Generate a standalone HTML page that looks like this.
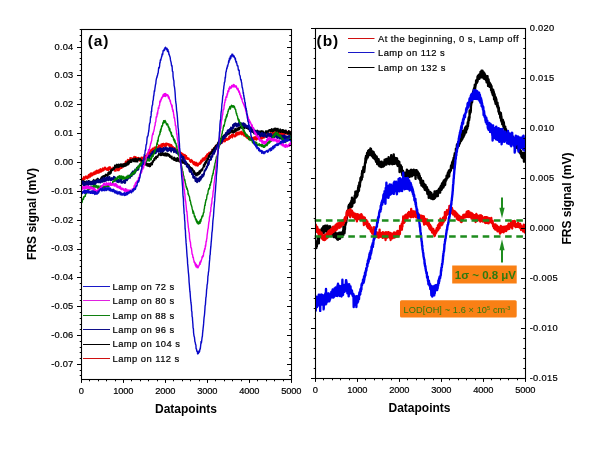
<!DOCTYPE html><html><head><meta charset="utf-8"><style>html,body{margin:0;padding:0;background:#fff;}svg{display:block;}</style></head><body><svg width="606" height="455" viewBox="0 0 606 455" font-family="'Liberation Sans', Arial, sans-serif">
<rect width="606" height="455" fill="#fff"/>
<defs><clipPath id="ca"><rect x="81.5" y="29.5" width="210.0" height="350.0"/></clipPath><clipPath id="cb"><rect x="315.5" y="28.5" width="210.0" height="350.0"/></clipPath></defs>
<g clip-path="url(#ca)">
<path d="M81.5 180.0l0.3 1.6 0.2 -3.2 0.3 2.9 0.2 -2.6 0.3 0.3 0.2 1.4 0.3 -1.7 0.2 0.4 0.3 -2.2 0.2 2.7 0.3 -1.0 0.2 -0.9 0.3 1.6 0.2 -2.0 0.3 0.4 0.2 -1.3 0.3 0.9 0.2 -0.9 0.3 0.1 0.2 1.7 0.3 -1.9 0.2 0.6 0.3 1.8 0.2 -0.2 0.3 -1.1 0.2 -0.8 0.3 -1.1 0.2 -0.6 0.3 2.9 0.2 -1.8 0.3 -1.7 0.2 1.8 0.3 0.5 0.2 -0.8 0.3 1.1 0.2 -3.5 0.3 1.7 0.2 -0.4 0.3 -1.6 0.2 2.1 0.3 0.7 0.2 -1.2 0.3 -1.4 0.2 2.1 0.3 -1.4 0.2 -0.1 0.3 0.8 0.2 -2.4 0.3 2.4 0.2 -0.6 0.3 0.2 0.2 -2.3 0.3 2.2 0.2 -2.5 0.3 -0.5 0.2 2.8 0.3 -0.1 0.2 0.0 0.3 -1.7 0.2 -0.9 0.3 -1.1 0.2 2.3 0.3 0.2 0.2 0.4 0.3 -2.3 0.2 -0.3 0.3 1.5 0.2 0.5 0.3 0.5 0.2 -3.2 0.3 1.2 0.2 1.4 0.3 -1.9 0.2 0.6 0.3 -2.3 0.2 2.4 0.3 0.8 0.2 -0.4 0.3 0.1 0.2 -1.0 0.3 -1.6 0.2 1.9 0.3 -2.2 0.2 2.2 0.3 -2.9 0.2 2.8 0.3 -2.6 0.2 0.7 0.3 -0.2 0.2 1.3 0.3 -2.0 0.2 0.8 0.3 -1.5 0.2 0.9 0.3 0.5 0.2 -1.2 0.3 1.9 0.2 -1.0 0.3 1.3 0.2 -0.3 0.3 -0.9 0.2 1.6 0.3 -1.0 0.2 0.7 0.3 -1.8 0.2 0.7 0.3 -1.3 0.2 3.0 0.3 -2.9 0.2 0.0 0.3 -0.7 0.2 0.7 0.3 1.9 0.2 -0.2 0.3 -2.2 0.2 0.9 0.3 0.2 0.2 1.0 0.3 -0.8 0.2 0.5 0.3 1.0 0.2 -0.3 0.3 -1.4 0.2 0.4 0.3 -0.3 0.2 -0.9 0.3 0.4 0.2 0.4 0.3 0.1 0.2 0.1 0.3 1.0 0.2 1.6 0.3 -0.7 0.2 0.1 0.3 -0.1 0.2 -0.6 0.3 1.3 0.2 -0.8 0.3 -0.7 0.2 -1.6 0.3 1.5 0.2 -1.0 0.3 -0.3 0.2 1.4 0.3 1.0 0.2 -2.0 0.3 1.7 0.2 -1.1 0.3 -1.6 0.2 2.9 0.3 -2.3 0.2 -0.6 0.3 1.8 0.2 -2.9 0.3 2.1 0.2 -2.3 0.3 0.5 0.2 -0.8 0.3 2.2 0.2 -1.9 0.3 2.0 0.2 -1.6 0.3 0.1 0.2 -0.9 0.3 -1.0 0.2 0.1 0.3 1.8 0.3 -3.0 0.2 2.8 0.3 -1.1 0.2 -1.7 0.3 0.8 0.2 -1.2 0.3 -0.2 0.2 0.3 0.3 -2.1 0.2 1.6 0.3 1.6 0.2 -2.9 0.3 1.6 0.2 -1.4 0.3 -1.1 0.2 2.4 0.3 -3.6 0.2 0.9 0.3 2.5 0.2 -3.0 0.3 2.0 0.2 -1.1 0.3 0.6 0.2 -0.8 0.3 -1.1 0.2 1.3 0.3 -2.9 0.2 1.5 0.3 -0.5 0.2 0.3 0.3 -1.4 0.2 0.2 0.3 1.1 0.2 -0.7 0.3 1.4 0.2 -0.8 0.3 0.8 0.2 -0.5 0.3 -0.6 0.2 -1.2 0.3 1.8 0.2 -2.0 0.3 -0.7 0.2 3.4 0.3 -1.6 0.2 0.9 0.3 -0.8 0.2 0.4 0.3 -2.2 0.2 0.7 0.3 1.9 0.2 -0.3 0.3 -1.4 0.2 3.1 0.3 -3.0 0.2 1.5 0.3 -1.4 0.2 2.3 0.3 -1.7 0.2 -0.5 0.3 -0.3 0.2 0.5 0.3 0.0 0.2 1.3 0.3 -0.3 0.2 1.9 0.3 0.0 0.2 -0.7 0.3 -0.5 0.2 0.7 0.3 0.3 0.2 -3.5 0.3 0.3 0.2 0.9 0.3 -1.1 0.2 1.9 0.3 -1.3 0.2 -0.1 0.3 0.1 0.2 -0.8 0.3 2.3 0.2 -0.4 0.3 -0.3 0.2 -2.4 0.3 1.4 0.2 0.8 0.3 -2.2 0.2 0.7 0.3 -1.6 0.2 0.0 0.3 0.4 0.2 0.5 0.3 -0.1 0.2 1.3 0.3 -2.5 0.2 -1.5 0.3 2.7 0.2 -3.2 0.3 -0.3 0.2 3.0 0.3 -1.1 0.2 -1.9 0.3 -1.1 0.2 0.7 0.3 -0.4 0.2 1.8 0.3 -1.9 0.2 -1.5 0.3 3.0 0.2 -1.4 0.3 -2.1 0.2 -0.2 0.3 1.1 0.2 -1.6 0.3 1.9 0.2 -0.3 0.3 -2.4 0.2 2.8 0.3 -0.2 0.2 0.3 0.3 -1.1 0.2 -0.1 0.3 -2.1 0.2 -0.7 0.3 0.0 0.2 3.3 0.3 -1.4 0.2 1.0 0.3 -2.4 0.2 1.4 0.3 -2.7 0.2 0.2 0.3 0.3 0.2 1.0 0.3 -0.1 0.2 -0.4 0.3 -0.4 0.2 0.5 0.3 1.3 0.2 -2.0 0.3 1.3 0.2 -3.1 0.3 1.2 0.2 0.5 0.3 0.2 0.2 -1.5 0.3 0.4 0.2 2.0 0.3 -1.2 0.2 -0.3 0.3 -2.1 0.2 -0.1 0.3 0.5 0.2 -0.4 0.3 3.2 0.2 -3.8 0.3 1.3 0.2 -1.2 0.3 2.1 0.2 -2.3 0.3 0.0 0.2 0.0 0.3 0.7 0.2 1.1 0.3 0.8 0.2 -2.1 0.3 0.0 0.2 2.0 0.3 -0.3 0.3 -2.4 0.2 2.5 0.3 0.1 0.2 -2.6 0.3 1.7 0.2 -1.6 0.3 0.1 0.2 1.0 0.3 0.1 0.2 -0.1 0.3 0.2 0.2 -1.1 0.3 2.2 0.2 -1.8 0.3 2.6 0.2 -1.4 0.3 -0.7 0.2 -0.3 0.3 1.4 0.2 -0.2 0.3 1.1 0.2 -0.3 0.3 -1.5 0.2 3.2 0.3 -2.7 0.2 3.1 0.3 0.2 0.2 0.6 0.3 -0.8 0.2 -1.7 0.3 1.3 0.2 0.1 0.3 0.9 0.2 -0.7 0.3 1.2 0.2 -1.6 0.3 0.7 0.2 0.9 0.3 -0.2 0.2 -1.0 0.3 3.3 0.2 -0.8 0.3 0.7 0.2 -1.7 0.3 2.4 0.2 -0.3 0.3 0.8 0.2 -2.8 0.3 1.3 0.2 -0.2 0.3 1.0 0.2 -1.2 0.3 -0.4 0.2 1.6 0.3 0.8 0.2 -0.8 0.3 2.5 0.2 -2.0 0.3 -0.3 0.2 2.2 0.3 -1.2 0.2 -0.5 0.3 0.2 0.2 2.7 0.3 0.2 0.2 -1.0 0.3 -1.2 0.2 1.8 0.3 -1.7 0.2 0.6 0.3 1.1 0.2 -0.4 0.3 0.0 0.2 2.6 0.3 -2.9 0.2 1.9 0.3 -2.0 0.2 0.4 0.3 0.7 0.2 3.2 0.3 -0.9 0.2 0.8 0.3 -2.9 0.2 2.6 0.3 -0.8 0.2 0.2 0.3 1.3 0.2 -1.4 0.3 1.0 0.2 -0.8 0.3 0.7 0.2 0.7 0.3 -1.2 0.2 0.6 0.3 0.7 0.2 0.4 0.3 1.4 0.2 -0.4 0.3 -0.1 0.2 1.3 0.3 -2.4 0.2 -0.2 0.3 1.3 0.2 -0.8 0.3 1.7 0.2 0.3 0.3 -1.5 0.2 2.4 0.3 -0.4 0.2 -0.3 0.3 2.0 0.2 0.0 0.3 -2.3 0.2 0.0 0.3 3.0 0.2 -2.8 0.3 2.5 0.2 -1.6 0.3 0.3 0.2 0.8 0.3 1.5 0.2 -3.4 0.3 0.7 0.2 2.1 0.3 -1.2 0.2 -0.4 0.3 2.5 0.2 -2.7 0.3 1.7 0.2 0.8 0.3 -0.9 0.2 -0.3 0.3 -0.1 0.2 0.1 0.3 -2.2 0.2 1.2 0.3 0.5 0.2 0.1 0.3 -0.2 0.2 -0.2 0.3 -3.3 0.2 0.8 0.3 0.1 0.2 1.4 0.3 -2.0 0.2 -0.8 0.3 -1.2 0.2 0.8 0.3 1.7 0.2 -3.1 0.3 0.3 0.2 0.3 0.3 0.6 0.2 -0.8 0.3 1.7 0.2 -2.8 0.3 1.1 0.2 0.6 0.3 0.3 0.2 -0.5 0.3 -3.0 0.2 2.2 0.3 -0.7 0.2 -1.2 0.3 -1.8 0.2 0.3 0.3 1.9 0.3 -2.8 0.2 0.7 0.3 -0.5 0.2 1.6 0.3 -1.8 0.2 -1.3 0.3 0.9 0.2 -0.5 0.3 1.3 0.2 -1.8 0.3 1.2 0.2 -0.9 0.3 1.1 0.2 -0.8 0.3 -1.5 0.2 0.0 0.3 -0.3 0.2 1.3 0.3 -3.1 0.2 0.9 0.3 0.1 0.2 -0.6 0.3 0.4 0.2 -0.7 0.3 -0.6 0.2 0.8 0.3 -1.6 0.2 0.8 0.3 0.2 0.2 -2.5 0.3 0.5 0.2 2.1 0.3 -0.2 0.2 -0.1 0.3 -3.9 0.2 2.7 0.3 0.2 0.2 -0.3 0.3 -1.0 0.2 -0.4 0.3 0.0 0.2 -0.8 0.3 0.6 0.2 -1.3 0.3 -1.3 0.2 -0.7 0.3 2.9 0.2 -0.8 0.3 -2.4 0.2 2.3 0.3 -2.2 0.2 1.1 0.3 -1.3 0.2 -0.7 0.3 -0.3 0.2 -0.6 0.3 -0.2 0.2 -0.2 0.3 -0.1 0.2 2.7 0.3 -1.4 0.2 -1.7 0.3 1.4 0.2 -0.1 0.3 -0.4 0.2 -1.3 0.3 0.7 0.2 1.5 0.3 -2.0 0.2 0.3 0.3 1.5 0.2 -2.8 0.3 1.7 0.2 -1.1 0.3 1.0 0.2 -1.8 0.3 0.6 0.2 -0.8 0.3 1.7 0.2 0.0 0.3 -1.2 0.2 1.2 0.3 -1.1 0.2 0.3 0.3 0.1 0.2 -2.5 0.3 2.6 0.2 -2.4 0.3 0.2 0.2 -1.3 0.3 2.3 0.2 -1.9 0.3 1.2 0.2 -1.9 0.3 0.4 0.2 0.0 0.3 -0.7 0.2 -0.8 0.3 2.7 0.2 0.6 0.3 -2.9 0.2 -0.3 0.3 0.6 0.2 -1.1 0.3 2.0 0.2 -1.1 0.3 0.6 0.2 1.2 0.3 -0.2 0.2 0.1 0.3 0.0 0.2 -1.4 0.3 -0.5 0.2 -1.8 0.3 0.1 0.2 1.5 0.3 1.2 0.2 -1.8 0.3 -1.7 0.2 0.7 0.3 1.9 0.2 -2.4 0.3 0.1 0.2 0.2 0.3 1.1 0.2 0.8 0.3 -2.5 0.2 1.4 0.3 -0.4 0.2 -0.4 0.3 0.5 0.2 0.8 0.3 -2.3 0.2 1.1 0.3 -1.5 0.2 1.6 0.3 1.1 0.2 0.8 0.3 -1.9 0.2 -0.6 0.3 1.2 0.2 -0.6 0.3 -0.9 0.2 1.7 0.3 1.3 0.2 0.5 0.3 0.5 0.2 -2.1 0.3 -0.3 0.2 -0.3 0.3 1.4 0.2 1.6 0.3 -1.9 0.2 2.5 0.3 -0.3 0.2 -1.7 0.3 1.8 0.2 0.9 0.3 0.7 0.2 -2.8 0.3 2.7 0.2 0.0 0.3 -1.8 0.2 0.3 0.3 2.7 0.2 -2.1 0.3 -0.2 0.2 1.8 0.3 -2.2 0.3 1.4 0.2 -0.4 0.3 0.7 0.2 0.3 0.3 0.1 0.2 -0.8 0.3 1.8 0.2 -0.2 0.3 0.3 0.2 -1.8 0.3 1.1 0.2 -1.2 0.3 -0.6 0.2 1.4 0.3 1.1 0.2 -0.5 0.3 -2.0 0.2 -0.2 0.3 2.0 0.2 -0.2 0.3 0.6 0.2 -2.8 0.3 2.7 0.2 -1.6 0.3 -0.6 0.2 0.2 0.3 2.5 0.2 -0.2 0.3 -3.3 0.2 0.8 0.3 1.5 0.2 -2.6 0.3 0.0 0.2 0.0 0.3 3.1 0.2 -2.0 0.3 -0.1 0.2 1.8 0.3 -1.9 0.2 1.6 0.3 -1.4 0.2 -0.3 0.3 0.3 0.2 -0.9 0.3 -0.4 0.2 3.0 0.3 0.0 0.2 -1.7 0.3 0.8 0.2 0.6 0.3 -1.8 0.2 1.1 0.3 0.1 0.2 -2.7 0.3 0.1 0.2 2.2 0.3 -0.2 0.2 -2.1 0.3 2.3 0.2 -0.2 0.3 -1.9 0.2 -0.1 0.3 -1.0 0.2 1.1 0.3 -1.4 0.2 1.5 0.3 0.2 0.2 -0.2 0.3 -2.1 0.2 2.0 0.3 0.3 0.2 -2.4 0.3 1.6 0.2 0.8 0.3 -2.5 0.2 2.6 0.3 0.2 0.2 -1.1 0.3 0.5 0.2 -2.3 0.3 1.4 0.2 1.0 0.3 -3.4 0.2 2.9 0.3 -2.3 0.2 2.1 0.3 -0.6 0.2 0.6 0.3 -1.6 0.2 0.1 0.3 1.8 0.2 -3.3 0.3 0.3 0.2 3.1 0.3 -0.3 0.2 -2.9 0.3 3.1 0.2 -2.7 0.3 2.3 0.2 0.0 0.3 -3.4 0.2 0.0 0.3 1.1 0.2 2.3 0.3 -0.6 0.2 -1.5 0.3 1.7 0.2 -2.1 0.3 0.1 0.2 -0.6 0.3 2.9 0.2 -0.6 0.3 -1.3 0.2 -0.8 0.3 2.7 0.2 -2.2 0.3 -0.8 0.2 0.8 0.3 1.1 0.2 0.2 0.3 -2.5 0.2 3.2 0.3 -1.1 0.2 -2.3 0.3 2.9 0.2 0.5 0.3 -0.5 0.2 -3.2 0.3 1.8 0.2 0.4 0.3 1.2 0.2 -1.5 0.3 -1.6 0.2 3.2 0.3 0.1 0.2 -1.7 0.3 -1.7 0.2 3.0 0.3 -0.4 0.2 0.9 0.3 -3.6 0.2 1.6 0.3 -0.6 0.2 -0.6 0.3 2.4 0.2 -1.5 0.3 -1.1 0.2 0.3 0.3 2.6 0.2 -0.7 0.3 -1.5 0.2 1.8 0.3 -2.1 0.2 2.1 0.3 -0.1 0.2 -2.4 0.3 1.9 0.2 0.9 0.3 0.1 0.2 -0.1 0.3 0.7 0.2 -0.5 0.3 0.7 0.2 -1.9 0.3 -1.4 0.2 0.6 0.3 0.4" fill="none" stroke="#f00000" stroke-width="1.6" stroke-linejoin="round"/>
<path d="M81.5 181.6l0.3 0.2 0.2 1.8 0.3 -2.6 0.2 1.9 0.3 0.4 0.2 -1.9 0.3 -0.5 0.2 0.8 0.3 1.3 0.2 -0.3 0.3 -1.5 0.2 1.0 0.3 0.8 0.2 -0.9 0.3 0.8 0.2 1.1 0.3 -1.0 0.2 -1.1 0.3 -0.7 0.2 0.5 0.3 0.6 0.2 1.4 0.3 -0.5 0.2 -1.6 0.3 2.1 0.2 -1.6 0.3 0.8 0.2 -2.2 0.3 0.0 0.2 0.3 0.3 2.5 0.2 -0.8 0.3 0.6 0.2 -0.8 0.3 -0.9 0.2 0.4 0.3 0.3 0.2 0.9 0.3 -1.6 0.2 1.6 0.3 -1.0 0.2 0.7 0.3 -1.2 0.2 0.6 0.3 -1.3 0.2 0.6 0.3 -1.2 0.2 -0.4 0.3 -0.3 0.2 2.3 0.3 -0.9 0.2 1.5 0.3 -0.3 0.2 -1.7 0.3 2.0 0.2 -1.4 0.3 0.5 0.2 -1.3 0.3 -0.9 0.2 -0.1 0.3 -0.1 0.2 1.5 0.3 -1.9 0.2 -0.4 0.3 2.8 0.2 -2.7 0.3 1.2 0.2 0.0 0.3 0.4 0.2 -0.5 0.3 1.5 0.2 -0.8 0.3 -0.7 0.2 0.1 0.3 -0.5 0.2 1.5 0.3 -2.8 0.2 1.6 0.3 -0.6 0.2 -2.0 0.3 0.8 0.2 2.2 0.3 -0.7 0.2 -2.9 0.3 0.9 0.2 -1.2 0.3 2.8 0.2 -2.7 0.3 -0.3 0.2 3.1 0.3 -2.1 0.2 -0.6 0.3 -1.1 0.2 1.1 0.3 -0.3 0.2 0.4 0.3 -2.1 0.2 0.4 0.3 0.0 0.2 0.6 0.3 -0.7 0.2 1.0 0.3 -1.4 0.2 2.0 0.3 0.0 0.2 -3.5 0.3 0.3 0.2 1.1 0.3 0.5 0.2 -2.8 0.3 0.2 0.2 0.8 0.3 0.5 0.2 0.6 0.3 -0.4 0.2 -0.5 0.3 -2.9 0.2 3.0 0.3 -1.6 0.2 -2.3 0.3 0.3 0.2 1.0 0.3 -1.2 0.2 -0.1 0.3 1.0 0.2 -0.3 0.3 -1.3 0.2 0.6 0.3 -1.7 0.2 1.8 0.3 -1.6 0.2 1.1 0.3 -3.5 0.2 2.9 0.3 -1.3 0.2 0.4 0.3 -1.9 0.2 1.1 0.3 -1.0 0.2 -0.7 0.3 -0.4 0.2 3.2 0.3 -0.9 0.2 -1.8 0.3 0.2 0.2 0.7 0.3 1.2 0.2 -2.6 0.3 3.0 0.2 -0.1 0.3 -2.6 0.2 1.4 0.3 -1.1 0.2 1.2 0.3 -2.2 0.2 1.3 0.3 0.4 0.2 0.1 0.3 0.2 0.2 0.6 0.3 -2.3 0.2 -0.4 0.3 0.8 0.2 0.6 0.3 1.4 0.2 -0.9 0.3 0.0 0.3 0.8 0.2 -2.6 0.3 -0.1 0.2 0.6 0.3 -0.5 0.2 1.2 0.3 1.0 0.2 -2.9 0.3 1.2 0.2 0.5 0.3 -0.8 0.2 1.4 0.3 -0.8 0.2 0.4 0.3 -2.9 0.2 0.1 0.3 -0.6 0.2 2.6 0.3 0.3 0.2 -3.6 0.3 2.6 0.2 -0.4 0.3 0.5 0.2 -2.5 0.3 1.4 0.2 -1.8 0.3 -0.8 0.2 2.2 0.3 -2.7 0.2 2.3 0.3 -1.7 0.2 0.6 0.3 1.3 0.2 -2.4 0.3 0.7 0.2 -0.6 0.3 -0.6 0.2 0.9 0.3 -1.1 0.2 2.1 0.3 -0.7 0.2 -1.2 0.3 2.5 0.2 -2.3 0.3 1.2 0.2 0.2 0.3 -1.6 0.2 -1.0 0.3 3.2 0.2 0.2 0.3 -2.8 0.2 0.0 0.3 1.0 0.2 0.6 0.3 1.4 0.2 -0.1 0.3 0.1 0.2 -2.7 0.3 1.3 0.2 -0.6 0.3 -0.8 0.2 -0.6 0.3 0.4 0.2 0.7 0.3 -1.0 0.2 0.2 0.3 -0.3 0.2 2.1 0.3 -0.4 0.2 -0.8 0.3 1.2 0.2 -0.2 0.3 1.1 0.2 1.2 0.3 -1.9 0.2 1.3 0.3 -1.2 0.2 2.8 0.3 -0.9 0.2 -1.4 0.3 0.5 0.2 -0.1 0.3 0.2 0.2 0.6 0.3 2.0 0.2 -1.1 0.3 -0.5 0.2 0.6 0.3 -0.3 0.2 1.8 0.3 -2.3 0.2 1.0 0.3 0.3 0.2 -0.4 0.3 2.2 0.2 -1.9 0.3 0.5 0.2 -0.8 0.3 2.6 0.2 -1.3 0.3 1.1 0.2 -1.5 0.3 -0.7 0.2 1.1 0.3 1.6 0.2 0.1 0.3 -1.9 0.2 1.6 0.3 -3.1 0.2 1.5 0.3 -1.2 0.2 0.4 0.3 -1.1 0.2 2.1 0.3 -2.5 0.2 2.0 0.3 -3.4 0.2 0.8 0.3 -0.3 0.2 0.5 0.3 -1.6 0.2 0.1 0.3 -1.9 0.2 0.5 0.3 1.2 0.2 -2.6 0.3 1.0 0.2 -1.1 0.3 -0.5 0.2 -0.5 0.3 2.2 0.2 -0.8 0.3 -1.4 0.2 -0.3 0.3 0.9 0.2 -0.8 0.3 0.8 0.2 -0.3 0.3 -1.9 0.2 0.4 0.3 -0.7 0.2 -1.1 0.3 0.4 0.2 0.8 0.3 -0.7 0.2 0.2 0.3 -0.5 0.2 1.6 0.3 -0.6 0.2 -2.3 0.3 2.5 0.2 0.4 0.3 -0.4 0.2 -1.7 0.3 0.1 0.2 -0.4 0.3 -0.6 0.2 1.5 0.3 1.4 0.2 -0.3 0.3 -0.3 0.2 0.7 0.3 -0.6 0.2 -1.6 0.3 2.2 0.2 -1.5 0.3 1.9 0.2 -2.0 0.3 -0.8 0.3 2.4 0.2 -2.2 0.3 2.8 0.2 -1.6 0.3 1.4 0.2 -2.6 0.3 1.9 0.2 0.6 0.3 -1.9 0.2 1.9 0.3 -1.6 0.2 0.7 0.3 0.4 0.2 1.1 0.3 -1.7 0.2 0.4 0.3 2.3 0.2 -0.1 0.3 -0.8 0.2 -0.4 0.3 1.6 0.2 -0.7 0.3 -0.4 0.2 2.2 0.3 -2.3 0.2 2.4 0.3 -0.6 0.2 0.3 0.3 0.2 0.2 0.4 0.3 0.6 0.2 0.2 0.3 -2.3 0.2 -0.2 0.3 2.7 0.2 -2.4 0.3 0.2 0.2 2.2 0.3 0.6 0.2 -0.3 0.3 -1.1 0.2 -0.5 0.3 2.3 0.2 -0.8 0.3 -0.3 0.2 -2.2 0.3 0.7 0.2 -0.6 0.3 3.3 0.2 -2.3 0.3 -0.2 0.2 1.6 0.3 -1.3 0.2 1.3 0.3 1.5 0.2 -0.2 0.3 -2.2 0.2 2.5 0.3 -1.8 0.2 0.5 0.3 -0.6 0.2 2.5 0.3 -2.4 0.2 1.7 0.3 -0.4 0.2 0.4 0.3 -2.0 0.2 1.7 0.3 1.7 0.2 -1.4 0.3 -1.2 0.2 -0.4 0.3 1.2 0.2 1.6 0.3 -2.4 0.2 0.3 0.3 2.4 0.2 1.0 0.3 -1.4 0.2 0.9 0.3 -1.1 0.2 0.3 0.3 1.0 0.2 -0.7 0.3 1.1 0.2 -0.9 0.3 3.1 0.2 -0.8 0.3 -1.7 0.2 0.6 0.3 2.6 0.2 -1.4 0.3 -0.2 0.2 -0.6 0.3 2.6 0.2 -0.1 0.3 1.2 0.2 -2.1 0.3 2.3 0.2 0.5 0.3 0.2 0.2 0.0 0.3 -0.8 0.2 -1.2 0.3 2.5 0.2 -1.9 0.3 0.5 0.2 1.5 0.3 -0.7 0.2 1.5 0.3 1.7 0.2 -2.1 0.3 2.6 0.2 1.0 0.3 -3.2 0.2 1.7 0.3 1.3 0.2 0.3 0.3 -1.4 0.2 2.1 0.3 -1.4 0.2 -0.5 0.3 1.3 0.2 0.4 0.3 0.8 0.2 -0.6 0.3 -2.2 0.2 1.7 0.3 -0.9 0.2 1.1 0.3 -2.6 0.2 2.0 0.3 0.2 0.2 -3.0 0.3 -0.4 0.2 2.8 0.3 -0.3 0.2 -3.0 0.3 2.3 0.2 -2.2 0.3 0.1 0.2 -0.6 0.3 -0.8 0.2 1.6 0.3 -1.4 0.2 0.9 0.3 -1.5 0.2 0.7 0.3 -1.8 0.2 -0.6 0.3 0.0 0.2 -2.5 0.3 2.3 0.2 -2.6 0.3 2.4 0.2 -3.7 0.3 2.0 0.2 -0.3 0.3 -1.3 0.2 -2.1 0.3 2.1 0.2 -2.2 0.3 -0.6 0.2 1.0 0.3 0.5 0.2 -3.6 0.3 0.7 0.3 0.4 0.2 -1.9 0.3 1.9 0.2 -1.6 0.3 -2.4 0.2 -0.1 0.3 -0.5 0.2 0.7 0.3 1.2 0.2 -3.2 0.3 -0.3 0.2 -0.2 0.3 0.9 0.2 -0.9 0.3 -0.4 0.2 -1.4 0.3 2.1 0.2 -1.6 0.3 1.0 0.2 -3.4 0.3 1.1 0.2 -0.7 0.3 1.4 0.2 -1.0 0.3 -0.9 0.2 -1.7 0.3 1.5 0.2 0.4 0.3 -0.8 0.2 0.3 0.3 -1.7 0.2 -1.3 0.3 -0.7 0.2 1.7 0.3 -0.3 0.2 -1.0 0.3 0.2 0.2 -1.4 0.3 1.0 0.2 -0.9 0.3 -1.9 0.2 0.9 0.3 -0.1 0.2 -1.9 0.3 2.3 0.2 -0.8 0.3 -2.6 0.2 -0.1 0.3 -1.0 0.2 3.1 0.3 -3.1 0.2 2.1 0.3 -1.4 0.2 -1.9 0.3 0.3 0.2 -0.1 0.3 1.5 0.2 -1.7 0.3 -1.1 0.2 2.6 0.3 -1.8 0.2 -1.9 0.3 3.0 0.2 -1.3 0.3 -1.2 0.2 -1.3 0.3 1.7 0.2 -2.4 0.3 2.8 0.2 -0.9 0.3 -0.4 0.2 -0.1 0.3 0.1 0.2 -1.6 0.3 1.0 0.2 -2.7 0.3 1.9 0.2 0.0 0.3 -2.2 0.2 -0.5 0.3 2.7 0.2 -0.3 0.3 -3.0 0.2 1.6 0.3 -1.6 0.2 -0.1 0.3 2.5 0.2 -1.1 0.3 0.3 0.2 -1.9 0.3 1.7 0.2 -0.4 0.3 -1.3 0.2 0.5 0.3 -0.9 0.2 1.2 0.3 -1.6 0.2 0.9 0.3 1.4 0.2 -0.7 0.3 -0.3 0.2 -1.8 0.3 2.5 0.2 -0.8 0.3 1.1 0.2 -0.1 0.3 -0.1 0.2 -1.6 0.3 0.8 0.2 -2.6 0.3 -0.4 0.2 2.5 0.3 -0.5 0.2 0.8 0.3 -2.5 0.2 0.5 0.3 0.9 0.2 -0.9 0.3 0.7 0.2 -1.8 0.3 1.5 0.2 -0.1 0.3 0.1 0.2 -2.0 0.3 1.7 0.2 -2.3 0.3 0.9 0.2 1.3 0.3 -1.4 0.2 -0.3 0.3 -1.0 0.2 0.5 0.3 -0.2 0.2 0.5 0.3 -0.6 0.2 -0.9 0.3 -0.5 0.2 2.8 0.3 -1.4 0.2 -1.6 0.3 0.5 0.2 1.1 0.3 -1.4 0.2 2.4 0.3 -1.3 0.2 0.6 0.3 0.0 0.2 -1.7 0.3 2.8 0.2 -0.2 0.3 -2.4 0.2 1.6 0.3 0.0 0.2 -0.6 0.3 0.3 0.2 -0.3 0.3 1.5 0.2 -0.6 0.3 -1.0 0.2 0.6 0.3 -0.2 0.2 1.8 0.3 -0.1 0.2 -0.5 0.3 0.7 0.2 0.4 0.3 -1.3 0.2 -0.4 0.3 3.4 0.3 -2.7 0.2 0.4 0.3 1.8 0.2 1.2 0.3 -2.9 0.2 1.1 0.3 1.8 0.2 -2.6 0.3 0.7 0.2 1.5 0.3 0.9 0.2 -2.5 0.3 1.3 0.2 0.7 0.3 0.0 0.2 0.0 0.3 1.8 0.2 0.0 0.3 -2.7 0.2 0.2 0.3 0.5 0.2 -1.0 0.3 0.2 0.2 1.5 0.3 1.5 0.2 -2.4 0.3 -0.4 0.2 1.6 0.3 -1.2 0.2 -1.0 0.3 0.3 0.2 2.9 0.3 -2.8 0.2 2.0 0.3 -0.8 0.2 1.3 0.3 -1.0 0.2 -0.9 0.3 -0.1 0.2 0.1 0.3 0.0 0.2 0.1 0.3 0.2 0.2 1.1 0.3 -0.3 0.2 -1.6 0.3 1.2 0.2 1.9 0.3 0.0 0.2 -2.2 0.3 -0.6 0.2 0.5 0.3 -0.5 0.2 0.4 0.3 2.4 0.2 -0.2 0.3 -1.5 0.2 0.4 0.3 0.5 0.2 0.0 0.3 0.0 0.2 0.1 0.3 -0.5 0.2 -1.7 0.3 2.0 0.2 -0.1 0.3 -1.9 0.2 0.0 0.3 1.6 0.2 -1.0 0.3 1.4 0.2 -2.0 0.3 1.3 0.2 -0.3 0.3 -1.9 0.2 0.5 0.3 0.2 0.2 -0.3 0.3 -0.9 0.2 0.4 0.3 1.0 0.2 -1.3 0.3 1.4 0.2 -0.9 0.3 0.0 0.2 -1.0 0.3 2.0 0.2 -2.6 0.3 3.0 0.2 -1.3 0.3 1.2 0.2 -1.5 0.3 -0.8 0.2 0.0 0.3 2.0 0.2 -1.5 0.3 -0.5 0.2 -0.8 0.3 -0.1 0.2 1.0 0.3 0.1 0.2 1.3 0.3 -2.4 0.2 1.2 0.3 -1.1 0.2 0.5 0.3 0.8 0.2 1.5 0.3 -2.7 0.2 0.2 0.3 2.0 0.2 -0.6 0.3 -1.6 0.2 2.2 0.3 1.1 0.2 -0.8 0.3 1.0 0.2 -0.8 0.3 -1.5 0.2 1.8 0.3 -0.8 0.2 -1.7 0.3 1.1 0.2 2.1 0.3 -1.0 0.2 -0.9 0.3 1.2 0.2 0.0 0.3 -1.8 0.2 1.1 0.3 1.3 0.2 -2.4 0.3 1.6 0.2 -1.5 0.3 0.6 0.2 1.8 0.3 -1.4 0.2 1.7 0.3 -0.2 0.2 -0.3 0.3 -1.7 0.2 1.2 0.3 1.6 0.2 -0.9 0.3 -1.9 0.2 1.6 0.3 -0.1 0.2 0.2 0.3 -0.2 0.2 1.5 0.3 -1.0 0.2 1.3 0.3 0.4 0.2 -0.2 0.3 -0.3 0.2 -2.7 0.3 0.0 0.2 0.7 0.3 1.3 0.2 -0.7 0.3 -0.5 0.2 2.9 0.3 -1.7 0.2 -0.7 0.3 1.2 0.2 1.7 0.3 -0.8" fill="none" stroke="#000000" stroke-width="1.6" stroke-linejoin="round"/>
<path d="M81.5 184.9l0.3 0.0 0.2 -1.2 0.3 -1.0 0.2 -1.0 0.3 1.4 0.2 0.1 0.3 -1.5 0.2 0.0 0.3 4.0 0.2 -1.5 0.3 -1.7 0.2 0.8 0.3 2.3 0.2 -0.4 0.3 -0.2 0.2 -1.9 0.3 0.4 0.2 0.8 0.3 -2.6 0.2 2.1 0.3 -1.2 0.2 2.5 0.3 -3.4 0.2 2.5 0.3 0.8 0.2 -2.7 0.3 2.8 0.2 -0.1 0.3 -3.6 0.2 2.9 0.3 -3.0 0.2 2.1 0.3 -0.3 0.2 -0.9 0.3 0.5 0.2 2.0 0.3 -2.1 0.2 -0.8 0.3 2.3 0.2 -1.1 0.3 1.5 0.2 -2.5 0.3 0.3 0.2 2.0 0.3 -1.3 0.2 0.0 0.3 -1.2 0.2 -1.0 0.3 3.8 0.2 -3.7 0.3 3.1 0.2 -2.0 0.3 2.3 0.2 -2.4 0.3 2.2 0.2 -1.7 0.3 -1.4 0.2 2.1 0.3 -0.4 0.2 -0.1 0.3 -1.0 0.2 -1.1 0.3 1.7 0.2 -2.3 0.3 2.4 0.2 -0.3 0.3 -1.2 0.2 1.7 0.3 -2.6 0.2 0.7 0.3 1.7 0.2 -1.9 0.3 1.4 0.2 -0.5 0.3 1.3 0.2 0.1 0.3 -1.2 0.2 0.3 0.3 -2.8 0.2 2.3 0.3 0.5 0.2 -2.0 0.3 0.6 0.2 -0.4 0.3 1.9 0.2 -2.8 0.3 0.3 0.2 -1.7 0.3 1.7 0.2 0.8 0.3 1.2 0.2 -0.1 0.3 -2.6 0.2 2.7 0.3 -3.4 0.2 2.6 0.3 -2.8 0.2 1.0 0.3 -1.4 0.2 3.2 0.3 -0.1 0.2 -3.0 0.3 1.6 0.2 -1.1 0.3 0.9 0.2 0.3 0.3 -1.9 0.2 3.1 0.3 -2.5 0.2 0.7 0.3 -1.7 0.2 -0.2 0.3 0.8 0.2 0.6 0.3 2.4 0.2 -0.2 0.3 -1.7 0.2 -0.1 0.3 0.9 0.2 0.7 0.3 -2.2 0.2 2.0 0.3 -1.7 0.2 0.8 0.3 0.6 0.2 -1.0 0.3 0.8 0.2 0.0 0.3 -2.8 0.2 0.2 0.3 0.5 0.2 0.3 0.3 0.1 0.2 -0.5 0.3 0.8 0.2 1.7 0.3 1.3 0.2 -2.1 0.3 0.2 0.2 0.4 0.3 1.2 0.2 0.6 0.3 0.8 0.2 -2.3 0.3 1.5 0.2 -1.4 0.3 2.1 0.2 -2.4 0.3 2.8 0.2 -1.5 0.3 1.0 0.2 -0.7 0.3 -0.8 0.2 0.8 0.3 -1.8 0.2 0.1 0.3 2.1 0.2 -0.1 0.3 1.5 0.2 -3.3 0.3 2.3 0.2 -0.2 0.3 0.5 0.2 0.5 0.3 -0.8 0.2 0.2 0.3 -0.4 0.3 0.5 0.2 -1.6 0.3 1.1 0.2 0.4 0.3 -2.2 0.2 3.2 0.3 -1.3 0.2 0.7 0.3 -3.0 0.2 0.4 0.3 -1.0 0.2 -1.2 0.3 -0.4 0.2 0.8 0.3 2.3 0.2 -3.1 0.3 2.0 0.2 -2.1 0.3 -1.0 0.2 0.3 0.3 1.8 0.2 -1.0 0.3 0.0 0.2 -0.7 0.3 -1.0 0.2 0.7 0.3 1.5 0.2 -3.3 0.3 2.0 0.2 -2.3 0.3 -0.5 0.2 0.3 0.3 -1.2 0.2 3.3 0.3 -2.7 0.2 -1.1 0.3 -1.0 0.2 0.0 0.3 0.4 0.2 0.6 0.3 0.6 0.2 1.3 0.3 -0.6 0.2 -3.0 0.3 1.3 0.2 1.1 0.3 -3.7 0.2 2.9 0.3 -2.2 0.2 1.4 0.3 -2.2 0.2 1.0 0.3 -0.7 0.2 -2.0 0.3 2.5 0.2 0.0 0.3 -1.6 0.2 -0.7 0.3 2.1 0.2 -2.6 0.3 1.8 0.2 -2.2 0.3 -0.4 0.2 -0.3 0.3 -1.5 0.2 0.6 0.3 -0.4 0.2 -1.0 0.3 1.8 0.2 -0.7 0.3 -2.0 0.2 0.3 0.3 3.0 0.2 -3.6 0.3 0.8 0.2 2.2 0.3 -3.8 0.2 1.0 0.3 1.4 0.2 -3.5 0.3 -0.1 0.2 3.4 0.3 -1.3 0.2 -2.0 0.3 0.6 0.2 -1.2 0.3 2.5 0.2 0.0 0.3 -3.9 0.2 1.6 0.3 -1.7 0.2 0.7 0.3 1.2 0.2 -0.4 0.3 -2.4 0.2 0.3 0.3 0.2 0.2 -0.5 0.3 1.0 0.2 0.2 0.3 -2.2 0.2 0.2 0.3 -1.9 0.2 0.9 0.3 2.1 0.2 -2.1 0.3 -0.1 0.2 -0.2 0.3 -0.4 0.2 0.7 0.3 -2.6 0.2 -0.1 0.3 2.2 0.2 -1.9 0.3 1.8 0.2 -3.7 0.3 2.5 0.2 -1.4 0.3 -0.2 0.2 1.5 0.3 -3.3 0.2 1.5 0.3 -1.3 0.2 0.3 0.3 1.9 0.2 -1.9 0.3 1.5 0.2 -3.3 0.3 4.0 0.2 -0.2 0.3 -1.3 0.2 -2.1 0.3 1.9 0.2 -2.1 0.3 0.7 0.2 -1.5 0.3 0.1 0.2 0.3 0.3 0.0 0.2 2.7 0.3 -2.6 0.2 2.4 0.3 -3.5 0.2 0.1 0.3 0.0 0.2 3.5 0.3 -0.5 0.2 -3.4 0.3 3.8 0.2 -3.1 0.3 0.1 0.2 1.3 0.3 -1.6 0.2 3.2 0.3 -2.6 0.2 0.8 0.3 -0.1 0.2 -1.2 0.3 1.8 0.2 1.1 0.3 -1.7 0.2 -2.2 0.3 3.0 0.2 -0.6 0.3 -0.8 0.2 0.7 0.3 -1.7 0.2 0.2 0.3 0.9 0.3 -1.9 0.2 2.2 0.3 -1.7 0.2 0.3 0.3 2.7 0.2 -1.3 0.3 -1.4 0.2 1.9 0.3 1.2 0.2 -0.3 0.3 -0.4 0.2 -2.0 0.3 1.1 0.2 0.0 0.3 -2.0 0.2 2.6 0.3 -0.7 0.2 0.0 0.3 1.0 0.2 -2.8 0.3 0.7 0.2 3.3 0.3 -2.9 0.2 -0.1 0.3 -0.7 0.2 1.0 0.3 1.1 0.2 -2.1 0.3 1.1 0.2 -0.1 0.3 -0.3 0.2 2.7 0.3 0.8 0.2 -0.1 0.3 -2.0 0.2 -1.5 0.3 1.3 0.2 0.8 0.3 -0.5 0.2 1.5 0.3 0.2 0.2 0.8 0.3 -1.7 0.2 -0.8 0.3 3.0 0.2 0.0 0.3 -2.9 0.2 0.5 0.3 2.1 0.2 0.9 0.3 0.9 0.2 -3.7 0.3 1.0 0.2 1.2 0.3 0.8 0.2 1.3 0.3 -0.6 0.2 0.1 0.3 -0.9 0.2 2.1 0.3 0.0 0.2 1.9 0.3 -2.9 0.2 0.1 0.3 1.2 0.2 0.2 0.3 0.9 0.2 -0.9 0.3 2.6 0.2 0.8 0.3 -3.1 0.2 4.2 0.3 -3.1 0.2 1.2 0.3 1.2 0.2 0.1 0.3 -0.5 0.2 2.6 0.3 0.9 0.2 -2.1 0.3 0.1 0.2 2.0 0.3 -1.1 0.2 3.7 0.3 0.1 0.2 0.4 0.3 -1.3 0.2 2.0 0.3 -1.2 0.2 0.7 0.3 -1.0 0.2 0.2 0.3 3.1 0.2 -1.6 0.3 3.6 0.2 -1.2 0.3 0.5 0.2 1.7 0.3 -2.1 0.2 -0.8 0.3 1.2 0.2 1.4 0.3 -0.9 0.2 1.0 0.3 2.4 0.2 -1.1 0.3 0.3 0.2 0.0 0.3 1.7 0.2 2.4 0.3 -3.1 0.2 3.3 0.3 0.2 0.2 -0.4 0.3 0.2 0.2 0.3 0.3 -1.4 0.2 2.3 0.3 2.1 0.2 -0.8 0.3 -0.8 0.2 0.1 0.3 2.0 0.2 -3.4 0.3 0.9 0.2 3.3 0.3 -1.3 0.2 0.8 0.3 -1.3 0.2 -2.1 0.3 1.9 0.2 0.3 0.3 -2.5 0.2 1.5 0.3 1.7 0.2 -3.9 0.3 -0.3 0.2 -0.1 0.3 2.2 0.2 0.6 0.3 -3.5 0.2 2.6 0.3 -3.0 0.2 1.0 0.3 0.6 0.2 -3.0 0.3 1.1 0.2 1.3 0.3 -2.5 0.2 1.5 0.3 -1.8 0.2 1.7 0.3 -2.7 0.2 1.3 0.3 -3.6 0.2 0.6 0.3 -1.3 0.2 0.5 0.3 -0.5 0.2 -1.3 0.3 0.2 0.2 0.5 0.3 -1.0 0.2 -2.0 0.3 1.3 0.2 -0.6 0.3 -1.8 0.3 -0.5 0.2 -1.8 0.3 2.2 0.2 -2.6 0.3 -0.8 0.2 2.1 0.3 -3.2 0.2 -1.0 0.3 0.3 0.2 0.1 0.3 -0.1 0.2 -1.4 0.3 0.7 0.2 -3.2 0.3 3.3 0.2 -2.4 0.3 -0.5 0.2 -0.5 0.3 -1.2 0.2 1.8 0.3 -1.9 0.2 -2.0 0.3 0.6 0.2 0.2 0.3 -1.0 0.2 -1.5 0.3 2.8 0.2 -3.5 0.3 2.0 0.2 -1.7 0.3 -0.1 0.2 0.3 0.3 -3.2 0.2 1.6 0.3 -0.6 0.2 -0.5 0.3 -2.2 0.2 -0.4 0.3 1.6 0.2 -0.5 0.3 -0.9 0.2 -1.3 0.3 0.6 0.2 0.9 0.3 0.3 0.2 -0.7 0.3 -3.5 0.2 1.0 0.3 0.3 0.2 0.9 0.3 -1.4 0.2 0.7 0.3 -0.9 0.2 -2.9 0.3 3.4 0.2 -2.1 0.3 -0.2 0.2 -1.8 0.3 2.3 0.2 0.1 0.3 -3.1 0.2 0.2 0.3 -2.1 0.2 2.6 0.3 -0.9 0.2 -2.0 0.3 2.1 0.2 -1.5 0.3 1.3 0.2 -0.8 0.3 -3.4 0.2 0.3 0.3 2.2 0.2 -3.7 0.3 0.1 0.2 3.0 0.3 -0.8 0.2 -2.7 0.3 0.1 0.2 -1.6 0.3 0.1 0.2 -0.8 0.3 2.2 0.2 -0.2 0.3 -2.3 0.2 2.6 0.3 -1.7 0.2 0.2 0.3 0.0 0.2 -2.2 0.3 2.3 0.2 -1.9 0.3 0.1 0.2 -1.9 0.3 0.3 0.2 0.6 0.3 0.8 0.2 -1.4 0.3 0.2 0.2 0.6 0.3 -1.8 0.2 -1.9 0.3 2.1 0.2 1.3 0.3 -4.0 0.2 1.6 0.3 0.6 0.2 -0.9 0.3 -1.8 0.2 1.6 0.3 -2.0 0.2 -0.1 0.3 1.0 0.2 -0.7 0.3 1.3 0.2 1.8 0.3 -3.1 0.2 3.2 0.3 -2.8 0.2 2.0 0.3 -1.3 0.2 1.0 0.3 0.3 0.2 -0.1 0.3 -2.9 0.2 3.1 0.3 -3.3 0.2 2.6 0.3 -3.0 0.2 1.1 0.3 -0.7 0.2 2.0 0.3 -1.3 0.2 1.1 0.3 -1.5 0.2 0.8 0.3 2.1 0.2 -1.2 0.3 -0.4 0.2 1.0 0.3 1.2 0.2 -2.7 0.3 -0.8 0.2 0.6 0.3 -0.2 0.2 1.1 0.3 1.5 0.2 0.2 0.3 -2.6 0.2 0.4 0.3 0.9 0.2 2.2 0.3 -1.4 0.2 0.4 0.3 -0.9 0.2 1.2 0.3 0.4 0.2 -1.0 0.3 1.2 0.2 0.8 0.3 -1.5 0.2 0.5 0.3 -1.2 0.2 0.7 0.3 -0.8 0.2 0.2 0.3 0.3 0.2 3.6 0.3 -0.6 0.3 -0.4 0.2 1.1 0.3 -2.5 0.2 0.9 0.3 1.2 0.2 1.3 0.3 -1.1 0.2 -1.5 0.3 -0.2 0.2 0.2 0.3 3.2 0.2 0.7 0.3 -2.9 0.2 3.0 0.3 -3.1 0.2 3.5 0.3 -0.4 0.2 -0.8 0.3 0.2 0.2 -1.0 0.3 3.2 0.2 -2.6 0.3 0.1 0.2 2.3 0.3 -0.7 0.2 -0.1 0.3 0.4 0.2 -1.8 0.3 0.2 0.2 3.8 0.3 -1.0 0.2 -0.3 0.3 -0.1 0.2 -1.2 0.3 -0.2 0.2 1.9 0.3 -2.3 0.2 0.2 0.3 1.4 0.2 1.1 0.3 1.6 0.2 -2.0 0.3 -0.5 0.2 2.7 0.3 -2.7 0.2 0.8 0.3 0.0 0.2 -1.7 0.3 0.3 0.2 -0.4 0.3 3.3 0.2 -1.7 0.3 1.3 0.2 -0.9 0.3 0.2 0.2 1.6 0.3 -2.0 0.2 -1.2 0.3 2.4 0.2 -2.6 0.3 2.0 0.2 -0.6 0.3 0.3 0.2 1.3 0.3 0.5 0.2 0.5 0.3 -0.7 0.2 0.1 0.3 0.6 0.2 -2.3 0.3 -0.2 0.2 -1.3 0.3 1.8 0.2 -1.7 0.3 0.7 0.2 0.9 0.3 0.0 0.2 1.5 0.3 -1.3 0.2 1.1 0.3 -2.9 0.2 3.0 0.3 0.2 0.2 -3.2 0.3 1.5 0.2 1.2 0.3 -2.1 0.2 2.9 0.3 0.7 0.2 -0.8 0.3 -0.6 0.2 0.7 0.3 0.7 0.2 0.0 0.3 -2.5 0.2 1.3 0.3 -2.3 0.2 3.5 0.3 -3.6 0.2 1.0 0.3 1.3 0.2 -1.5 0.3 0.9 0.2 -0.3 0.3 1.4 0.2 -0.6 0.3 1.3 0.2 -0.8 0.3 0.4 0.2 -2.9 0.3 2.8 0.2 1.0 0.3 -3.2 0.2 2.8 0.3 0.0 0.2 -2.9 0.3 2.3 0.2 -1.3 0.3 0.3 0.2 2.7 0.3 -1.8 0.2 -0.3 0.3 1.4 0.2 -1.7 0.3 -1.1 0.2 3.6 0.3 -3.4 0.2 3.2 0.3 0.3 0.2 -2.1 0.3 -1.4 0.2 1.5 0.3 0.3 0.2 1.1 0.3 0.9 0.2 -3.1 0.3 -0.9 0.2 4.0 0.3 -4.0 0.2 4.0 0.3 -0.2 0.2 0.0 0.3 -2.0 0.2 -0.9 0.3 1.7 0.2 -0.6 0.3 1.2 0.2 -2.2 0.3 1.2 0.2 1.9 0.3 -1.3 0.2 1.4 0.3 -0.7 0.2 -2.6 0.3 2.2 0.2 -1.9 0.3 -0.5 0.2 2.3 0.3 -2.5 0.2 0.2 0.3 1.4 0.2 -0.8 0.3 2.0 0.2 -1.6 0.3 -0.1 0.2 1.3 0.3 -0.1" fill="none" stroke="#000080" stroke-width="1.7" stroke-linejoin="round"/>
<path d="M81.5 201.2l0.3 0.0 0.2 1.3 0.3 -1.2 0.2 -2.1 0.3 0.6 0.2 -0.4 0.3 -1.5 0.2 1.3 0.3 -2.4 0.2 0.3 0.3 -0.1 0.2 -0.7 0.3 0.0 0.2 0.0 0.3 0.1 0.2 -2.7 0.3 0.6 0.2 -0.4 0.3 -1.9 0.2 -1.5 0.3 2.6 0.2 -2.7 0.3 -0.4 0.2 1.4 0.3 -1.4 0.2 -0.6 0.3 0.7 0.2 -2.6 0.3 2.0 0.2 -1.3 0.3 -1.1 0.2 1.6 0.3 0.7 0.2 -2.5 0.3 1.2 0.2 -1.2 0.3 1.3 0.2 -0.2 0.3 -1.7 0.2 1.9 0.3 -0.6 0.2 0.0 0.3 0.4 0.2 -1.3 0.3 1.0 0.2 0.3 0.3 -2.5 0.2 2.3 0.3 -1.5 0.2 0.3 0.3 -1.1 0.2 1.7 0.3 -1.3 0.2 1.8 0.3 -1.9 0.2 0.9 0.3 -0.5 0.2 0.7 0.3 -1.4 0.2 0.0 0.3 1.9 0.2 0.1 0.3 -0.6 0.2 1.2 0.3 -2.2 0.2 2.2 0.3 -2.1 0.2 2.6 0.3 -1.0 0.2 0.0 0.3 1.2 0.2 -0.5 0.3 0.0 0.2 -2.3 0.3 1.0 0.2 -0.9 0.3 0.3 0.2 0.0 0.3 2.1 0.2 -2.4 0.3 0.5 0.2 0.6 0.3 1.2 0.2 0.3 0.3 -0.9 0.2 -1.6 0.3 1.0 0.2 0.5 0.3 -2.2 0.2 2.0 0.3 -1.0 0.2 0.6 0.3 0.2 0.2 -0.1 0.3 -0.5 0.2 0.1 0.3 -1.3 0.2 0.9 0.3 -1.2 0.2 1.1 0.3 0.1 0.2 0.6 0.3 -1.3 0.2 -1.3 0.3 1.5 0.2 -1.1 0.3 1.5 0.2 -1.2 0.3 -0.2 0.2 1.5 0.3 -1.8 0.2 -0.3 0.3 -0.2 0.2 0.2 0.3 -1.4 0.2 1.2 0.3 1.0 0.2 -1.3 0.3 0.4 0.2 0.4 0.3 -0.5 0.2 -0.5 0.3 0.0 0.2 -0.2 0.3 -2.0 0.2 0.6 0.3 -0.7 0.2 -0.4 0.3 0.8 0.2 -1.1 0.3 0.8 0.2 -0.4 0.3 -1.7 0.2 0.8 0.3 -0.4 0.2 0.7 0.3 -2.2 0.2 0.0 0.3 0.9 0.2 -0.6 0.3 0.6 0.2 -1.3 0.3 -0.7 0.2 2.2 0.3 -2.4 0.2 -0.5 0.3 0.3 0.2 0.0 0.3 -0.5 0.2 0.9 0.3 1.3 0.2 -2.7 0.3 0.9 0.2 0.8 0.3 0.8 0.2 0.4 0.3 -2.7 0.2 1.3 0.3 1.2 0.2 -2.5 0.3 1.8 0.2 -1.3 0.3 2.0 0.2 0.7 0.3 -1.2 0.2 -1.7 0.3 0.3 0.3 1.2 0.2 1.4 0.3 -1.9 0.2 1.3 0.3 -0.8 0.2 -0.5 0.3 1.4 0.2 -1.4 0.3 0.2 0.2 1.1 0.3 -0.9 0.2 0.8 0.3 -1.0 0.2 -1.2 0.3 0.8 0.2 1.2 0.3 -1.1 0.2 1.2 0.3 -3.2 0.2 0.9 0.3 1.3 0.2 -0.4 0.3 -0.5 0.2 0.2 0.3 0.5 0.2 -0.8 0.3 -0.6 0.2 -0.1 0.3 0.2 0.2 -1.3 0.3 1.0 0.2 -0.4 0.3 0.4 0.2 -1.2 0.3 -1.6 0.2 1.4 0.3 0.8 0.2 -0.9 0.3 -0.2 0.2 -1.0 0.3 -0.4 0.2 1.0 0.3 -2.3 0.2 2.3 0.3 -0.3 0.2 0.0 0.3 -2.9 0.2 -0.4 0.3 2.2 0.2 -1.9 0.3 -0.8 0.2 0.0 0.3 0.6 0.2 -1.9 0.3 0.7 0.2 0.2 0.3 -0.2 0.2 -2.5 0.3 2.2 0.2 -1.5 0.3 -0.3 0.2 0.1 0.3 -1.2 0.2 1.6 0.3 -2.5 0.2 0.7 0.3 -1.5 0.2 1.2 0.3 0.6 0.2 -0.4 0.3 -2.6 0.2 1.3 0.3 0.6 0.2 -2.5 0.3 0.5 0.2 0.7 0.3 -0.1 0.2 -1.2 0.3 0.4 0.2 -0.1 0.3 -1.3 0.2 0.8 0.3 -0.4 0.2 0.2 0.3 -0.8 0.2 -0.7 0.3 0.1 0.2 1.5 0.3 -2.5 0.2 -0.2 0.3 -0.5 0.2 2.7 0.3 0.4 0.2 -2.5 0.3 0.1 0.2 -0.2 0.3 1.2 0.2 -0.4 0.3 1.1 0.2 -2.0 0.3 2.1 0.2 -1.3 0.3 1.1 0.2 -0.1 0.3 0.3 0.2 -1.4 0.3 0.3 0.2 -0.3 0.3 -1.4 0.2 0.8 0.3 1.0 0.2 -0.4 0.3 -3.3 0.2 1.7 0.3 -1.6 0.2 -1.0 0.3 -0.4 0.2 1.6 0.3 0.1 0.2 -1.9 0.3 -1.0 0.2 -0.1 0.3 0.4 0.2 -0.8 0.3 -2.9 0.2 -0.1 0.3 1.4 0.2 -1.9 0.3 -0.2 0.2 -0.3 0.3 -1.3 0.2 -0.6 0.3 -1.5 0.2 -1.9 0.3 -1.1 0.2 1.6 0.3 -4.2 0.2 1.3 0.3 -0.4 0.2 -3.0 0.3 -1.5 0.2 0.1 0.3 -1.2 0.2 -0.5 0.3 -1.1 0.2 0.7 0.3 -3.5 0.2 1.7 0.3 -3.6 0.2 2.1 0.3 -2.7 0.2 0.5 0.3 -3.1 0.2 0.6 0.3 0.0 0.2 -1.0 0.3 -0.1 0.2 -2.8 0.3 0.2 0.2 0.2 0.3 -2.3 0.2 2.2 0.3 -1.6 0.2 -0.6 0.3 -0.1 0.2 1.5 0.3 -1.8 0.2 0.8 0.3 0.5 0.3 0.1 0.2 1.9 0.3 -0.1 0.2 1.3 0.3 -0.2 0.2 -1.0 0.3 0.5 0.2 -0.2 0.3 0.8 0.2 1.6 0.3 0.9 0.2 -0.8 0.3 0.7 0.2 2.1 0.3 1.1 0.2 -2.2 0.3 0.6 0.2 2.8 0.3 -0.2 0.2 0.4 0.3 1.3 0.2 1.0 0.3 -1.7 0.2 3.4 0.3 0.5 0.2 -1.2 0.3 0.7 0.2 -0.1 0.3 1.6 0.2 -0.7 0.3 1.6 0.2 1.7 0.3 -0.7 0.2 1.6 0.3 -1.5 0.2 2.8 0.3 -1.8 0.2 1.0 0.3 2.3 0.2 -0.6 0.3 0.1 0.2 0.7 0.3 3.1 0.2 -1.6 0.3 1.0 0.2 3.7 0.3 0.4 0.2 -0.3 0.3 0.4 0.2 3.1 0.3 0.7 0.2 0.7 0.3 0.5 0.2 1.0 0.3 2.5 0.2 -0.5 0.3 -0.4 0.2 1.0 0.3 2.7 0.2 1.5 0.3 0.7 0.2 1.5 0.3 -0.3 0.2 1.3 0.3 0.8 0.2 1.5 0.3 0.8 0.2 2.9 0.3 -1.1 0.2 1.4 0.3 2.7 0.2 0.1 0.3 0.9 0.2 3.1 0.3 0.7 0.2 -1.1 0.3 0.8 0.2 2.0 0.3 1.3 0.2 0.2 0.3 1.8 0.2 1.2 0.3 1.4 0.2 -0.9 0.3 2.2 0.2 -1.0 0.3 0.9 0.2 0.9 0.3 1.1 0.2 3.1 0.3 -0.5 0.2 1.3 0.3 0.8 0.2 0.1 0.3 0.4 0.2 1.3 0.3 3.1 0.2 -0.7 0.3 1.2 0.2 0.4 0.3 2.5 0.2 0.8 0.3 0.0 0.2 1.4 0.3 0.6 0.2 1.5 0.3 1.1 0.2 0.9 0.3 1.9 0.2 1.0 0.3 -2.0 0.2 1.9 0.3 -0.3 0.2 1.7 0.3 2.1 0.2 0.2 0.3 0.3 0.2 -0.9 0.3 2.9 0.2 0.1 0.3 -0.4 0.2 2.1 0.3 -1.8 0.2 1.1 0.3 2.4 0.2 -1.9 0.3 0.7 0.2 1.5 0.3 0.9 0.2 -0.2 0.3 -1.7 0.2 0.8 0.3 1.2 0.2 -1.3 0.3 -0.7 0.2 -1.0 0.3 0.5 0.2 1.7 0.3 -3.4 0.2 1.1 0.3 0.6 0.2 -1.3 0.3 -2.0 0.2 0.5 0.3 -2.3 0.2 0.5 0.3 -1.4 0.2 1.3 0.3 -0.8 0.2 -1.2 0.3 -2.2 0.2 0.3 0.3 -0.5 0.2 -3.1 0.3 -0.7 0.2 -2.4 0.3 -1.4 0.2 0.6 0.3 -3.3 0.2 0.4 0.3 -2.8 0.2 0.6 0.3 -0.9 0.2 -0.5 0.3 -2.8 0.2 -1.0 0.3 -1.0 0.3 0.1 0.2 -0.7 0.3 -3.0 0.2 -0.2 0.3 -1.7 0.2 -0.3 0.3 0.8 0.2 -0.2 0.3 -0.7 0.2 -3.8 0.3 0.2 0.2 0.7 0.3 -2.1 0.2 -1.4 0.3 0.4 0.2 -0.7 0.3 -3.3 0.2 0.2 0.3 -2.2 0.2 -1.0 0.3 0.1 0.2 -2.0 0.3 0.6 0.2 -2.5 0.3 -1.7 0.2 0.3 0.3 -2.4 0.2 -1.7 0.3 1.8 0.2 -3.8 0.3 -1.3 0.2 0.0 0.3 -2.7 0.2 1.4 0.3 -3.4 0.2 -1.2 0.3 1.9 0.2 -2.6 0.3 0.2 0.2 -1.2 0.3 -1.7 0.2 -3.3 0.3 0.8 0.2 -2.9 0.3 -1.3 0.2 1.5 0.3 -2.8 0.2 0.3 0.3 -1.8 0.2 -0.3 0.3 -1.5 0.2 0.0 0.3 -2.7 0.2 0.2 0.3 -1.2 0.2 -1.8 0.3 -1.3 0.2 -1.3 0.3 -0.4 0.2 -2.6 0.3 -0.3 0.2 -0.4 0.3 -2.1 0.2 -1.4 0.3 -1.4 0.2 1.2 0.3 -0.8 0.2 -1.1 0.3 -1.4 0.2 -1.2 0.3 -2.7 0.2 1.8 0.3 -2.1 0.2 -0.2 0.3 -2.5 0.2 1.2 0.3 -2.7 0.2 1.8 0.3 -1.5 0.2 -1.3 0.3 -0.3 0.2 -2.1 0.3 0.2 0.2 -2.0 0.3 0.1 0.2 -0.6 0.3 -0.9 0.2 0.4 0.3 -1.6 0.2 -0.4 0.3 0.7 0.2 1.8 0.3 -1.2 0.2 -1.2 0.3 -1.0 0.2 -0.5 0.3 0.8 0.2 0.5 0.3 0.5 0.2 -1.3 0.3 1.2 0.2 0.0 0.3 0.2 0.2 -1.3 0.3 0.7 0.2 -0.6 0.3 1.8 0.2 -1.3 0.3 1.8 0.2 -0.4 0.3 1.7 0.2 -0.2 0.3 0.2 0.2 2.2 0.3 0.9 0.2 1.3 0.3 -0.5 0.2 2.1 0.3 0.2 0.2 0.1 0.3 1.8 0.2 1.5 0.3 -0.5 0.2 1.9 0.3 0.8 0.2 -1.9 0.3 1.2 0.2 0.8 0.3 1.5 0.2 0.1 0.3 0.8 0.2 -1.1 0.3 1.2 0.2 0.1 0.3 2.4 0.2 0.3 0.3 -0.7 0.2 2.3 0.3 -1.9 0.2 0.2 0.3 1.6 0.2 1.5 0.3 1.4 0.2 -0.8 0.3 -0.7 0.2 2.0 0.3 -1.4 0.2 3.1 0.3 -1.2 0.2 -0.2 0.3 0.6 0.2 2.5 0.3 0.7 0.2 -2.0 0.3 2.9 0.2 -0.1 0.3 -1.4 0.2 -0.6 0.3 0.6 0.2 1.2 0.3 -0.4 0.2 0.2 0.3 0.5 0.2 2.2 0.3 -2.4 0.2 3.1 0.3 -1.3 0.2 1.1 0.3 -0.5 0.3 1.7 0.2 -2.3 0.3 0.5 0.2 1.0 0.3 0.2 0.2 -0.3 0.3 0.1 0.2 -0.5 0.3 1.5 0.2 1.3 0.3 0.3 0.2 -1.3 0.3 2.0 0.2 0.2 0.3 -1.9 0.2 -0.4 0.3 2.5 0.2 0.5 0.3 -0.8 0.2 1.2 0.3 -1.4 0.2 0.4 0.3 -1.3 0.2 1.1 0.3 1.9 0.2 -2.5 0.3 0.3 0.2 -0.2 0.3 1.6 0.2 0.4 0.3 -0.1 0.2 1.2 0.3 -0.5 0.2 -0.1 0.3 0.0 0.2 -0.2 0.3 -1.3 0.2 0.2 0.3 1.8 0.2 -1.3 0.3 0.7 0.2 0.8 0.3 0.0 0.2 -1.1 0.3 0.2 0.2 -0.4 0.3 1.7 0.2 0.3 0.3 -1.9 0.2 0.5 0.3 -0.3 0.2 1.5 0.3 -1.0 0.2 1.9 0.3 -2.0 0.2 1.3 0.3 -0.1 0.2 1.0 0.3 -0.8 0.2 0.6 0.3 -1.2 0.2 -2.0 0.3 0.9 0.2 1.2 0.3 -1.5 0.2 0.8 0.3 -1.9 0.2 1.5 0.3 -1.1 0.2 1.6 0.3 -3.0 0.2 0.7 0.3 1.0 0.2 -1.4 0.3 -0.1 0.2 -0.6 0.3 -1.1 0.2 0.5 0.3 1.5 0.2 -0.6 0.3 -1.7 0.2 0.9 0.3 0.2 0.2 -0.3 0.3 -2.6 0.2 0.0 0.3 2.2 0.2 -2.5 0.3 1.2 0.2 -0.9 0.3 0.4 0.2 -2.9 0.3 2.3 0.2 -0.6 0.3 -2.4 0.2 1.1 0.3 -2.7 0.2 2.4 0.3 -1.8 0.2 0.8 0.3 -0.2 0.2 -2.7 0.3 2.5 0.2 -2.7 0.3 0.1 0.2 0.8 0.3 -0.7 0.2 1.3 0.3 -1.4 0.2 1.4 0.3 0.6 0.2 0.8 0.3 -1.6 0.2 -0.1 0.3 1.1 0.2 0.5 0.3 1.1 0.2 -0.8 0.3 -0.2 0.2 -0.2 0.3 1.6 0.2 0.0 0.3 -1.5 0.2 1.0 0.3 0.0 0.2 1.4 0.3 0.1 0.2 -0.3 0.3 1.5 0.2 0.8 0.3 -0.6 0.2 1.9 0.3 -2.1 0.2 0.1 0.3 2.3 0.2 -0.3 0.3 0.6 0.2 0.6 0.3 -1.4 0.2 1.0 0.3 -0.5 0.2 -0.5 0.3 0.0 0.2 1.5 0.3 -2.1 0.2 0.3 0.3 0.1 0.2 0.5 0.3 -1.9 0.2 1.8 0.3 -2.1 0.2 1.0 0.3 0.1 0.2 0.3 0.3 -0.1 0.2 0.0 0.3 -2.0 0.2 0.7 0.3 1.2 0.2 -1.3 0.3 1.1 0.2 -1.2 0.3 -0.2 0.2 0.1 0.3 0.7 0.2 -3.5 0.3 0.0" fill="none" stroke="#008000" stroke-width="1.4" stroke-linejoin="round"/>
<path d="M81.5 189.9l0.3 -1.5 0.2 1.4 0.3 -3.0 0.2 1.5 0.3 -0.8 0.2 1.3 0.3 -2.1 0.2 2.1 0.3 -1.1 0.2 1.1 0.3 -1.5 0.2 -0.2 0.3 1.1 0.2 0.6 0.3 -2.0 0.2 1.9 0.3 -0.2 0.2 -2.4 0.3 1.3 0.2 0.3 0.3 0.8 0.2 -0.9 0.3 -1.8 0.2 1.2 0.3 0.0 0.2 0.0 0.3 1.5 0.2 -1.9 0.3 -0.4 0.2 1.0 0.3 0.4 0.2 1.1 0.3 -1.1 0.2 -0.9 0.3 2.2 0.2 -1.3 0.3 0.7 0.2 -0.5 0.3 -0.7 0.2 1.6 0.3 0.4 0.2 -1.8 0.3 1.0 0.2 -0.2 0.3 -0.4 0.2 0.2 0.3 2.5 0.2 -0.1 0.3 -1.5 0.2 1.3 0.3 -2.1 0.2 3.0 0.3 -1.0 0.2 1.0 0.3 -1.5 0.2 0.5 0.3 0.0 0.2 2.2 0.3 -1.7 0.2 0.4 0.3 1.5 0.2 -0.1 0.3 -1.6 0.2 -0.4 0.3 1.5 0.2 -2.3 0.3 0.7 0.2 1.4 0.3 -0.1 0.2 -2.4 0.3 -0.8 0.2 2.1 0.3 -0.8 0.2 -1.5 0.3 0.7 0.2 -1.7 0.3 1.7 0.2 -0.9 0.3 0.2 0.2 -2.4 0.3 1.4 0.2 -1.2 0.3 0.1 0.2 -0.8 0.3 0.7 0.2 -0.5 0.3 0.0 0.2 -1.8 0.3 0.4 0.2 -0.6 0.3 0.9 0.2 0.2 0.3 -1.2 0.2 1.7 0.3 -0.7 0.2 0.0 0.3 0.3 0.2 1.0 0.3 -1.2 0.2 -1.6 0.3 0.2 0.2 1.7 0.3 -1.2 0.2 1.3 0.3 -0.8 0.2 -0.4 0.3 1.2 0.2 -1.8 0.3 0.3 0.2 0.1 0.3 0.4 0.2 1.5 0.3 -0.2 0.2 0.0 0.3 -0.6 0.2 -2.0 0.3 0.9 0.2 0.8 0.3 1.2 0.2 -1.6 0.3 0.6 0.2 1.0 0.3 -1.6 0.2 1.3 0.3 -0.5 0.2 -0.2 0.3 0.4 0.2 -0.4 0.3 -1.2 0.2 2.6 0.3 0.3 0.2 -0.4 0.3 -1.5 0.2 1.0 0.3 0.5 0.2 -2.2 0.3 2.5 0.2 -2.2 0.3 2.9 0.2 -2.1 0.3 2.4 0.2 -2.2 0.3 1.1 0.2 1.1 0.3 0.6 0.2 -0.8 0.3 0.6 0.2 -1.3 0.3 1.3 0.2 -1.1 0.3 1.9 0.2 -0.4 0.3 -1.1 0.2 1.5 0.3 -2.1 0.2 2.9 0.3 -0.6 0.2 -1.0 0.3 1.2 0.2 0.6 0.3 -0.4 0.2 1.0 0.3 -1.4 0.2 -0.2 0.3 0.3 0.2 -0.1 0.3 0.7 0.3 1.0 0.2 0.5 0.3 -0.6 0.2 0.6 0.3 0.7 0.2 -0.9 0.3 -1.7 0.2 1.8 0.3 -1.8 0.2 2.2 0.3 1.2 0.2 -1.5 0.3 1.5 0.2 -2.8 0.3 3.2 0.2 -2.5 0.3 2.3 0.2 -1.7 0.3 0.4 0.2 -0.8 0.3 -0.2 0.2 2.3 0.3 0.0 0.2 -2.0 0.3 1.5 0.2 -1.2 0.3 1.9 0.2 -2.5 0.3 1.3 0.2 0.8 0.3 -1.3 0.2 0.3 0.3 0.2 0.2 -0.5 0.3 0.2 0.2 -2.2 0.3 1.9 0.2 -1.6 0.3 0.9 0.2 -1.1 0.3 -0.3 0.2 0.2 0.3 -3.2 0.2 1.9 0.3 -2.3 0.2 1.2 0.3 -2.4 0.2 0.2 0.3 -1.5 0.2 1.7 0.3 -2.1 0.2 0.1 0.3 0.5 0.2 -1.8 0.3 1.2 0.2 -1.7 0.3 0.9 0.2 -1.1 0.3 0.2 0.2 -1.4 0.3 -1.8 0.2 0.2 0.3 0.7 0.2 -0.5 0.3 -2.8 0.2 -0.5 0.3 -0.6 0.2 0.6 0.3 -2.0 0.2 1.0 0.3 -1.8 0.2 1.0 0.3 -2.5 0.2 1.6 0.3 -2.5 0.2 -1.5 0.3 -0.2 0.2 1.5 0.3 -2.6 0.2 -0.4 0.3 1.8 0.2 -2.4 0.3 0.1 0.2 -1.0 0.3 -0.9 0.2 0.6 0.3 -3.5 0.2 0.4 0.3 -0.6 0.2 -0.1 0.3 -0.7 0.2 -3.2 0.3 -0.5 0.2 -0.4 0.3 -0.5 0.2 0.6 0.3 -0.9 0.2 -0.2 0.3 -2.5 0.2 -0.7 0.3 -1.7 0.2 1.6 0.3 -0.8 0.2 -0.7 0.3 -1.6 0.2 -0.4 0.3 -1.9 0.2 0.0 0.3 -2.6 0.2 0.4 0.3 -1.0 0.2 -1.5 0.3 -0.4 0.2 -1.6 0.3 -2.4 0.2 -1.8 0.3 -0.2 0.2 -1.5 0.3 1.1 0.2 -2.3 0.3 -0.5 0.2 -0.5 0.3 -1.6 0.2 -0.9 0.3 -2.2 0.2 -0.5 0.3 -0.6 0.2 -2.9 0.3 -0.3 0.2 -0.4 0.3 -3.5 0.2 -1.7 0.3 0.2 0.2 0.1 0.3 -2.2 0.2 -2.1 0.3 1.3 0.2 -2.7 0.3 -1.3 0.2 -2.2 0.3 0.0 0.2 0.7 0.3 -2.8 0.2 0.1 0.3 -0.4 0.2 -3.9 0.3 1.4 0.2 -2.5 0.3 0.5 0.2 0.4 0.3 -2.2 0.2 0.6 0.3 -2.0 0.2 0.5 0.3 -0.1 0.2 -1.0 0.3 -1.1 0.2 1.0 0.3 -2.1 0.2 0.3 0.3 1.3 0.2 -1.1 0.3 -1.5 0.2 1.8 0.3 0.6 0.2 -2.4 0.3 2.5 0.2 -2.9 0.3 3.1 0.3 -1.1 0.2 -1.0 0.3 -0.2 0.2 0.9 0.3 0.1 0.2 0.4 0.3 0.2 0.2 -1.2 0.3 0.8 0.2 0.0 0.3 2.6 0.2 -1.7 0.3 2.1 0.2 -1.4 0.3 2.4 0.2 -0.1 0.3 0.8 0.2 1.4 0.3 -0.8 0.2 1.9 0.3 1.3 0.2 0.2 0.3 0.3 0.2 1.1 0.3 1.6 0.2 -1.8 0.3 4.2 0.2 -0.6 0.3 2.6 0.2 -1.5 0.3 2.0 0.2 2.2 0.3 1.3 0.2 2.5 0.3 -0.6 0.2 1.2 0.3 2.9 0.2 0.1 0.3 4.0 0.2 -0.5 0.3 1.0 0.2 3.7 0.3 0.4 0.2 4.0 0.3 -0.8 0.2 3.1 0.3 2.1 0.2 1.5 0.3 0.5 0.2 3.4 0.3 0.6 0.2 1.6 0.3 4.7 0.2 -0.2 0.3 1.3 0.2 1.6 0.3 4.6 0.2 1.8 0.3 1.4 0.2 1.9 0.3 0.1 0.2 2.7 0.3 2.2 0.2 0.2 0.3 3.2 0.2 2.0 0.3 0.9 0.2 2.2 0.3 -0.1 0.2 3.1 0.3 1.8 0.2 2.2 0.3 3.9 0.2 2.2 0.3 -0.6 0.2 3.9 0.3 1.0 0.2 3.7 0.3 3.2 0.2 -0.5 0.3 3.0 0.2 1.9 0.3 3.4 0.2 2.5 0.3 -0.2 0.2 2.8 0.3 2.8 0.2 4.2 0.3 1.6 0.2 1.9 0.3 3.4 0.2 0.4 0.3 3.5 0.2 0.4 0.3 2.2 0.2 4.2 0.3 1.6 0.2 1.3 0.3 0.4 0.2 2.3 0.3 3.6 0.2 0.0 0.3 0.1 0.2 1.9 0.3 2.4 0.2 2.1 0.3 -0.1 0.2 0.5 0.3 2.8 0.2 -0.5 0.3 0.8 0.2 1.9 0.3 0.6 0.2 1.9 0.3 -0.6 0.2 1.2 0.3 0.0 0.2 1.3 0.3 1.3 0.2 -2.1 0.3 3.1 0.2 0.5 0.3 -1.3 0.2 -0.8 0.3 1.8 0.2 0.9 0.3 -1.5 0.2 0.0 0.3 0.4 0.2 1.5 0.3 -1.3 0.2 0.0 0.3 -0.8 0.2 -0.2 0.3 -1.3 0.2 -0.4 0.3 -1.8 0.2 2.3 0.3 -3.2 0.2 1.5 0.3 -1.1 0.2 -0.2 0.3 -1.3 0.2 -0.5 0.3 -1.4 0.2 -1.5 0.3 1.1 0.2 -0.7 0.3 -1.7 0.2 1.1 0.3 -0.8 0.2 -2.6 0.3 -0.6 0.2 -1.7 0.3 0.7 0.2 -2.7 0.3 -0.6 0.2 0.9 0.3 -3.9 0.2 1.1 0.3 -2.5 0.2 -2.6 0.3 0.4 0.2 -2.4 0.3 -1.0 0.2 -3.0 0.3 -1.9 0.3 -2.5 0.2 -1.7 0.3 -0.6 0.2 -2.2 0.3 -2.9 0.2 -1.5 0.3 -0.8 0.2 -3.3 0.3 -1.9 0.2 0.3 0.3 -3.6 0.2 -0.7 0.3 -0.2 0.2 -4.5 0.3 -0.8 0.2 -2.5 0.3 0.1 0.2 -2.8 0.3 -3.3 0.2 0.3 0.3 -1.4 0.2 -2.4 0.3 -3.7 0.2 0.5 0.3 -3.0 0.2 -3.0 0.3 -2.9 0.2 -0.6 0.3 -3.5 0.2 -2.0 0.3 -0.4 0.2 -1.9 0.3 -2.7 0.2 -2.7 0.3 -1.1 0.2 -2.2 0.3 -4.9 0.2 0.0 0.3 -2.0 0.2 -2.9 0.3 -2.7 0.2 -1.1 0.3 -4.5 0.2 0.7 0.3 -3.3 0.2 -2.1 0.3 -1.9 0.2 -2.7 0.3 -2.7 0.2 -2.3 0.3 -2.4 0.2 -2.5 0.3 0.7 0.2 -1.6 0.3 -2.7 0.2 -3.1 0.3 -1.4 0.2 -0.3 0.3 -2.6 0.2 -1.8 0.3 -0.2 0.2 -3.1 0.3 -2.0 0.2 -0.5 0.3 0.2 0.2 -0.9 0.3 -3.8 0.2 0.6 0.3 -3.3 0.2 0.6 0.3 -2.8 0.2 -0.7 0.3 0.9 0.2 -3.1 0.3 0.5 0.2 -1.4 0.3 1.2 0.2 -1.5 0.3 -2.3 0.2 1.5 0.3 -1.9 0.2 -2.2 0.3 -0.3 0.2 1.1 0.3 -0.1 0.2 -3.5 0.3 1.2 0.2 -1.6 0.3 1.3 0.2 -2.5 0.3 2.1 0.2 -0.8 0.3 0.1 0.2 -0.7 0.3 0.4 0.2 0.4 0.3 -2.6 0.2 0.7 0.3 -0.6 0.2 0.7 0.3 0.4 0.2 -0.8 0.3 1.2 0.2 -2.5 0.3 0.4 0.2 -0.1 0.3 -0.1 0.2 1.7 0.3 0.4 0.2 -0.9 0.3 1.2 0.2 -0.9 0.3 0.9 0.2 -1.5 0.3 1.1 0.2 -0.6 0.3 2.4 0.2 0.0 0.3 0.8 0.2 0.4 0.3 -0.6 0.2 -0.9 0.3 1.0 0.2 1.6 0.3 0.8 0.2 0.6 0.3 -1.3 0.2 0.8 0.3 2.6 0.2 -1.4 0.3 2.0 0.2 0.5 0.3 1.8 0.2 -1.7 0.3 2.7 0.2 -0.6 0.3 1.7 0.2 -1.0 0.3 2.1 0.2 1.1 0.3 0.5 0.2 0.9 0.3 0.2 0.2 0.4 0.3 1.2 0.2 -1.0 0.3 2.4 0.2 -0.9 0.3 1.8 0.2 0.7 0.3 -0.3 0.2 1.1 0.3 2.5 0.2 0.6 0.3 0.4 0.2 1.6 0.3 -0.1 0.2 1.2 0.3 0.7 0.2 1.8 0.3 -1.4 0.2 3.1 0.3 -2.0 0.2 1.6 0.3 2.7 0.2 -1.9 0.3 1.0 0.2 -0.2 0.3 2.7 0.3 -1.7 0.2 1.2 0.3 0.3 0.2 0.0 0.3 1.6 0.2 -0.2 0.3 2.4 0.2 -1.1 0.3 1.3 0.2 -1.7 0.3 3.1 0.2 -0.2 0.3 -0.4 0.2 1.3 0.3 -1.1 0.2 1.0 0.3 2.3 0.2 -0.2 0.3 1.9 0.2 0.0 0.3 1.2 0.2 0.3 0.3 -1.9 0.2 2.8 0.3 0.0 0.2 -1.2 0.3 0.2 0.2 0.9 0.3 2.0 0.2 -1.1 0.3 0.9 0.2 0.2 0.3 0.7 0.2 -0.3 0.3 -0.8 0.2 3.1 0.3 -0.9 0.2 -1.4 0.3 0.8 0.2 2.7 0.3 0.4 0.2 -1.2 0.3 -0.2 0.2 0.5 0.3 -0.1 0.2 0.8 0.3 0.6 0.2 -1.3 0.3 2.9 0.2 -2.3 0.3 -0.2 0.2 1.8 0.3 -0.7 0.2 1.4 0.3 -1.7 0.2 1.2 0.3 -1.3 0.2 2.3 0.3 -1.9 0.2 2.2 0.3 -2.5 0.2 1.0 0.3 -0.6 0.2 1.4 0.3 -2.1 0.2 0.4 0.3 0.7 0.2 -2.8 0.3 1.0 0.2 0.9 0.3 -2.2 0.2 -0.7 0.3 1.3 0.2 0.5 0.3 0.1 0.2 -1.4 0.3 -1.0 0.2 -0.7 0.3 1.3 0.2 -0.8 0.3 1.4 0.2 0.4 0.3 0.0 0.2 -1.5 0.3 2.5 0.2 -0.6 0.3 -0.4 0.2 0.5 0.3 0.5 0.2 -1.8 0.3 1.4 0.2 -1.1 0.3 0.0 0.2 1.9 0.3 -2.6 0.2 1.2 0.3 1.0 0.2 -0.4 0.3 -0.7 0.2 1.3 0.3 -1.7 0.2 1.0 0.3 0.0 0.2 -1.0 0.3 0.1 0.2 2.3 0.3 -2.3 0.2 2.8 0.3 -2.0 0.2 2.1 0.3 -0.7 0.2 -0.6 0.3 1.3 0.2 -2.3 0.3 1.5 0.2 0.7 0.3 0.2 0.2 -1.2 0.3 -0.6 0.2 3.1 0.3 0.1 0.2 -1.7 0.3 1.9 0.2 -2.0 0.3 0.6 0.2 2.5 0.3 -2.6 0.2 1.8 0.3 0.7 0.2 0.5 0.3 0.5 0.2 -2.5 0.3 2.3 0.2 -0.1 0.3 -0.3 0.2 -0.6 0.3 2.0 0.2 -1.5 0.3 1.1 0.2 -1.0 0.3 0.4 0.2 1.7 0.3 -2.5 0.2 2.0 0.3 -2.5 0.2 2.8 0.3 -1.0 0.2 -1.0 0.3 1.4 0.2 -0.2 0.3 0.6 0.2 -0.9 0.3 0.2 0.2 -1.3 0.3 1.3 0.2 -0.3 0.3 -1.0 0.2 -0.9 0.3 2.2 0.2 -1.8 0.3 1.0 0.2 -2.6 0.3 0.6 0.2 -0.5 0.3 1.5 0.2 -1.3 0.3 1.1" fill="none" stroke="#f000f0" stroke-width="1.4" stroke-linejoin="round"/>
<path d="M81.5 192.3l0.3 -0.6 0.2 0.0 0.3 0.0 0.2 1.9 0.3 -1.1 0.2 0.1 0.3 -1.1 0.2 1.1 0.3 -1.8 0.2 -0.3 0.3 2.5 0.2 -2.7 0.3 3.1 0.2 -0.5 0.3 -0.1 0.2 -2.4 0.3 0.5 0.2 2.1 0.3 -1.4 0.2 0.6 0.3 -1.6 0.2 0.2 0.3 1.0 0.2 0.8 0.3 -0.7 0.2 -1.4 0.3 2.5 0.2 -2.4 0.3 1.0 0.2 0.5 0.3 -0.9 0.2 0.3 0.3 1.5 0.2 -1.3 0.3 0.2 0.2 1.4 0.3 -2.2 0.2 2.0 0.3 -1.6 0.2 -0.1 0.3 1.8 0.2 -2.5 0.3 2.6 0.2 0.0 0.3 0.2 0.2 -2.6 0.3 0.7 0.2 1.8 0.3 -1.0 0.2 -1.3 0.3 2.2 0.2 0.5 0.3 0.6 0.2 -2.6 0.3 0.4 0.2 1.9 0.3 -2.3 0.2 0.6 0.3 0.6 0.2 -0.1 0.3 0.4 0.2 1.1 0.3 -0.9 0.2 -0.1 0.3 -0.5 0.2 -1.6 0.3 0.4 0.2 1.3 0.3 -0.7 0.2 -0.9 0.3 -1.1 0.2 0.8 0.3 -1.0 0.2 -0.8 0.3 0.3 0.2 -1.0 0.3 1.1 0.2 -0.8 0.3 1.4 0.2 0.1 0.3 0.5 0.2 -0.5 0.3 -2.5 0.2 2.1 0.3 0.2 0.2 0.2 0.3 -1.2 0.2 -0.1 0.3 0.2 0.2 -1.2 0.3 2.5 0.2 0.1 0.3 -2.3 0.2 2.2 0.3 -2.5 0.2 -0.4 0.3 2.1 0.2 0.3 0.3 -2.0 0.2 2.4 0.3 -1.8 0.2 -0.7 0.3 0.4 0.2 -0.6 0.3 2.1 0.2 -1.6 0.3 1.3 0.2 -0.7 0.3 -1.1 0.2 1.5 0.3 1.2 0.2 -2.4 0.3 2.5 0.2 -2.6 0.3 1.5 0.2 -1.2 0.3 2.8 0.2 -1.4 0.3 1.2 0.2 -0.4 0.3 -0.7 0.2 -0.5 0.3 2.1 0.2 0.2 0.3 -0.2 0.2 0.2 0.3 -2.3 0.2 0.7 0.3 1.2 0.2 -1.5 0.3 1.8 0.2 1.2 0.3 -1.8 0.2 1.2 0.3 -1.4 0.2 2.0 0.3 0.4 0.2 -0.1 0.3 -1.1 0.2 -0.2 0.3 -0.7 0.2 2.6 0.3 0.3 0.2 -1.0 0.3 0.7 0.2 -1.6 0.3 1.8 0.2 -1.5 0.3 1.6 0.2 -2.2 0.3 1.2 0.2 -0.4 0.3 -0.6 0.2 0.8 0.3 2.1 0.2 -1.9 0.3 -0.6 0.2 1.8 0.3 0.4 0.2 -1.3 0.3 1.9 0.2 -0.7 0.3 -0.5 0.2 1.2 0.3 -0.3 0.2 -0.6 0.3 -1.1 0.3 0.9 0.2 0.3 0.3 0.9 0.2 0.2 0.3 -2.8 0.2 1.5 0.3 1.3 0.2 -1.6 0.3 1.0 0.2 -1.7 0.3 2.0 0.2 -2.3 0.3 0.3 0.2 -0.2 0.3 -0.4 0.2 1.6 0.3 0.5 0.2 -2.3 0.3 0.0 0.2 0.5 0.3 -0.4 0.2 1.0 0.3 -1.8 0.2 1.3 0.3 -0.3 0.2 -1.4 0.3 1.0 0.2 -0.4 0.3 -1.1 0.2 0.7 0.3 0.9 0.2 0.5 0.3 0.1 0.2 -0.8 0.3 -1.2 0.2 -1.1 0.3 1.6 0.2 -0.6 0.3 0.7 0.2 -2.1 0.3 1.0 0.2 -2.0 0.3 0.4 0.2 0.1 0.3 0.9 0.2 -1.7 0.3 0.5 0.2 0.8 0.3 -0.6 0.2 -1.9 0.3 -1.3 0.2 0.9 0.3 0.0 0.2 -1.1 0.3 0.0 0.2 -2.3 0.3 -0.3 0.2 -1.0 0.3 -0.9 0.2 0.7 0.3 0.3 0.2 -2.0 0.3 1.1 0.2 -2.8 0.3 -0.8 0.2 0.6 0.3 -1.6 0.2 -1.4 0.3 -1.9 0.2 -1.5 0.3 -0.8 0.2 -1.2 0.3 -0.4 0.2 -1.5 0.3 -0.7 0.2 -2.2 0.3 0.0 0.2 -0.4 0.3 -1.8 0.2 -2.0 0.3 -2.2 0.2 0.5 0.3 -0.9 0.2 -3.5 0.3 1.2 0.2 -0.9 0.3 -3.5 0.2 -1.4 0.3 0.3 0.2 -2.4 0.3 -3.0 0.2 0.0 0.3 -1.0 0.2 -2.0 0.3 -3.7 0.2 -1.5 0.3 0.2 0.2 -0.9 0.3 -0.5 0.2 -2.0 0.3 -1.5 0.2 -0.9 0.3 -3.0 0.2 -2.4 0.3 -1.9 0.2 -0.9 0.3 -0.1 0.2 -2.8 0.3 -3.4 0.2 1.0 0.3 -2.1 0.2 -4.2 0.3 0.6 0.2 -3.7 0.3 -2.1 0.2 -0.6 0.3 -0.7 0.2 -3.2 0.3 -1.2 0.2 -0.4 0.3 -4.0 0.2 0.0 0.3 -2.8 0.2 -2.4 0.3 0.6 0.2 -1.8 0.3 -2.2 0.2 -1.5 0.3 -1.6 0.2 -0.5 0.3 -3.4 0.2 -1.0 0.3 -1.3 0.2 -1.1 0.3 0.2 0.2 -1.6 0.3 -0.4 0.2 -1.6 0.3 -0.3 0.2 -1.4 0.3 -3.3 0.2 -1.0 0.3 0.7 0.2 -0.7 0.3 -1.3 0.2 -3.6 0.3 0.4 0.2 -2.7 0.3 -0.7 0.2 0.7 0.3 -1.8 0.2 -0.3 0.3 -1.7 0.2 0.2 0.3 -2.7 0.2 0.0 0.3 0.8 0.2 -1.2 0.3 -2.9 0.2 -0.1 0.3 -0.1 0.2 0.3 0.3 -1.6 0.2 1.3 0.3 -0.5 0.2 -1.6 0.3 -0.8 0.2 -0.3 0.3 -0.1 0.3 0.8 0.2 0.2 0.3 1.3 0.2 -1.0 0.3 0.5 0.2 -0.7 0.3 2.9 0.2 -1.2 0.3 -0.5 0.2 1.0 0.3 1.9 0.2 -0.9 0.3 2.9 0.2 -0.6 0.3 1.6 0.2 0.2 0.3 1.3 0.2 0.1 0.3 2.4 0.2 1.1 0.3 1.1 0.2 0.8 0.3 1.9 0.2 1.5 0.3 -0.3 0.2 1.1 0.3 4.5 0.2 0.0 0.3 0.9 0.2 4.6 0.3 2.0 0.2 1.4 0.3 0.7 0.2 4.8 0.3 1.1 0.2 1.2 0.3 2.7 0.2 2.4 0.3 4.9 0.2 2.6 0.3 2.7 0.2 0.8 0.3 3.5 0.2 3.0 0.3 2.0 0.2 1.8 0.3 3.1 0.2 3.1 0.3 4.2 0.2 2.9 0.3 1.8 0.2 3.2 0.3 4.1 0.2 4.0 0.3 2.7 0.2 4.1 0.3 2.6 0.2 1.8 0.3 3.4 0.2 4.1 0.3 4.2 0.2 4.3 0.3 3.6 0.2 3.8 0.3 3.3 0.2 2.2 0.3 4.3 0.2 2.3 0.3 6.6 0.2 2.8 0.3 2.2 0.2 6.5 0.3 3.3 0.2 4.7 0.3 1.1 0.2 4.9 0.3 2.9 0.2 6.6 0.3 1.4 0.2 5.6 0.3 3.6 0.2 3.4 0.3 3.1 0.2 3.2 0.3 4.6 0.2 2.7 0.3 2.4 0.2 4.5 0.3 3.0 0.2 2.4 0.3 3.9 0.2 1.4 0.3 3.8 0.2 4.2 0.3 3.0 0.2 2.8 0.3 3.6 0.2 1.0 0.3 4.5 0.2 2.3 0.3 2.9 0.2 1.5 0.3 2.2 0.2 5.1 0.3 0.7 0.2 4.8 0.3 0.8 0.2 3.4 0.3 3.5 0.2 3.8 0.3 0.7 0.2 4.3 0.3 2.1 0.2 1.3 0.3 0.4 0.2 1.8 0.3 3.1 0.2 0.2 0.3 1.5 0.2 1.3 0.3 0.1 0.2 3.9 0.3 -0.1 0.2 1.4 0.3 1.4 0.2 -0.2 0.3 -0.1 0.2 2.8 0.3 -2.1 0.2 0.8 0.3 1.0 0.2 -1.1 0.3 0.1 0.2 -1.8 0.3 1.3 0.2 -0.8 0.3 -2.4 0.2 0.4 0.3 -1.3 0.2 -2.0 0.3 -2.6 0.2 -2.0 0.3 1.4 0.2 -1.4 0.3 -2.4 0.2 -1.7 0.3 -1.1 0.2 -3.1 0.3 -2.4 0.2 -2.2 0.3 -2.6 0.2 -2.0 0.3 -4.4 0.2 -2.2 0.3 -1.8 0.2 -2.0 0.3 -4.1 0.2 -3.7 0.3 -0.7 0.2 -3.1 0.3 -4.6 0.2 -0.3 0.3 -3.5 0.2 -3.9 0.3 -1.5 0.2 -3.4 0.3 -0.7 0.3 -3.5 0.2 -4.3 0.3 -1.1 0.2 -2.5 0.3 -1.7 0.2 -2.2 0.3 -3.5 0.2 -3.0 0.3 -2.8 0.2 -3.8 0.3 -1.0 0.2 -3.5 0.3 -3.2 0.2 -1.7 0.3 -4.1 0.2 -1.8 0.3 -4.1 0.2 -3.3 0.3 -1.8 0.2 -1.8 0.3 -5.3 0.2 -3.1 0.3 -2.5 0.2 -1.4 0.3 -4.3 0.2 -3.4 0.3 -3.1 0.2 -3.3 0.3 -2.5 0.2 -3.7 0.3 -4.0 0.2 -1.4 0.3 -5.2 0.2 -2.1 0.3 -3.5 0.2 -5.0 0.3 -2.8 0.2 -2.0 0.3 -3.7 0.2 -3.8 0.3 -6.2 0.2 -2.0 0.3 -5.2 0.2 -4.2 0.3 -3.9 0.2 -1.4 0.3 -3.2 0.2 -4.6 0.3 -1.9 0.2 -5.5 0.3 -3.4 0.2 -1.4 0.3 -1.4 0.2 -4.0 0.3 -3.4 0.2 -0.5 0.3 -3.4 0.2 -3.4 0.3 -1.6 0.2 -2.1 0.3 -4.1 0.2 -0.6 0.3 -1.8 0.2 -3.7 0.3 -1.7 0.2 -2.5 0.3 -1.3 0.2 -2.6 0.3 0.0 0.2 -1.1 0.3 -4.0 0.2 0.8 0.3 -3.7 0.2 -2.3 0.3 -0.1 0.2 -1.7 0.3 -1.1 0.2 -1.3 0.3 0.5 0.2 -2.4 0.3 0.6 0.2 -1.5 0.3 -0.9 0.2 -0.6 0.3 -2.7 0.2 1.7 0.3 -1.8 0.2 -2.4 0.3 0.0 0.2 1.7 0.3 -1.3 0.2 -2.5 0.3 -0.1 0.2 2.3 0.3 -2.8 0.2 0.4 0.3 0.1 0.2 -1.9 0.3 1.2 0.2 0.5 0.3 -1.7 0.2 1.6 0.3 1.1 0.2 -0.1 0.3 -1.1 0.2 1.1 0.3 -0.5 0.2 1.1 0.3 0.2 0.2 0.7 0.3 1.3 0.2 -1.2 0.3 2.9 0.2 0.1 0.3 1.3 0.2 -1.2 0.3 1.6 0.2 0.9 0.3 1.8 0.2 0.0 0.3 0.4 0.2 -0.3 0.3 3.0 0.2 1.4 0.3 0.1 0.2 0.6 0.3 -0.7 0.2 4.1 0.3 0.7 0.2 0.4 0.3 0.8 0.2 1.9 0.3 1.7 0.2 -0.4 0.3 0.7 0.2 2.0 0.3 0.6 0.2 2.4 0.3 2.3 0.2 0.2 0.3 1.6 0.2 0.5 0.3 3.8 0.2 -1.1 0.3 3.7 0.2 -0.6 0.3 3.4 0.2 -0.9 0.3 3.0 0.2 1.3 0.3 0.1 0.2 2.9 0.3 1.3 0.2 2.6 0.3 -1.1 0.2 2.7 0.3 0.0 0.2 4.1 0.3 -0.9 0.2 4.1 0.3 1.1 0.2 2.2 0.3 0.3 0.2 0.0 0.3 3.5 0.2 -0.8 0.3 1.5 0.2 1.9 0.3 1.9 0.3 -0.3 0.2 2.4 0.3 0.0 0.2 1.2 0.3 3.0 0.2 -0.3 0.3 2.3 0.2 -0.1 0.3 -0.2 0.2 2.1 0.3 0.1 0.2 -0.7 0.3 0.7 0.2 0.7 0.3 0.7 0.2 2.2 0.3 0.4 0.2 -2.2 0.3 1.6 0.2 -0.4 0.3 2.5 0.2 -0.6 0.3 0.1 0.2 1.4 0.3 0.7 0.2 -2.3 0.3 0.8 0.2 0.1 0.3 3.1 0.2 -1.6 0.3 0.3 0.2 0.2 0.3 -0.1 0.2 0.3 0.3 0.9 0.2 1.9 0.3 -1.3 0.2 -0.8 0.3 1.1 0.2 0.4 0.3 1.5 0.2 -0.1 0.3 -0.3 0.2 -0.5 0.3 -0.4 0.2 0.5 0.3 0.7 0.2 1.8 0.3 -2.6 0.2 1.4 0.3 0.9 0.2 -1.7 0.3 1.3 0.2 0.9 0.3 -0.7 0.2 -0.7 0.3 1.7 0.2 -1.3 0.3 0.1 0.2 -0.8 0.3 1.3 0.2 -1.4 0.3 0.6 0.2 -0.5 0.3 -0.2 0.2 -0.7 0.3 0.1 0.2 0.6 0.3 0.0 0.2 -1.2 0.3 1.3 0.2 0.6 0.3 -1.0 0.2 -0.2 0.3 0.6 0.2 -0.9 0.3 -1.3 0.2 -0.5 0.3 0.4 0.2 0.4 0.3 -0.6 0.2 -0.6 0.3 2.3 0.2 -0.3 0.3 -2.5 0.2 0.9 0.3 1.5 0.2 -0.4 0.3 -2.2 0.2 -0.4 0.3 -0.1 0.2 -0.8 0.3 2.4 0.2 0.0 0.3 -2.9 0.2 2.6 0.3 -2.1 0.2 0.0 0.3 0.9 0.2 -2.2 0.3 2.1 0.2 -2.1 0.3 -0.5 0.2 0.6 0.3 -0.5 0.2 0.3 0.3 -1.2 0.2 1.0 0.3 0.8 0.2 -1.3 0.3 0.1 0.2 -0.5 0.3 -0.6 0.2 2.0 0.3 -1.0 0.2 0.3 0.3 -0.8 0.2 0.1 0.3 -0.8 0.2 0.2 0.3 0.2 0.2 -1.1 0.3 0.0 0.2 -1.1 0.3 2.2 0.2 -2.2 0.3 0.9 0.2 -0.5 0.3 -1.0 0.2 1.0 0.3 0.2 0.2 0.5 0.3 -2.1 0.2 0.8 0.3 1.7 0.2 -1.5 0.3 -0.3 0.2 0.0 0.3 -1.4 0.2 2.7 0.3 -2.5 0.2 1.5 0.3 -1.7 0.2 1.2 0.3 -1.6 0.2 0.1 0.3 1.7 0.2 -1.9 0.3 1.2 0.2 0.2 0.3 0.3 0.2 0.2 0.3 -0.3 0.2 -0.4 0.3 -0.8 0.2 0.9 0.3 -1.6 0.2 0.2 0.3 -0.1 0.2 0.0 0.3 0.1 0.2 1.1 0.3 0.9 0.2 -1.3 0.3 1.1 0.2 -1.3 0.3 0.1" fill="none" stroke="#0808c8" stroke-width="1.4" stroke-linejoin="round"/>
</g>
<g clip-path="url(#cb)">
<path d="M315.5 245.4l0.2 2.0 0.1 0.1 0.2 -4.6 0.2 0.3 0.1 4.9 0.2 -6.6 0.2 -0.1 0.1 5.2 0.2 -2.8 0.2 -2.3 0.1 0.5 0.2 0.5 0.2 -3.1 0.1 -1.5 0.2 4.1 0.2 -1.3 0.1 -1.5 0.2 1.6 0.2 -2.3 0.1 4.9 0.2 -8.2 0.2 2.0 0.1 -0.9 0.2 -1.3 0.2 1.2 0.1 -2.8 0.2 3.6 0.2 0.1 0.1 -5.6 0.2 2.1 0.2 -1.6 0.1 -1.7 0.2 5.5 0.2 -3.5 0.1 -2.3 0.2 3.5 0.2 -4.5 0.1 5.6 0.2 -5.0 0.2 -1.5 0.1 0.9 0.2 0.8 0.2 0.7 0.1 2.8 0.2 -1.6 0.2 -2.7 0.1 -2.5 0.2 0.9 0.2 5.7 0.1 -3.9 0.2 1.5 0.2 -4.6 0.1 -0.2 0.2 5.6 0.2 -1.2 0.1 -2.6 0.2 0.0 0.2 -1.6 0.1 0.6 0.2 -1.0 0.2 5.7 0.1 -2.9 0.2 -2.1 0.2 4.3 0.1 -3.8 0.2 -0.9 0.2 3.7 0.1 2.1 0.2 -6.0 0.2 5.4 0.1 -4.3 0.2 -0.6 0.2 -0.5 0.1 1.9 0.2 3.1 0.2 -1.6 0.1 3.8 0.2 -5.7 0.2 0.7 0.1 -0.4 0.2 5.1 0.2 -0.3 0.1 -4.1 0.2 0.7 0.2 -0.9 0.1 3.1 0.2 -4.9 0.2 0.2 0.1 2.5 0.2 -1.0 0.2 4.3 0.1 -0.5 0.2 -1.2 0.2 1.0 0.1 0.5 0.2 0.8 0.2 1.3 0.1 -5.2 0.2 3.6 0.2 -3.1 0.1 2.3 0.2 2.6 0.2 1.0 0.1 -0.7 0.2 -4.9 0.2 2.4 0.1 -1.2 0.2 6.0 0.2 -5.7 0.1 0.8 0.2 1.0 0.2 -5.1 0.1 9.1 0.2 -1.4 0.2 -3.2 0.1 2.6 0.2 -2.8 0.2 3.9 0.1 -2.5 0.2 -1.2 0.2 0.7 0.1 3.2 0.2 0.7 0.2 -2.1 0.1 3.3 0.2 -2.9 0.2 -1.5 0.2 1.3 0.1 0.6 0.2 3.6 0.2 -5.6 0.1 -0.2 0.2 3.3 0.2 2.8 0.1 -0.5 0.2 -1.5 0.2 -4.4 0.1 5.1 0.2 -0.9 0.2 -3.9 0.1 2.2 0.2 -3.0 0.2 5.2 0.1 -0.6 0.2 0.5 0.2 0.9 0.1 -4.9 0.2 3.6 0.2 -3.9 0.1 -0.8 0.2 1.6 0.2 0.7 0.1 -1.6 0.2 2.1 0.2 -0.2 0.1 -2.7 0.2 2.5 0.2 -2.0 0.1 3.9 0.2 -4.9 0.2 3.3 0.1 -2.9 0.2 0.6 0.2 0.6 0.1 -1.4 0.2 -2.2 0.2 4.7 0.1 -9.0 0.2 3.6 0.2 1.2 0.1 -4.1 0.2 0.4 0.2 6.3 0.1 -0.6 0.2 -3.6 0.2 0.4 0.1 -1.8 0.2 -4.0 0.2 1.5 0.1 -3.0 0.2 2.1 0.2 -3.4 0.1 -2.4 0.2 4.2 0.2 -2.1 0.1 -0.6 0.2 -2.2 0.2 0.7 0.1 -3.3 0.2 -0.1 0.2 -4.4 0.1 2.6 0.2 1.0 0.2 -1.6 0.1 0.0 0.2 -2.8 0.2 2.2 0.1 -5.9 0.2 5.0 0.2 -3.9 0.1 -2.4 0.2 3.4 0.2 -1.5 0.1 -0.4 0.2 2.7 0.2 -5.3 0.1 3.5 0.2 -2.1 0.2 0.6 0.1 -0.4 0.2 -2.8 0.2 2.4 0.1 2.2 0.2 -5.1 0.2 -1.3 0.1 0.1 0.2 2.5 0.2 3.3 0.1 -9.1 0.2 8.7 0.2 -3.5 0.1 -3.1 0.2 1.8 0.2 -1.7 0.1 3.2 0.2 -1.4 0.2 -2.1 0.1 -0.5 0.2 4.1 0.2 -1.0 0.1 -2.6 0.2 -0.5 0.2 2.0 0.1 1.4 0.2 -6.6 0.2 0.3 0.1 1.1 0.2 0.7 0.2 -6.3 0.1 2.4 0.2 0.8 0.2 0.8 0.1 2.0 0.2 -1.3 0.2 -4.4 0.1 -0.4 0.2 2.5 0.2 2.5 0.1 -0.2 0.2 -4.3 0.2 3.1 0.1 -0.2 0.2 -4.1 0.2 1.8 0.1 -3.2 0.2 -2.0 0.2 2.4 0.1 -4.1 0.2 3.4 0.2 1.7 0.1 -1.3 0.2 -4.0 0.2 -3.1 0.1 4.8 0.2 -1.0 0.2 0.0 0.1 -3.3 0.2 -0.1 0.2 -2.8 0.1 -2.0 0.2 0.2 0.2 2.4 0.1 -3.4 0.2 2.0 0.2 -1.8 0.1 -0.9 0.2 3.1 0.2 -6.2 0.1 1.7 0.2 -4.1 0.2 6.2 0.1 -3.6 0.2 -1.7 0.2 -1.7 0.1 2.5 0.2 -2.0 0.2 -2.5 0.1 -1.2 0.2 1.9 0.2 0.6 0.1 -1.1 0.2 3.6 0.2 -2.4 0.1 -0.6 0.2 -1.7 0.2 -3.0 0.1 -0.5 0.2 -1.7 0.2 -0.7 0.1 -3.3 0.2 4.6 0.2 -4.6 0.1 -2.1 0.2 2.4 0.2 1.2 0.1 -2.5 0.2 -1.0 0.2 1.7 0.1 -3.8 0.2 -1.4 0.2 3.7 0.1 -0.7 0.2 2.0 0.2 -3.4 0.1 2.3 0.2 -5.7 0.2 -0.2 0.1 3.8 0.2 -2.9 0.2 -1.3 0.1 0.2 0.2 1.5 0.2 -0.4 0.1 1.4 0.2 2.1 0.2 -3.7 0.1 -1.4 0.2 2.7 0.2 -4.1 0.1 1.8 0.2 0.4 0.2 0.6 0.1 -2.3 0.2 3.6 0.2 0.6 0.1 1.1 0.2 1.6 0.2 -4.0 0.1 2.3 0.2 -1.7 0.2 -1.0 0.1 5.0 0.2 -0.8 0.2 1.7 0.1 -0.6 0.2 1.0 0.2 -5.3 0.1 -0.5 0.2 0.5 0.2 2.9 0.1 2.2 0.2 -1.4 0.2 0.8 0.1 2.0 0.2 -4.5 0.2 4.5 0.1 -4.2 0.2 1.7 0.2 3.5 0.1 0.0 0.2 -1.8 0.2 -0.5 0.1 3.9 0.2 -3.7 0.2 -1.5 0.1 1.7 0.2 -1.3 0.2 5.7 0.1 -4.6 0.2 6.2 0.2 -5.1 0.1 0.9 0.2 2.2 0.2 -1.8 0.1 0.8 0.2 -1.8 0.2 2.2 0.2 -2.3 0.1 1.6 0.2 5.0 0.2 -4.2 0.1 0.1 0.2 3.0 0.2 1.6 0.1 -4.0 0.2 0.1 0.2 3.1 0.1 0.6 0.2 -1.2 0.2 -2.9 0.1 0.0 0.2 4.1 0.2 -0.4 0.1 1.4 0.2 -0.9 0.2 -2.5 0.1 -2.0 0.2 5.2 0.2 -1.4 0.1 -0.9 0.2 0.7 0.2 -2.2 0.1 -0.4 0.2 1.6 0.2 -0.8 0.1 1.5 0.2 1.5 0.2 -0.8 0.1 -3.3 0.2 -0.2 0.2 3.7 0.1 -3.8 0.2 2.7 0.2 -5.1 0.1 2.4 0.2 0.3 0.2 2.0 0.1 0.3 0.2 -5.2 0.2 3.2 0.1 0.5 0.2 -4.0 0.2 4.7 0.1 -2.1 0.2 2.8 0.2 -5.6 0.1 2.3 0.2 -1.5 0.2 2.2 0.1 -0.3 0.2 -0.7 0.2 -1.4 0.1 1.3 0.2 -1.0 0.2 3.6 0.1 -3.0 0.2 0.0 0.2 -3.3 0.1 1.9 0.2 4.9 0.2 -4.5 0.1 3.9 0.2 -1.9 0.2 2.7 0.1 -5.8 0.2 5.5 0.2 -1.2 0.1 -1.4 0.2 1.0 0.2 0.1 0.1 -2.0 0.2 1.3 0.2 -2.8 0.1 -3.7 0.2 6.8 0.2 -1.4 0.1 3.0 0.2 -4.5 0.2 3.9 0.1 1.2 0.2 -0.6 0.2 0.5 0.1 -5.7 0.2 0.1 0.2 0.4 0.1 0.9 0.2 -1.7 0.2 0.3 0.1 -4.0 0.2 9.4 0.2 -4.0 0.1 1.9 0.2 -1.2 0.2 3.3 0.1 -0.9 0.2 -2.9 0.2 1.0 0.1 -3.0 0.2 1.3 0.2 -0.4 0.1 0.7 0.2 0.2 0.2 2.1 0.1 -1.8 0.2 0.0 0.2 3.7 0.1 -5.6 0.2 0.1 0.2 0.6 0.1 5.8 0.2 -1.4 0.2 0.8 0.1 1.9 0.2 -5.0 0.2 5.1 0.1 -4.5 0.2 2.2 0.2 1.3 0.1 1.1 0.2 -3.7 0.2 1.9 0.1 -2.8 0.2 1.9 0.2 8.5 0.1 -3.7 0.2 -2.0 0.2 1.7 0.1 1.2 0.2 -3.7 0.2 5.0 0.1 -3.4 0.2 -1.6 0.2 3.1 0.1 0.8 0.2 1.2 0.2 0.3 0.1 -4.0 0.2 4.7 0.2 2.4 0.1 -1.3 0.2 2.6 0.2 -2.9 0.1 2.5 0.2 -4.3 0.2 5.7 0.1 -2.8 0.2 3.4 0.2 -3.6 0.1 2.4 0.2 1.8 0.2 -0.8 0.1 -0.4 0.2 2.6 0.2 -6.1 0.1 0.1 0.2 3.2 0.2 2.8 0.1 -1.9 0.2 -2.7 0.2 -1.5 0.1 2.4 0.2 0.1 0.2 -0.1 0.1 1.0 0.2 -2.5 0.2 4.1 0.1 -4.2 0.2 -4.0 0.2 4.3 0.1 4.0 0.2 -5.6 0.2 0.7 0.1 4.5 0.2 -4.2 0.2 3.4 0.1 -5.7 0.2 5.8 0.2 -4.7 0.1 -0.5 0.2 3.9 0.2 1.6 0.1 -0.3 0.2 -1.5 0.2 1.0 0.1 0.5 0.2 -3.1 0.2 -2.9 0.1 4.9 0.2 -3.3 0.2 -0.6 0.1 1.3 0.2 -3.3 0.2 -0.1 0.1 1.8 0.2 2.3 0.2 1.0 0.1 1.5 0.2 -1.0 0.2 0.9 0.1 -2.1 0.2 0.6 0.2 -1.0 0.1 -3.5 0.2 -0.2 0.2 4.9 0.1 -3.9 0.2 4.1 0.2 -2.3 0.1 -3.2 0.2 3.9 0.2 -0.8 0.1 -2.6 0.2 1.3 0.2 0.3 0.1 0.3 0.2 2.5 0.2 -3.7 0.1 1.9 0.2 1.1 0.2 5.1 0.1 -8.5 0.2 -0.2 0.2 0.7 0.1 0.2 0.2 -0.3 0.2 -0.6 0.1 1.1 0.2 0.2 0.2 1.9 0.1 1.4 0.2 -2.3 0.2 -0.6 0.1 -0.3 0.2 1.4 0.2 -0.3 0.1 2.5 0.2 3.0 0.2 -0.7 0.1 -3.3 0.2 -0.8 0.2 0.6 0.1 2.9 0.2 -0.1 0.2 2.6 0.1 -3.8 0.2 1.6 0.2 3.3 0.1 -0.4 0.2 0.0 0.2 3.0 0.2 -5.2 0.1 0.9 0.2 3.0 0.2 0.2 0.1 3.2 0.2 0.3 0.2 -2.5 0.1 1.5 0.2 -0.2 0.2 -3.7 0.1 3.5 0.2 -2.8 0.2 1.6 0.1 -1.1 0.2 -0.8 0.2 6.1 0.1 -0.7 0.2 0.5 0.2 -3.0 0.1 1.2 0.2 -1.5 0.2 3.2 0.1 1.9 0.2 -0.1 0.2 1.3 0.1 -4.5 0.2 4.5 0.2 -4.9 0.1 3.1 0.2 -2.8 0.2 3.3 0.1 0.2 0.2 -1.1 0.2 0.2 0.1 2.8 0.2 -1.4 0.2 -0.3 0.1 -1.8 0.2 1.4 0.2 4.2 0.1 1.1 0.2 -3.9 0.2 3.7 0.1 0.3 0.2 -4.3 0.2 0.7 0.1 3.3 0.2 -2.5 0.2 6.7 0.1 -5.7 0.2 2.8 0.2 0.2 0.1 -3.2 0.2 4.8 0.2 -4.6 0.1 -0.2 0.2 -0.1 0.2 3.0 0.1 1.5 0.2 -2.4 0.2 4.2 0.1 -3.9 0.2 4.3 0.2 -5.6 0.1 1.7 0.2 -0.7 0.2 2.1 0.1 -0.6 0.2 0.3 0.2 3.2 0.1 -2.0 0.2 0.2 0.2 -1.6 0.1 2.9 0.2 -2.2 0.2 1.7 0.1 1.1 0.2 -2.2 0.2 -1.3 0.1 -1.3 0.2 4.5 0.2 -1.1 0.1 0.1 0.2 -6.4 0.2 3.7 0.1 3.0 0.2 -4.6 0.2 3.9 0.1 -2.0 0.2 -2.4 0.2 1.0 0.1 -2.2 0.2 4.0 0.2 0.3 0.1 -5.0 0.2 0.9 0.2 4.0 0.1 -4.1 0.2 2.2 0.2 1.7 0.1 -1.8 0.2 -3.2 0.2 5.3 0.1 -1.2 0.2 -1.5 0.2 -1.8 0.1 1.6 0.2 -1.5 0.2 -2.2 0.1 -0.1 0.2 -0.8 0.2 0.7 0.1 0.2 0.2 2.5 0.2 -0.6 0.1 -0.2 0.2 1.4 0.2 -5.4 0.1 1.8 0.2 -2.4 0.2 2.1 0.1 -2.7 0.2 -0.3 0.2 -0.1 0.1 1.7 0.2 2.4 0.2 -5.6 0.1 4.8 0.2 -5.5 0.2 1.7 0.1 1.0 0.2 -3.1 0.2 1.9 0.1 1.8 0.2 0.6 0.2 -5.7 0.1 5.9 0.2 -2.4 0.2 -0.7 0.1 -4.0 0.2 5.5 0.2 -4.5 0.1 1.6 0.2 -0.4 0.2 2.3 0.1 -2.4 0.2 2.4 0.2 -5.6 0.1 2.7 0.2 -0.9 0.2 -0.8 0.1 0.5 0.2 -0.6 0.2 -2.1 0.1 1.8 0.2 -4.2 0.2 2.4 0.1 -0.5 0.2 -2.0 0.2 2.2 0.1 0.3 0.2 -4.1 0.2 0.8 0.1 -2.0 0.2 3.4 0.2 -3.9 0.1 0.6 0.2 1.2 0.2 -0.3 0.1 -3.3 0.2 6.0 0.2 -5.4 0.1 2.2 0.2 -3.1 0.2 2.3 0.1 -2.1 0.2 -0.7 0.2 0.7 0.1 0.3 0.2 -0.3 0.2 0.2 0.1 -3.4 0.2 -1.7 0.2 0.7 0.1 0.0 0.2 1.5 0.2 -2.4 0.1 -0.6 0.2 -2.0 0.2 3.0 0.1 -3.9 0.2 2.3 0.2 0.7 0.1 -1.0 0.2 -3.7 0.2 0.8 0.1 7.3 0.2 -10.2 0.2 3.5 0.1 -2.3 0.2 0.7 0.2 -2.2 0.1 -2.5 0.2 2.4 0.2 -4.5 0.1 5.3 0.2 -1.1 0.2 -3.6 0.1 0.5 0.2 -0.7 0.2 2.5 0.1 -7.2 0.2 1.1 0.2 0.2 0.1 2.0 0.2 -1.0 0.2 -2.7 0.1 -3.5 0.2 3.9 0.2 -2.3 0.1 -2.5 0.2 3.0 0.2 -1.8 0.1 -1.4 0.2 -0.7 0.2 1.3 0.1 -2.4 0.2 0.6 0.2 3.4 0.1 -3.6 0.2 -2.0 0.2 1.5 0.1 2.4 0.2 -0.8 0.2 -1.7 0.1 1.2 0.2 -1.4 0.2 -0.9 0.1 -2.1 0.2 -2.3 0.2 3.7 0.1 -1.0 0.2 2.0 0.2 -4.9 0.1 3.6 0.2 -4.9 0.2 4.7 0.1 0.1 0.2 -7.0 0.2 1.7 0.1 4.4 0.2 -0.5 0.2 -2.4 0.2 -4.0 0.1 -1.1 0.2 1.4 0.2 4.7 0.1 -1.3 0.2 -2.8 0.2 2.0 0.1 0.8 0.2 -4.5 0.2 3.8 0.1 -4.5 0.2 0.2 0.2 -2.3 0.1 0.5 0.2 2.5 0.2 -4.0 0.1 3.3 0.2 -3.0 0.2 5.1 0.1 -6.1 0.2 0.2 0.2 0.0 0.1 1.8 0.2 1.1 0.2 -0.8 0.1 -0.6 0.2 0.3 0.2 -2.7 0.1 -2.0 0.2 -1.7 0.2 4.2 0.1 -3.8 0.2 1.0 0.2 -4.8 0.1 1.3 0.2 -2.6 0.2 1.0 0.1 1.8 0.2 -3.6 0.2 1.5 0.1 -7.4 0.2 3.6 0.2 -0.8 0.1 -0.4 0.2 -3.1 0.2 2.0 0.1 0.1 0.2 -1.8 0.2 -6.8 0.1 1.9 0.2 -2.3 0.2 0.4 0.1 -6.2 0.2 5.1 0.2 -3.2 0.1 2.9 0.2 -7.4 0.2 2.0 0.1 -0.4 0.2 1.6 0.2 -1.4 0.1 -4.8 0.2 0.1 0.2 2.2 0.1 -3.0 0.2 -1.8 0.2 3.9 0.1 -1.3 0.2 -4.1 0.2 0.7 0.1 2.0 0.2 -5.6 0.2 4.2 0.1 -0.7 0.2 -1.7 0.2 -0.8 0.1 -0.5 0.2 -1.5 0.2 -0.2 0.1 -3.1 0.2 2.2 0.2 0.4 0.1 -1.7 0.2 1.0 0.2 -1.9 0.1 2.1 0.2 -1.0 0.2 -4.8 0.1 4.5 0.2 -3.8 0.2 -1.7 0.1 -0.1 0.2 1.1 0.2 1.1 0.1 -1.7 0.2 -1.2 0.2 3.7 0.1 -3.0 0.2 3.2 0.2 -4.7 0.1 2.9 0.2 -2.6 0.2 3.3 0.1 -1.7 0.2 0.1 0.2 -4.3 0.1 4.5 0.2 -3.0 0.2 2.6 0.1 0.6 0.2 -5.1 0.2 -0.8 0.1 5.1 0.2 1.5 0.2 -0.5 0.1 -3.2 0.2 2.8 0.2 -5.6 0.1 0.3 0.2 3.7 0.2 -0.3 0.1 2.2 0.2 -4.0 0.2 1.7 0.1 3.8 0.2 -5.7 0.2 2.0 0.1 1.6 0.2 2.9 0.2 -5.5 0.1 3.7 0.2 -1.7 0.2 0.1 0.1 -0.8 0.2 1.7 0.2 1.0 0.1 -1.0 0.2 1.1 0.2 1.1 0.1 1.8 0.2 -1.8 0.2 -0.9 0.1 4.3 0.2 -5.3 0.2 -0.6 0.1 6.4 0.2 -4.3 0.2 -2.1 0.1 3.5 0.2 0.0 0.2 0.4 0.1 5.8 0.2 -5.7 0.2 -0.8 0.1 0.8 0.2 5.5 0.2 -3.4 0.1 -0.1 0.2 3.2 0.2 1.5 0.1 -2.6 0.2 2.5 0.2 -3.5 0.1 1.0 0.2 2.0 0.2 -2.0 0.1 0.7 0.2 -0.2 0.2 1.0 0.1 4.5 0.2 0.1 0.2 -4.3 0.1 2.1 0.2 3.1 0.2 1.4 0.1 -1.6 0.2 1.6 0.2 -2.9 0.1 4.3 0.2 0.7 0.2 -2.4 0.1 -2.7 0.2 1.1 0.2 4.6 0.1 0.5 0.2 -3.9 0.2 4.1 0.1 3.4 0.2 -5.9 0.2 1.2 0.1 -0.1 0.2 3.1 0.2 0.1 0.1 3.9 0.2 -5.2 0.2 1.4 0.1 5.7 0.2 -6.0 0.2 2.2 0.1 1.4 0.2 -2.2 0.2 2.5 0.1 2.7 0.2 0.5 0.2 0.5 0.1 0.8 0.2 0.2 0.2 -3.5 0.1 4.8 0.2 0.0 0.2 -2.0 0.1 1.9 0.2 -0.8 0.2 4.9 0.1 -3.6 0.2 -0.3 0.2 4.9 0.1 0.3 0.2 1.1 0.2 -0.7 0.1 -1.3 0.2 0.9 0.2 1.1 0.1 0.8 0.2 3.0 0.2 -4.3 0.1 4.1 0.2 -4.7 0.2 1.7 0.1 5.8 0.2 -4.3 0.2 2.3 0.1 3.4 0.2 -1.3 0.2 -0.7 0.1 2.0 0.2 2.5 0.2 0.2 0.1 -4.8 0.2 0.2 0.2 1.5 0.1 -0.5 0.2 4.8 0.2 1.0 0.1 -4.4 0.2 0.0 0.2 2.3 0.1 3.0 0.2 1.1 0.2 -1.7 0.2 1.7 0.1 2.5 0.2 0.2 0.2 -4.8 0.1 4.6 0.2 0.9 0.2 1.4 0.1 -3.0 0.2 -1.3 0.2 2.6 0.1 -0.8 0.2 1.1 0.2 3.2 0.1 -0.7 0.2 0.5 0.2 0.2 0.1 -3.3 0.2 -0.3 0.2 2.6 0.1 3.4 0.2 -1.1 0.2 1.2 0.1 -0.2 0.2 0.6 0.2 1.7 0.1 -1.8 0.2 1.2 0.2 1.0 0.1 0.0 0.2 -0.7 0.2 -5.0 0.1 -0.1 0.2 8.6 0.2 -6.9 0.1 0.7 0.2 -1.1 0.2 3.7 0.1 -4.1 0.2 5.5 0.2 -3.3 0.1 3.2 0.2 1.3 0.2 -1.4 0.1 -1.7 0.2 1.6 0.2 1.7 0.1 -0.9 0.2 -3.0 0.2 -1.6 0.1 6.2 0.2 -1.6 0.2 -3.8 0.1 3.6 0.2 0.4 0.2 -1.9 0.1 4.3 0.2 -4.4 0.2 -0.5 0.1 1.3 0.2 0.4 0.2 4.0 0.1 -1.5 0.2 -3.5 0.2 2.0 0.1 -1.8 0.2 6.1 0.2 -0.4 0.1 -5.2 0.2 3.1 0.2 -1.6 0.1 0.5 0.2 3.5 0.2 1.9 0.1 -4.6 0.2 2.3 0.2 -1.5 0.1 -1.5 0.2 4.1 0.2 -2.8 0.1 4.1 0.2 0.7 0.2 -3.9 0.1 3.5 0.2 -2.4 0.2 4.3 0.1 -3.1 0.2 3.2 0.2 0.1 0.1 -0.2 0.2 -2.2 0.2 4.7 0.1 -3.1 0.2 3.3 0.2 -1.8 0.1 -0.3 0.2 2.6 0.2 -2.9 0.1 3.8 0.2 -2.3 0.2 2.7 0.1 -0.1 0.2 2.0 0.2 -3.6 0.1 -0.2 0.2 4.7 0.2 -3.1 0.1 -0.6 0.2 2.1 0.2 -3.0 0.1 5.1 0.2 -1.4 0.2 -0.6 0.1 -3.1 0.2 4.4 0.2 0.9 0.1 -0.8 0.2 4.3 0.2 -9.0 0.1 4.6 0.2 1.0 0.2 -2.7 0.1 -2.7 0.2 3.6 0.2 -2.4 0.1 -1.4 0.2 6.3" fill="none" stroke="#000000" stroke-width="2.4" stroke-linejoin="round"/>
<path d="M315.5 226.5l0.2 4.4 0.1 -6.2 0.2 0.8 0.2 2.4 0.1 -0.6 0.2 2.9 0.2 -3.2 0.1 4.9 0.2 0.0 0.2 -5.0 0.1 3.5 0.2 -2.5 0.2 1.1 0.1 1.2 0.2 0.4 0.2 0.3 0.1 2.9 0.2 -3.8 0.2 -0.2 0.1 3.0 0.2 1.9 0.2 0.0 0.1 0.0 0.2 -4.7 0.2 5.5 0.1 -1.5 0.2 1.5 0.2 -2.5 0.1 -0.9 0.2 4.5 0.2 -1.4 0.1 1.0 0.2 -3.2 0.2 -0.2 0.1 4.0 0.2 -4.2 0.2 5.8 0.1 -4.7 0.2 3.0 0.2 -0.9 0.1 -0.4 0.2 -0.7 0.2 3.8 0.1 1.0 0.2 -1.0 0.2 -0.4 0.1 1.7 0.2 -2.2 0.2 0.2 0.1 2.1 0.2 -3.7 0.2 -0.4 0.1 4.3 0.2 0.0 0.2 -2.9 0.1 1.9 0.2 -0.4 0.2 1.1 0.1 -5.3 0.2 4.8 0.2 -2.5 0.1 -0.5 0.2 1.3 0.2 -0.6 0.1 -1.2 0.2 -1.0 0.2 3.5 0.1 -0.7 0.2 -4.5 0.2 1.6 0.1 2.0 0.2 0.5 0.2 0.3 0.1 -4.5 0.2 3.7 0.2 -1.3 0.1 -4.0 0.2 0.7 0.2 -0.3 0.1 -0.8 0.2 4.6 0.2 -3.5 0.1 2.1 0.2 -3.8 0.2 4.6 0.1 -1.2 0.2 0.4 0.2 -1.2 0.1 -1.0 0.2 -1.8 0.2 4.4 0.1 -4.9 0.2 2.1 0.2 -2.6 0.1 -0.2 0.2 3.4 0.2 1.0 0.1 -2.7 0.2 1.9 0.2 0.2 0.1 -2.1 0.2 1.3 0.2 -3.0 0.1 -2.0 0.2 1.1 0.2 -1.2 0.1 0.2 0.2 3.9 0.2 0.8 0.1 -5.2 0.2 3.9 0.2 0.2 0.1 -0.8 0.2 -1.2 0.2 -0.2 0.1 1.1 0.2 -2.8 0.2 2.9 0.1 -3.5 0.2 -1.1 0.2 5.3 0.1 -5.2 0.2 0.5 0.2 -1.0 0.1 -0.4 0.2 0.6 0.2 4.6 0.2 -1.5 0.1 -1.9 0.2 -2.5 0.2 4.8 0.1 -2.2 0.2 2.1 0.2 -2.2 0.1 -2.7 0.2 -0.1 0.2 4.1 0.1 -3.5 0.2 -0.5 0.2 1.4 0.1 -1.0 0.2 0.0 0.2 3.0 0.1 -2.1 0.2 3.1 0.2 -5.5 0.1 1.1 0.2 3.5 0.2 -2.8 0.1 2.0 0.2 -2.1 0.2 -0.3 0.1 2.9 0.2 -3.5 0.2 1.6 0.1 -0.3 0.2 -3.2 0.2 0.3 0.1 0.7 0.2 -1.5 0.2 4.0 0.1 -0.7 0.2 -1.5 0.2 0.3 0.1 -2.4 0.2 2.0 0.2 2.5 0.1 -5.1 0.2 3.4 0.2 0.0 0.1 -3.2 0.2 0.0 0.2 -1.1 0.1 1.9 0.2 -1.6 0.2 -1.9 0.1 0.6 0.2 -0.7 0.2 4.0 0.1 -2.6 0.2 -1.2 0.2 -0.3 0.1 0.4 0.2 1.6 0.2 -4.0 0.1 -2.4 0.2 0.3 0.2 -1.5 0.1 0.7 0.2 2.1 0.2 -2.4 0.1 3.1 0.2 0.5 0.2 -5.2 0.1 4.0 0.2 -0.9 0.2 1.9 0.1 -4.9 0.2 4.3 0.2 -3.6 0.1 -0.8 0.2 0.3 0.2 4.0 0.1 -2.8 0.2 -0.3 0.2 2.6 0.1 -0.1 0.2 3.3 0.2 -8.2 0.1 5.9 0.2 -1.7 0.2 1.4 0.1 -0.5 0.2 0.8 0.2 0.1 0.1 -1.3 0.2 -2.9 0.2 3.5 0.1 -3.7 0.2 2.1 0.2 -0.2 0.1 0.2 0.2 3.3 0.2 0.6 0.1 0.2 0.2 -1.5 0.2 1.1 0.1 -3.8 0.2 1.5 0.2 2.8 0.1 -1.8 0.2 0.4 0.2 1.9 0.1 -3.2 0.2 4.0 0.2 -0.6 0.1 -3.8 0.2 2.2 0.2 3.0 0.1 -3.8 0.2 -1.5 0.2 1.0 0.1 2.3 0.2 -2.7 0.2 -0.3 0.1 0.5 0.2 4.1 0.2 2.7 0.1 -6.9 0.2 2.5 0.2 0.7 0.1 -3.6 0.2 4.8 0.2 -0.8 0.1 -0.5 0.2 -1.2 0.2 1.8 0.1 0.2 0.2 -3.3 0.2 -0.3 0.1 4.5 0.2 -3.0 0.2 -0.5 0.1 3.1 0.2 -0.5 0.2 -0.6 0.1 0.3 0.2 0.2 0.2 -0.9 0.1 2.0 0.2 -1.2 0.2 0.3 0.1 0.2 0.2 -4.6 0.2 5.8 0.1 -1.2 0.2 -4.0 0.2 4.0 0.1 0.1 0.2 -1.1 0.2 -1.0 0.1 1.6 0.2 -2.0 0.2 1.6 0.1 1.5 0.2 0.8 0.2 -0.8 0.1 2.2 0.2 0.2 0.2 3.3 0.1 -4.7 0.2 -1.9 0.2 -1.0 0.1 3.4 0.2 -0.2 0.2 -2.8 0.1 1.0 0.2 5.2 0.2 -1.1 0.1 1.2 0.2 -3.3 0.2 0.9 0.1 1.2 0.2 -0.9 0.2 -2.0 0.1 2.9 0.2 1.4 0.2 -1.6 0.1 3.6 0.2 0.3 0.2 -5.2 0.1 2.5 0.2 1.3 0.2 -0.9 0.1 3.6 0.2 -3.8 0.2 3.8 0.1 -4.3 0.2 4.6 0.2 -4.5 0.1 4.7 0.2 0.2 0.2 -1.4 0.1 -1.4 0.2 0.8 0.2 -1.4 0.1 1.1 0.2 1.7 0.2 0.3 0.1 -0.1 0.2 2.7 0.2 -3.7 0.1 3.7 0.2 0.7 0.2 -2.7 0.1 -1.5 0.2 4.8 0.2 -0.3 0.1 -1.2 0.2 2.9 0.2 -3.7 0.1 3.0 0.2 -0.2 0.2 -1.4 0.1 2.5 0.2 -3.8 0.2 1.4 0.1 1.2 0.2 3.0 0.2 -0.2 0.1 -8.4 0.2 6.9 0.2 -2.8 0.1 1.6 0.2 3.6 0.2 -4.0 0.1 -0.9 0.2 5.0 0.2 -4.2 0.1 2.4 0.2 -1.9 0.2 4.2 0.1 -1.0 0.2 0.3 0.2 -4.1 0.1 1.7 0.2 3.0 0.2 -3.3 0.1 -1.1 0.2 4.5 0.2 -3.4 0.1 1.9 0.2 -2.4 0.2 -0.4 0.1 2.3 0.2 0.8 0.2 0.8 0.2 1.0 0.1 -2.5 0.2 2.3 0.2 -4.9 0.1 4.9 0.2 -3.3 0.2 -4.5 0.1 3.7 0.2 -0.4 0.2 2.9 0.1 -2.8 0.2 1.7 0.2 -0.7 0.1 2.8 0.2 -3.1 0.2 -0.3 0.1 0.3 0.2 -0.6 0.2 2.8 0.1 -0.8 0.2 1.1 0.2 -3.5 0.1 4.1 0.2 -1.5 0.2 2.5 0.1 0.1 0.2 -5.8 0.2 3.5 0.1 -2.1 0.2 2.7 0.2 -3.4 0.1 2.6 0.2 1.2 0.2 -1.2 0.1 -1.6 0.2 2.7 0.2 1.1 0.1 -3.9 0.2 -1.0 0.2 1.7 0.1 0.1 0.2 -0.1 0.2 5.7 0.1 -6.6 0.2 -1.1 0.2 -0.3 0.1 2.8 0.2 -1.2 0.2 1.3 0.1 2.5 0.2 -3.5 0.2 -1.1 0.1 4.7 0.2 -4.4 0.2 0.8 0.1 -1.7 0.2 3.6 0.2 -3.8 0.1 4.6 0.2 -1.9 0.2 2.4 0.1 -2.9 0.2 2.7 0.2 -4.3 0.1 1.8 0.2 -0.2 0.2 0.5 0.1 -1.1 0.2 0.4 0.2 4.1 0.1 -5.3 0.2 2.5 0.2 4.6 0.1 -4.8 0.2 -0.1 0.2 0.5 0.1 -2.3 0.2 0.4 0.2 3.0 0.1 -0.6 0.2 -2.2 0.2 1.5 0.1 3.0 0.2 -4.7 0.2 3.6 0.1 0.8 0.2 -2.4 0.2 -2.3 0.1 1.9 0.2 1.8 0.2 -0.7 0.1 1.0 0.2 -2.0 0.2 -3.0 0.1 0.1 0.2 4.5 0.2 -1.6 0.1 2.2 0.2 -0.4 0.2 -1.2 0.1 -0.4 0.2 1.1 0.2 -3.7 0.1 1.1 0.2 1.6 0.2 -0.7 0.1 -2.2 0.2 0.9 0.2 -1.2 0.1 4.1 0.2 -4.0 0.2 2.8 0.1 -3.0 0.2 -1.4 0.2 0.4 0.1 1.8 0.2 2.7 0.2 0.3 0.1 -2.4 0.2 1.8 0.2 -1.5 0.1 1.6 0.2 -4.7 0.2 0.0 0.1 -0.2 0.2 3.1 0.2 0.4 0.1 -1.2 0.2 0.8 0.2 -7.9 0.1 2.5 0.2 -0.4 0.2 0.6 0.1 -0.2 0.2 -0.3 0.2 -2.0 0.1 1.6 0.2 0.3 0.2 0.4 0.1 -4.5 0.2 5.8 0.2 -6.2 0.1 0.6 0.2 2.5 0.2 -5.0 0.1 1.3 0.2 -1.5 0.2 -1.3 0.1 -3.7 0.2 3.6 0.2 1.4 0.1 -3.2 0.2 0.5 0.2 4.1 0.1 -3.1 0.2 -1.6 0.2 3.9 0.1 -1.9 0.2 -2.6 0.2 2.7 0.1 -5.1 0.2 1.4 0.2 3.6 0.1 -2.8 0.2 -2.7 0.2 -0.2 0.1 4.9 0.2 -3.5 0.2 2.9 0.1 -4.0 0.2 1.9 0.2 -2.2 0.1 3.5 0.2 -0.5 0.2 1.0 0.1 -3.0 0.2 1.5 0.2 -4.1 0.1 3.0 0.2 0.7 0.2 -0.1 0.1 -2.9 0.2 -1.6 0.2 3.5 0.1 0.8 0.2 -1.4 0.2 -2.2 0.1 1.3 0.2 -1.1 0.2 3.9 0.1 -1.3 0.2 0.3 0.2 -0.1 0.1 1.6 0.2 -0.2 0.2 -5.7 0.1 -2.6 0.2 8.4 0.2 -3.7 0.1 2.1 0.2 -2.1 0.2 2.5 0.1 -0.3 0.2 -2.8 0.2 2.6 0.1 -4.2 0.2 0.1 0.2 2.8 0.1 2.4 0.2 0.4 0.2 -5.7 0.1 1.7 0.2 -1.2 0.2 4.5 0.1 -2.9 0.2 -0.5 0.2 0.7 0.1 -0.3 0.2 0.9 0.2 -2.7 0.1 0.1 0.2 1.1 0.2 -0.9 0.1 5.2 0.2 -4.8 0.2 4.5 0.1 -3.4 0.2 4.2 0.2 -4.9 0.1 2.7 0.2 0.9 0.2 -3.9 0.1 3.3 0.2 -0.1 0.2 2.0 0.1 -2.5 0.2 0.9 0.2 -2.6 0.1 4.2 0.2 1.8 0.2 -1.0 0.1 0.3 0.2 -0.1 0.2 -3.0 0.1 4.4 0.2 -5.0 0.2 2.5 0.1 2.2 0.2 -0.5 0.2 -2.8 0.1 0.4 0.2 1.6 0.2 -0.9 0.2 -1.4 0.1 0.9 0.2 2.9 0.2 -1.7 0.1 0.4 0.2 -2.3 0.2 -0.5 0.1 5.4 0.2 -0.3 0.2 -2.1 0.1 1.0 0.2 0.2 0.2 -1.3 0.1 -2.0 0.2 -0.4 0.2 4.4 0.1 0.5 0.2 -4.5 0.2 6.4 0.1 -6.5 0.2 8.2 0.2 -5.1 0.1 0.0 0.2 3.1 0.2 -1.4 0.1 -1.2 0.2 2.1 0.2 -2.3 0.1 -0.9 0.2 3.3 0.2 0.2 0.1 -1.0 0.2 -1.9 0.2 4.5 0.1 -0.9 0.2 -3.6 0.2 3.1 0.1 -0.2 0.2 -3.0 0.2 4.0 0.1 -3.3 0.2 3.8 0.2 0.0 0.1 1.7 0.2 -3.3 0.2 2.0 0.1 1.2 0.2 -3.9 0.2 1.2 0.1 2.7 0.2 1.8 0.2 -2.4 0.1 3.4 0.2 0.5 0.2 -3.4 0.1 -0.8 0.2 2.9 0.2 0.2 0.1 1.8 0.2 -4.0 0.2 4.6 0.1 -2.4 0.2 -0.7 0.2 0.4 0.1 -0.3 0.2 0.8 0.2 3.1 0.1 -2.1 0.2 3.5 0.2 -1.1 0.1 -1.3 0.2 0.3 0.2 1.3 0.1 0.4 0.2 -1.6 0.2 -1.5 0.1 3.5 0.2 -1.4 0.2 2.9 0.1 0.7 0.2 -3.2 0.2 0.2 0.1 3.7 0.2 0.7 0.2 -0.4 0.1 -4.9 0.2 4.0 0.2 -2.1 0.1 -0.9 0.2 -1.5 0.2 2.6 0.1 0.3 0.2 -2.4 0.2 1.8 0.1 -0.6 0.2 -3.5 0.2 3.0 0.1 -3.7 0.2 2.0 0.2 -0.2 0.1 1.2 0.2 -0.2 0.2 -1.4 0.1 -3.7 0.2 0.4 0.2 2.7 0.1 1.2 0.2 -5.2 0.2 4.2 0.1 -2.1 0.2 0.8 0.2 -4.2 0.1 2.0 0.2 2.9 0.2 -5.0 0.1 0.1 0.2 0.9 0.2 0.3 0.1 -5.8 0.2 2.9 0.2 2.9 0.1 -3.8 0.2 1.2 0.2 -0.1 0.1 -0.3 0.2 3.8 0.2 -4.5 0.1 2.4 0.2 -3.0 0.2 4.1 0.1 -1.3 0.2 -3.5 0.2 2.0 0.1 -0.4 0.2 -3.5 0.2 4.9 0.1 -3.9 0.2 3.4 0.2 -4.9 0.1 1.7 0.2 -0.6 0.2 1.8 0.1 -2.9 0.2 -1.3 0.2 0.7 0.1 -4.4 0.2 8.2 0.2 -4.3 0.1 3.0 0.2 -2.7 0.2 2.2 0.1 -3.1 0.2 -2.3 0.2 -0.1 0.1 0.6 0.2 -2.2 0.2 3.7 0.1 -4.9 0.2 2.0 0.2 0.0 0.1 2.1 0.2 -3.6 0.2 2.5 0.1 -2.7 0.2 0.8 0.2 2.5 0.1 -3.7 0.2 2.3 0.2 -0.5 0.1 -3.1 0.2 2.1 0.2 -3.4 0.1 -1.6 0.2 7.9 0.2 -5.5 0.1 3.9 0.2 -4.5 0.2 2.0 0.1 -1.7 0.2 3.3 0.2 -0.3 0.1 -2.0 0.2 -0.8 0.2 4.8 0.1 -1.6 0.2 -0.3 0.2 0.8 0.1 -4.1 0.2 0.7 0.2 4.6 0.1 -2.9 0.2 2.5 0.2 1.0 0.1 0.4 0.2 0.4 0.2 -0.5 0.1 -3.4 0.2 3.1 0.2 -0.1 0.1 -1.7 0.2 2.7 0.2 -2.1 0.1 -1.4 0.2 2.8 0.2 -2.5 0.1 5.1 0.2 -4.9 0.2 0.6 0.1 1.6 0.2 -1.3 0.2 2.0 0.1 0.5 0.2 -2.4 0.2 0.6 0.1 2.7 0.2 -1.0 0.2 3.5 0.1 -4.7 0.2 5.5 0.2 -4.7 0.1 -0.3 0.2 3.0 0.2 2.5 0.1 -1.7 0.2 -2.3 0.2 2.5 0.1 -0.3 0.2 -2.6 0.2 3.4 0.1 1.4 0.2 0.0 0.2 -2.6 0.1 -0.1 0.2 0.5 0.2 1.3 0.1 -2.7 0.2 0.5 0.2 -0.1 0.1 3.2 0.2 -0.2 0.2 1.7 0.1 -3.7 0.2 0.1 0.2 4.2 0.1 -4.1 0.2 1.9 0.2 -2.8 0.1 4.5 0.2 -5.1 0.2 4.0 0.1 -3.0 0.2 1.9 0.2 0.1 0.2 -3.1 0.1 0.0 0.2 -1.6 0.2 2.2 0.1 -0.3 0.2 0.8 0.2 -2.8 0.1 0.6 0.2 0.3 0.2 1.7 0.1 -2.3 0.2 2.5 0.2 -1.3 0.1 1.1 0.2 -0.1 0.2 -3.2 0.1 3.1 0.2 -2.5 0.2 2.4 0.1 -1.9 0.2 1.5 0.2 -1.8 0.1 -2.8 0.2 2.2 0.2 -2.6 0.1 5.2 0.2 -0.8 0.2 -4.6 0.1 4.0 0.2 -1.8 0.2 1.1 0.1 0.0 0.2 -2.2 0.2 3.3 0.1 -4.8 0.2 5.9 0.2 -3.3 0.1 3.1 0.2 -4.3 0.2 4.0 0.1 -3.5 0.2 3.7 0.2 -0.6 0.1 1.0 0.2 -1.2 0.2 -3.3 0.1 0.0 0.2 3.7 0.2 0.7 0.1 0.6 0.2 -0.9 0.2 1.8 0.1 -3.9 0.2 0.3 0.2 -1.6 0.1 4.9 0.2 -3.6 0.2 3.0 0.1 0.6 0.2 -0.2 0.2 -1.3 0.1 -2.4 0.2 4.8 0.2 0.7 0.1 -5.0 0.2 5.4 0.2 -2.0 0.1 1.2 0.2 0.6 0.2 -0.5 0.1 -2.1 0.2 1.5 0.2 -3.8 0.1 2.0 0.2 0.4 0.2 -2.6 0.1 7.1 0.2 -2.4 0.2 -2.3 0.1 -0.8 0.2 -2.5 0.2 6.7 0.1 -5.2 0.2 -0.3 0.2 1.8 0.1 3.6 0.2 -5.4 0.2 0.1 0.1 1.4 0.2 0.8 0.2 1.9 0.1 -3.0 0.2 0.9 0.2 2.5 0.1 -3.5 0.2 0.0 0.2 3.6 0.1 -0.6 0.2 1.4 0.2 -0.8 0.1 -0.9 0.2 -3.6 0.2 0.2 0.1 0.9 0.2 5.1 0.2 -4.5 0.1 -1.7 0.2 5.7 0.2 -3.6 0.1 -2.0 0.2 4.5 0.2 -0.3 0.1 -3.4 0.2 -0.1 0.2 3.9 0.1 -4.0 0.2 4.1 0.2 -1.2 0.1 2.5 0.2 -3.4 0.2 3.3 0.1 -1.5 0.2 -1.6 0.2 2.2 0.1 -1.7 0.2 0.0 0.2 -0.8 0.1 2.1 0.2 -0.8 0.2 -0.2 0.1 -2.0 0.2 5.3 0.2 -3.8 0.1 4.3 0.2 -4.6 0.2 -1.2 0.1 5.9 0.2 -1.8 0.2 0.6 0.1 -2.1 0.2 -2.5 0.2 4.8 0.1 0.8 0.2 -2.9 0.2 -2.1 0.1 1.4 0.2 3.8 0.2 -5.6 0.1 2.3 0.2 -1.3 0.2 3.6 0.1 0.3 0.2 -1.8 0.2 1.4 0.1 1.5 0.2 -4.1 0.2 1.5 0.1 1.9 0.2 -4.5 0.2 4.1 0.1 -2.8 0.2 -0.3 0.2 -0.5 0.1 2.0 0.2 0.9 0.2 -1.8 0.1 1.5 0.2 -2.3 0.2 3.2 0.1 -0.8 0.2 -3.4 0.2 4.2 0.1 0.7 0.2 -1.3 0.2 1.1 0.1 0.5 0.2 -0.3 0.2 -1.9 0.1 -0.2 0.2 2.3 0.2 2.0 0.1 1.2 0.2 -1.6 0.2 0.2 0.1 1.3 0.2 -2.0 0.2 3.9 0.1 -2.4 0.2 -0.7 0.2 3.7 0.1 -3.7 0.2 2.1 0.2 -1.4 0.1 3.8 0.2 -1.6 0.2 -3.5 0.1 4.2 0.2 -3.0 0.2 2.3 0.1 0.8 0.2 0.4 0.2 0.6 0.1 -1.3 0.2 1.1 0.2 -3.9 0.1 3.4 0.2 0.5 0.2 1.8 0.1 -2.9 0.2 -1.8 0.2 3.0 0.1 -0.8 0.2 1.0 0.2 -2.9 0.1 0.2 0.2 3.1 0.2 1.0 0.1 -0.7 0.2 -1.7 0.2 1.9 0.1 1.5 0.2 -0.2 0.2 1.6 0.1 -3.6 0.2 2.7 0.2 -3.6 0.1 3.8 0.2 -7.1 0.2 1.5 0.1 0.7 0.2 2.6 0.2 1.6 0.1 -4.4 0.2 2.5 0.2 -3.3 0.1 2.2 0.2 2.2 0.2 0.1 0.1 -0.1 0.2 -1.4 0.2 -3.1 0.1 3.9 0.2 0.4 0.2 -2.3 0.1 3.5 0.2 -1.4 0.2 -0.9 0.1 -3.3 0.2 -0.2 0.2 2.8 0.2 0.1 0.1 0.4 0.2 0.1 0.2 1.0 0.1 -1.0 0.2 -2.8 0.2 0.6 0.1 0.2 0.2 -0.6 0.2 3.6 0.1 -4.8 0.2 0.1 0.2 2.2 0.1 -2.1 0.2 0.3 0.2 1.1 0.1 1.5 0.2 0.1 0.2 -2.0 0.1 2.0 0.2 -3.1 0.2 -1.4 0.1 2.4 0.2 1.1 0.2 -4.8 0.1 3.1 0.2 -2.7 0.2 3.2 0.1 1.6 0.2 -1.2 0.2 -0.6 0.1 -0.8 0.2 1.2 0.2 -1.0 0.1 -1.4 0.2 -1.0 0.2 -0.6 0.1 2.8 0.2 -4.3 0.2 2.2 0.1 -0.9 0.2 0.7 0.2 -0.3 0.1 -1.1 0.2 -0.7 0.2 6.7 0.1 -7.0 0.2 1.1 0.2 -1.3 0.1 0.4 0.2 2.1 0.2 -1.7 0.1 -0.6 0.2 3.9 0.2 -2.2 0.1 1.3 0.2 -0.5 0.2 -1.2 0.1 3.1 0.2 -4.9 0.2 2.5 0.1 -2.4 0.2 5.4 0.2 -2.0 0.1 0.9 0.2 1.3 0.2 0.3 0.1 -0.3 0.2 -0.9 0.2 1.0 0.1 -0.3 0.2 -0.5 0.2 -2.2 0.1 1.4 0.2 -0.7 0.2 1.9 0.1 0.5 0.2 -3.0 0.2 0.0 0.1 1.8 0.2 -3.0 0.2 4.1 0.1 -3.0 0.2 0.4 0.2 1.8 0.1 1.1 0.2 -2.2 0.2 1.5 0.1 -1.8 0.2 -0.7 0.2 2.1 0.1 -0.3 0.2 2.1 0.2 -3.8 0.1 0.5 0.2 0.1 0.2 2.6 0.1 0.2 0.2 2.6 0.2 -4.1 0.1 2.9 0.2 0.3 0.2 -0.2 0.1 -2.6 0.2 3.2 0.2 -0.1 0.1 -0.2 0.2 -1.4 0.2 1.2 0.1 -0.6 0.2 2.1 0.2 0.9 0.1 -4.1 0.2 3.6 0.2 -6.2 0.1 1.6 0.2 4.1 0.2 -3.0 0.1 -0.8 0.2 1.1 0.2 4.7 0.1 -7.1 0.2 3.8 0.2 3.6 0.1 -5.6 0.2 5.3" fill="none" stroke="#f00000" stroke-width="2.3" stroke-linejoin="round"/>
<path d="M315.5 306.8l0.2 3.9 0.1 -4.8 0.2 -7.5 0.2 -0.5 0.1 9.1 0.2 -3.6 0.2 -6.7 0.1 9.6 0.2 0.7 0.2 -7.6 0.1 5.6 0.2 -8.0 0.2 3.7 0.1 4.0 0.2 -4.5 0.2 1.3 0.1 -4.7 0.2 7.5 0.2 -3.5 0.1 -6.2 0.2 9.0 0.2 2.1 0.1 -4.9 0.2 2.1 0.2 2.8 0.1 -10.7 0.2 6.2 0.2 9.7 0.1 -15.1 0.2 -0.7 0.2 5.3 0.1 1.9 0.2 -2.0 0.2 -0.1 0.1 -5.5 0.2 7.6 0.2 -4.7 0.1 -2.8 0.2 9.8 0.2 -3.4 0.1 -2.3 0.2 3.1 0.2 -2.9 0.1 -4.0 0.2 5.4 0.2 1.6 0.1 -0.1 0.2 -1.6 0.2 9.0 0.1 -5.2 0.2 -0.8 0.2 -5.6 0.1 -1.2 0.2 2.9 0.2 1.4 0.1 -5.6 0.2 4.5 0.2 -1.4 0.1 -4.9 0.2 4.7 0.2 -0.3 0.1 6.3 0.2 -15.3 0.2 14.9 0.1 -0.3 0.2 -3.4 0.2 -4.7 0.1 6.7 0.2 -7.0 0.2 1.7 0.1 3.8 0.2 -2.7 0.2 0.3 0.1 -1.8 0.2 -2.9 0.2 3.3 0.1 4.6 0.2 -0.2 0.2 -7.7 0.1 4.5 0.2 -2.1 0.2 0.2 0.1 5.3 0.2 -1.9 0.2 -3.1 0.1 -0.2 0.2 3.5 0.2 -5.2 0.1 3.5 0.2 -0.7 0.2 -0.2 0.1 -2.9 0.2 2.0 0.2 1.3 0.1 -5.5 0.2 4.4 0.2 -3.0 0.1 0.4 0.2 -0.9 0.2 -1.1 0.1 3.9 0.2 -3.9 0.2 -2.4 0.1 6.4 0.2 -4.3 0.2 1.8 0.1 4.3 0.2 -3.7 0.2 -1.5 0.1 -2.7 0.2 4.5 0.2 2.6 0.1 -2.8 0.2 0.6 0.2 -6.3 0.1 1.1 0.2 0.4 0.2 1.3 0.1 4.4 0.2 -4.7 0.2 -3.3 0.1 3.9 0.2 -3.1 0.2 4.1 0.1 -3.4 0.2 6.8 0.2 -5.8 0.2 1.6 0.1 0.0 0.2 -1.9 0.2 6.3 0.1 -10.5 0.2 7.8 0.2 -5.3 0.1 -4.3 0.2 3.4 0.2 6.4 0.1 1.8 0.2 -1.5 0.2 -5.4 0.1 2.4 0.2 -4.1 0.2 3.4 0.1 -1.7 0.2 -2.5 0.2 1.9 0.1 8.2 0.2 -4.4 0.2 -2.8 0.1 -1.7 0.2 8.8 0.2 -9.0 0.1 -0.5 0.2 0.8 0.2 7.2 0.1 2.1 0.2 -9.4 0.2 6.0 0.1 0.1 0.2 -1.5 0.2 -12.0 0.1 13.3 0.2 -2.8 0.2 4.5 0.1 0.2 0.2 -3.6 0.2 -4.7 0.1 1.4 0.2 2.3 0.2 1.7 0.1 -4.0 0.2 -0.9 0.2 1.8 0.1 3.0 0.2 -7.2 0.2 3.2 0.1 0.0 0.2 -1.6 0.2 -1.3 0.1 5.7 0.2 -1.4 0.2 -7.1 0.1 -1.9 0.2 0.0 0.2 4.5 0.1 -2.9 0.2 2.1 0.2 3.8 0.1 0.7 0.2 0.9 0.2 4.0 0.1 -9.0 0.2 2.3 0.2 2.3 0.1 -1.1 0.2 -0.2 0.2 2.5 0.1 1.5 0.2 4.7 0.2 -11.0 0.1 -1.2 0.2 0.2 0.2 6.8 0.1 -4.5 0.2 4.3 0.2 -1.2 0.1 3.8 0.2 -7.3 0.2 6.2 0.1 -6.0 0.2 5.1 0.2 -0.1 0.1 -2.1 0.2 0.5 0.2 1.4 0.1 1.1 0.2 -2.0 0.2 2.5 0.1 -2.1 0.2 3.3 0.2 0.7 0.1 -0.7 0.2 1.1 0.2 1.0 0.1 0.0 0.2 -2.5 0.2 0.6 0.1 0.6 0.2 12.2 0.2 -9.5 0.1 2.0 0.2 -3.9 0.2 2.9 0.1 -0.3 0.2 -1.7 0.2 0.4 0.1 0.4 0.2 4.7 0.2 2.6 0.1 -0.8 0.2 -4.8 0.2 2.0 0.1 2.3 0.2 -1.5 0.2 5.2 0.1 -10.9 0.2 7.5 0.2 -6.3 0.1 4.3 0.2 -1.5 0.2 0.4 0.1 2.1 0.2 -5.3 0.2 -0.5 0.1 5.0 0.2 -3.2 0.2 -1.0 0.1 -1.9 0.2 1.2 0.2 0.2 0.1 2.0 0.2 -4.7 0.2 -2.0 0.1 2.8 0.2 -3.1 0.2 1.9 0.1 -0.1 0.2 0.4 0.2 -5.1 0.1 0.0 0.2 0.1 0.2 1.8 0.1 -2.9 0.2 -0.4 0.2 1.6 0.1 -4.4 0.2 -0.7 0.2 -0.7 0.1 1.7 0.2 -2.2 0.2 0.2 0.1 0.1 0.2 -0.4 0.2 -1.3 0.1 -2.0 0.2 3.3 0.2 -0.2 0.1 -2.3 0.2 -2.1 0.2 3.5 0.1 -5.6 0.2 3.8 0.2 -1.7 0.1 -2.9 0.2 1.6 0.2 -1.2 0.1 -3.4 0.2 1.8 0.2 0.9 0.1 -1.4 0.2 -3.0 0.2 -0.3 0.1 1.3 0.2 -3.5 0.2 1.9 0.1 -1.4 0.2 -1.4 0.2 -0.7 0.1 -0.6 0.2 -2.3 0.2 2.6 0.1 -2.9 0.2 0.3 0.2 -3.2 0.1 2.9 0.2 -1.5 0.2 -2.8 0.1 2.7 0.2 -0.8 0.2 -2.7 0.1 -1.6 0.2 2.4 0.2 -5.1 0.1 4.7 0.2 -0.5 0.2 -5.6 0.1 5.9 0.2 -5.8 0.2 2.5 0.1 -0.3 0.2 -4.5 0.2 0.4 0.1 2.9 0.2 -1.5 0.2 -1.0 0.1 -4.5 0.2 3.4 0.2 -4.3 0.1 0.6 0.2 -0.6 0.2 -1.6 0.1 1.5 0.2 -2.8 0.2 3.9 0.1 -3.0 0.2 0.5 0.2 -1.8 0.1 -2.5 0.2 0.7 0.2 -2.6 0.1 0.4 0.2 0.5 0.2 -2.6 0.1 2.0 0.2 -1.4 0.2 -3.7 0.1 0.7 0.2 0.8 0.2 -3.2 0.1 -2.3 0.2 0.6 0.2 -0.1 0.1 -1.2 0.2 -1.4 0.2 -0.1 0.1 -0.8 0.2 0.0 0.2 0.3 0.1 -2.2 0.2 -3.0 0.2 -0.6 0.1 -0.2 0.2 1.9 0.2 -4.5 0.1 2.4 0.2 -2.4 0.2 -1.5 0.2 1.0 0.1 -0.2 0.2 -0.7 0.2 -3.2 0.1 -0.8 0.2 -0.8 0.2 -0.6 0.1 -0.7 0.2 0.7 0.2 -1.7 0.1 0.8 0.2 1.1 0.2 -1.6 0.1 -4.1 0.2 3.7 0.2 -3.5 0.1 -1.8 0.2 -0.3 0.2 -1.6 0.1 0.6 0.2 0.4 0.2 -2.5 0.1 3.8 0.2 -3.4 0.2 -0.1 0.1 -1.8 0.2 2.5 0.2 0.3 0.1 -3.8 0.2 -3.4 0.2 3.3 0.1 -2.5 0.2 -1.9 0.2 1.7 0.1 1.6 0.2 -0.9 0.2 -5.2 0.1 7.3 0.2 -4.5 0.2 4.5 0.1 -5.5 0.2 10.8 0.2 -6.3 0.1 -9.4 0.2 9.7 0.2 -2.5 0.1 -1.3 0.2 -11.1 0.2 11.5 0.1 0.1 0.2 2.6 0.2 -5.9 0.1 -4.2 0.2 8.3 0.2 -4.7 0.1 -0.6 0.2 4.3 0.2 -8.1 0.1 -0.2 0.2 12.0 0.2 -1.4 0.1 -1.0 0.2 -4.3 0.2 -1.1 0.1 -2.8 0.2 -2.1 0.2 9.9 0.1 -10.6 0.2 9.8 0.2 -9.1 0.1 2.3 0.2 2.3 0.2 -0.8 0.1 -2.3 0.2 7.5 0.2 -9.6 0.1 7.2 0.2 -0.8 0.2 -0.6 0.1 -4.8 0.2 6.3 0.2 0.8 0.1 -2.1 0.2 0.1 0.2 -0.6 0.1 -1.7 0.2 1.9 0.2 -0.9 0.1 -3.3 0.2 7.7 0.2 -7.2 0.1 -3.5 0.2 7.4 0.2 3.2 0.1 -10.8 0.2 -1.3 0.2 4.1 0.1 -0.8 0.2 -1.8 0.2 1.7 0.1 2.0 0.2 -3.0 0.2 4.4 0.1 -1.9 0.2 -0.3 0.2 -4.2 0.1 9.3 0.2 -2.1 0.2 -1.0 0.1 -3.7 0.2 9.9 0.2 -4.0 0.1 1.4 0.2 -4.1 0.2 0.8 0.1 0.9 0.2 -6.1 0.2 -0.5 0.1 7.5 0.2 -6.8 0.2 -4.3 0.1 6.3 0.2 5.8 0.2 -6.6 0.1 2.0 0.2 4.9 0.2 -11.1 0.1 0.4 0.2 -2.6 0.2 4.9 0.1 -3.4 0.2 6.5 0.2 -3.6 0.1 -3.7 0.2 9.4 0.2 0.4 0.1 2.1 0.2 -8.2 0.2 2.8 0.1 1.3 0.2 3.5 0.2 0.9 0.1 -8.9 0.2 -1.8 0.2 0.9 0.1 -0.2 0.2 7.4 0.2 -2.3 0.1 -13.5 0.2 13.5 0.2 0.5 0.1 -2.4 0.2 3.4 0.2 -9.4 0.1 8.7 0.2 -8.9 0.2 11.2 0.1 -4.5 0.2 4.2 0.2 -9.6 0.1 0.7 0.2 8.7 0.2 -10.2 0.1 3.2 0.2 6.2 0.2 1.0 0.1 -9.7 0.2 -1.0 0.2 7.6 0.1 -5.5 0.2 1.0 0.2 -3.2 0.1 4.0 0.2 6.0 0.2 -3.1 0.1 -7.1 0.2 0.6 0.2 10.6 0.1 -3.4 0.2 -5.7 0.2 5.6 0.1 2.3 0.2 0.4 0.2 -2.1 0.1 -5.7 0.2 8.3 0.2 -1.9 0.1 3.6 0.2 -5.7 0.2 4.7 0.1 -0.5 0.2 -4.6 0.2 -1.5 0.1 4.9 0.2 -3.9 0.2 1.7 0.1 -0.6 0.2 1.8 0.2 0.2 0.1 3.0 0.2 -0.2 0.2 -2.5 0.1 3.7 0.2 1.1 0.2 -1.3 0.1 -1.7 0.2 4.8 0.2 0.2 0.1 -2.8 0.2 1.8 0.2 3.1 0.1 0.0 0.2 -1.8 0.2 1.6 0.1 -0.8 0.2 5.0 0.2 0.0 0.1 -1.9 0.2 1.5 0.2 2.2 0.1 -0.2 0.2 -2.9 0.2 5.5 0.1 0.4 0.2 -2.0 0.2 4.2 0.1 -0.7 0.2 1.2 0.2 1.2 0.1 1.7 0.2 -0.8 0.2 -0.3 0.1 1.1 0.2 3.1 0.2 -0.3 0.1 0.4 0.2 0.8 0.2 0.5 0.1 2.6 0.2 0.8 0.2 -1.6 0.1 -2.1 0.2 3.4 0.2 1.3 0.1 1.5 0.2 1.9 0.2 1.2 0.1 0.8 0.2 2.4 0.2 -0.5 0.1 2.2 0.2 2.4 0.2 1.2 0.2 1.3 0.1 1.7 0.2 0.0 0.2 3.0 0.1 1.0 0.2 2.1 0.2 -0.3 0.1 1.9 0.2 2.8 0.2 -0.3 0.1 2.3 0.2 1.9 0.2 0.4 0.1 1.2 0.2 1.3 0.2 0.5 0.1 1.9 0.2 1.8 0.2 0.5 0.1 0.6 0.2 1.2 0.2 0.1 0.1 0.8 0.2 3.9 0.2 -0.8 0.1 2.1 0.2 0.8 0.2 -0.4 0.1 1.0 0.2 2.1 0.2 0.4 0.1 1.4 0.2 0.6 0.2 0.5 0.1 1.4 0.2 0.2 0.2 -0.7 0.1 2.6 0.2 2.5 0.2 0.0 0.1 -1.1 0.2 1.7 0.2 -1.7 0.1 4.0 0.2 -0.7 0.2 1.6 0.1 2.7 0.2 -1.3 0.2 1.6 0.1 -3.8 0.2 2.3 0.2 2.0 0.1 -1.7 0.2 2.6 0.2 -0.7 0.1 1.2 0.2 -2.1 0.2 4.8 0.1 -3.0 0.2 0.8 0.2 -1.2 0.1 0.9 0.2 -0.7 0.2 8.0 0.1 1.4 0.2 -3.1 0.2 -6.0 0.1 1.7 0.2 6.7 0.2 2.0 0.1 -9.0 0.2 4.4 0.2 1.0 0.1 -2.6 0.2 -0.9 0.2 -0.8 0.1 5.2 0.2 -4.4 0.2 4.4 0.1 -7.7 0.2 5.5 0.2 3.7 0.1 -8.2 0.2 -1.4 0.2 7.4 0.1 -5.7 0.2 3.7 0.2 -5.8 0.1 4.7 0.2 -1.0 0.2 -4.0 0.1 2.5 0.2 1.3 0.2 0.4 0.1 -2.0 0.2 2.4 0.2 0.3 0.1 -5.1 0.2 5.2 0.2 -4.2 0.1 1.9 0.2 0.7 0.2 -2.0 0.1 -2.1 0.2 1.4 0.2 -3.0 0.1 -2.3 0.2 3.2 0.2 -2.2 0.1 1.8 0.2 -4.8 0.2 2.8 0.1 -2.0 0.2 -2.5 0.2 0.9 0.1 0.9 0.2 -0.5 0.2 -1.8 0.1 -0.5 0.2 -0.2 0.2 -0.7 0.1 -2.5 0.2 -2.5 0.2 1.1 0.1 -2.9 0.2 -1.0 0.2 0.2 0.1 -0.9 0.2 -2.6 0.2 0.5 0.1 -1.3 0.2 -0.8 0.2 -2.5 0.1 -0.1 0.2 -3.9 0.2 0.2 0.1 -2.4 0.2 -0.8 0.2 -1.6 0.1 0.4 0.2 -1.5 0.2 -2.2 0.1 -2.6 0.2 -0.9 0.2 -1.4 0.1 -1.0 0.2 -0.8 0.2 -1.3 0.1 -1.0 0.2 -0.1 0.2 -2.1 0.1 -0.8 0.2 -1.2 0.2 -1.7 0.1 0.1 0.2 -2.4 0.2 -1.1 0.1 0.6 0.2 -0.5 0.2 -3.0 0.1 0.5 0.2 -2.3 0.2 -0.1 0.1 0.2 0.2 -0.8 0.2 -1.8 0.1 0.5 0.2 -0.8 0.2 -3.2 0.1 1.6 0.2 -3.3 0.2 1.3 0.1 -2.0 0.2 0.1 0.2 -2.9 0.1 0.6 0.2 -2.6 0.2 0.0 0.1 -1.0 0.2 -0.9 0.2 -1.7 0.1 -1.7 0.2 -2.3 0.2 0.6 0.1 -1.7 0.2 -2.4 0.2 -0.1 0.1 -2.2 0.2 -1.1 0.2 -2.1 0.1 -0.4 0.2 -2.7 0.2 -1.6 0.1 -2.0 0.2 -3.5 0.2 -0.9 0.1 -1.4 0.2 -3.7 0.2 -0.7 0.1 -2.8 0.2 -1.5 0.2 -2.8 0.1 -0.8 0.2 -1.4 0.2 -1.9 0.1 -1.7 0.2 -1.1 0.2 -2.2 0.1 -2.2 0.2 -0.5 0.2 -0.4 0.1 -2.5 0.2 -0.9 0.2 0.0 0.1 -3.3 0.2 -1.1 0.2 -0.2 0.1 0.6 0.2 -3.4 0.2 0.4 0.1 -0.5 0.2 -3.1 0.2 1.8 0.1 -1.0 0.2 -3.7 0.2 0.7 0.1 -1.0 0.2 0.4 0.2 -3.6 0.1 0.4 0.2 -2.0 0.2 1.0 0.1 -2.6 0.2 2.2 0.2 -2.7 0.1 -2.2 0.2 0.5 0.2 0.2 0.1 -2.2 0.2 -1.0 0.2 2.0 0.1 -1.6 0.2 -3.2 0.2 2.3 0.1 -3.5 0.2 2.6 0.2 -0.5 0.1 -3.3 0.2 -2.0 0.2 2.0 0.1 -0.6 0.2 -1.8 0.2 -0.3 0.2 -2.5 0.1 4.1 0.2 -5.0 0.2 1.2 0.1 -1.6 0.2 1.3 0.2 -2.7 0.1 -1.5 0.2 1.9 0.2 -2.0 0.1 1.7 0.2 -2.6 0.2 2.8 0.1 -2.4 0.2 -1.0 0.2 -0.7 0.1 0.0 0.2 -0.7 0.2 -0.6 0.1 -2.5 0.2 2.9 0.2 -2.9 0.1 -1.4 0.2 1.8 0.2 -0.3 0.1 -2.3 0.2 1.8 0.2 -3.8 0.1 -1.6 0.2 0.7 0.2 3.3 0.1 -4.9 0.2 4.8 0.2 -2.4 0.1 -0.2 0.2 -2.3 0.2 0.2 0.1 2.9 0.2 -3.7 0.2 -3.0 0.1 2.8 0.2 -3.4 0.2 0.2 0.1 0.3 0.2 1.8 0.2 -0.1 0.1 -1.4 0.2 -3.3 0.2 0.3 0.1 3.3 0.2 -5.0 0.2 5.8 0.1 -0.9 0.2 -1.5 0.2 2.6 0.1 -6.8 0.2 3.8 0.2 -2.0 0.1 2.9 0.2 -1.7 0.2 -0.6 0.1 -1.7 0.2 4.3 0.2 -3.3 0.1 -3.6 0.2 -1.4 0.2 8.5 0.1 -0.5 0.2 -2.6 0.2 1.1 0.1 2.0 0.2 -2.6 0.2 -5.7 0.1 5.8 0.2 -1.5 0.2 -4.6 0.1 4.4 0.2 4.1 0.2 0.0 0.1 -6.5 0.2 6.2 0.2 -7.3 0.1 1.3 0.2 -1.4 0.2 1.7 0.1 6.4 0.2 -7.7 0.2 0.4 0.1 1.4 0.2 5.6 0.2 -5.5 0.1 1.0 0.2 1.3 0.2 3.5 0.1 -4.3 0.2 3.7 0.2 0.9 0.1 -6.7 0.2 7.7 0.2 -4.4 0.1 2.0 0.2 -3.4 0.2 7.2 0.1 -5.8 0.2 6.6 0.2 -2.6 0.1 1.8 0.2 0.1 0.2 -3.8 0.1 4.8 0.2 -2.5 0.2 -0.4 0.1 5.9 0.2 -3.9 0.2 4.5 0.1 -3.3 0.2 3.3 0.2 0.9 0.1 -1.6 0.2 1.3 0.2 2.7 0.1 -3.2 0.2 0.8 0.2 4.0 0.1 3.6 0.2 -3.9 0.2 -0.1 0.1 0.9 0.2 2.0 0.2 2.9 0.1 -0.1 0.2 0.7 0.2 -1.7 0.1 0.1 0.2 2.8 0.2 2.1 0.1 -1.1 0.2 2.5 0.2 -2.9 0.1 -0.2 0.2 -1.2 0.2 1.7 0.1 3.6 0.2 0.8 0.2 -3.2 0.1 1.3 0.2 -1.3 0.2 2.8 0.1 0.1 0.2 4.4 0.2 -0.5 0.1 1.4 0.2 -6.0 0.2 1.8 0.1 5.1 0.2 -5.2 0.2 1.2 0.1 -2.1 0.2 -0.7 0.2 6.2 0.1 -2.3 0.2 -0.1 0.2 0.7 0.1 4.4 0.2 -7.4 0.2 -0.6 0.1 0.7 0.2 -0.1 0.2 7.0 0.1 -1.6 0.2 -4.7 0.2 3.2 0.1 -3.1 0.2 5.6 0.2 2.6 0.1 -7.1 0.2 8.7 0.2 -0.7 0.1 6.1 0.2 -9.2 0.2 0.4 0.1 -6.2 0.2 10.9 0.2 -1.3 0.1 -1.8 0.2 1.8 0.2 -6.7 0.1 9.5 0.2 -3.3 0.2 -6.1 0.1 6.9 0.2 -2.5 0.2 2.2 0.1 -7.1 0.2 8.9 0.2 -5.8 0.1 6.1 0.2 2.0 0.2 -12.2 0.1 7.9 0.2 -8.1 0.2 3.9 0.1 8.9 0.2 -4.2 0.2 2.7 0.1 -5.2 0.2 -1.4 0.2 -2.9 0.1 6.8 0.2 4.6 0.2 -6.6 0.1 0.0 0.2 3.9 0.2 -9.1 0.1 7.7 0.2 3.8 0.2 -10.7 0.1 11.7 0.2 1.1 0.2 -1.9 0.1 -11.0 0.2 5.6 0.2 3.4 0.1 0.4 0.2 -7.6 0.2 10.4 0.1 -11.8 0.2 8.1 0.2 3.1 0.1 -1.2 0.2 0.9 0.2 -6.3 0.1 10.4 0.2 -3.8 0.2 -2.2 0.1 -1.2 0.2 -8.1 0.2 3.1 0.1 9.9 0.2 -4.5 0.2 4.0 0.1 -2.0 0.2 -1.8 0.2 -4.0 0.1 2.6 0.2 -4.1 0.2 -0.7 0.1 4.4 0.2 -0.1 0.2 3.8 0.2 2.2 0.1 -7.7 0.2 -1.7 0.2 5.9 0.1 -6.5 0.2 1.6 0.2 2.9 0.1 3.7 0.2 -5.0 0.2 -0.6 0.1 4.8 0.2 0.6 0.2 -1.9 0.1 2.7 0.2 -4.7 0.2 7.3 0.1 -3.2 0.2 -6.4 0.2 -0.2 0.1 6.8 0.2 -9.2 0.2 6.9 0.1 2.2 0.2 -3.5 0.2 7.1 0.1 -1.1 0.2 -4.0 0.2 -0.8 0.1 3.8 0.2 -0.3 0.2 1.9 0.1 -9.7 0.2 2.9 0.2 3.0 0.1 2.6 0.2 -1.5 0.2 5.0 0.1 -6.4 0.2 -1.1 0.2 3.6 0.1 4.6 0.2 -4.5 0.2 -1.4 0.1 0.3 0.2 -7.8 0.2 0.1 0.1 7.6 0.2 -4.6 0.2 7.6 0.1 -2.7 0.2 3.5 0.2 -0.7 0.1 -3.9 0.2 5.1 0.2 -6.9 0.1 7.2 0.2 -3.8 0.2 5.2 0.1 -5.0 0.2 -3.4 0.2 14.5 0.1 -7.9 0.2 6.5 0.2 -9.3 0.1 4.3 0.2 -9.8 0.2 4.5 0.1 -5.3 0.2 9.1 0.2 -6.7 0.1 2.4 0.2 0.3 0.2 -0.8 0.1 0.8 0.2 2.4 0.2 -4.3 0.1 0.9 0.2 -3.0 0.2 0.6 0.1 -0.9 0.2 3.6 0.2 -3.4 0.1 1.2 0.2 13.8 0.2 -7.9 0.1 1.5 0.2 2.0 0.2 -9.7 0.1 2.7 0.2 1.8 0.2 6.3 0.1 -3.5 0.2 2.1 0.2 -3.4 0.1 -5.7 0.2 5.7 0.2 -3.9 0.1 7.1 0.2 -1.4 0.2 -4.9 0.1 4.8 0.2 -6.5 0.2 9.2 0.1 -9.5 0.2 5.2 0.2 -1.5 0.1 -4.6 0.2 6.3 0.2 -7.3 0.1 0.3 0.2 3.7 0.2 9.1 0.1 -12.7 0.2 -1.3 0.2 1.7 0.1 11.5 0.2 -3.1 0.2 4.3 0.1 -6.5 0.2 -0.8 0.2 7.8 0.1 -7.2 0.2 -3.2 0.2 -0.6 0.1 0.3 0.2 5.4" fill="none" stroke="#0000f0" stroke-width="2.4" stroke-linejoin="round"/>
</g>
<line x1="314.7" y1="220.5" x2="525.5" y2="220.5" stroke="#1e8c1e" stroke-width="2.5" stroke-dasharray="6.6,4.6"/>
<line x1="314.7" y1="236.4" x2="525.5" y2="236.4" stroke="#1e8c1e" stroke-width="2.5" stroke-dasharray="6.6,4.6"/>
<g fill="#1e8c1e" stroke="#1e8c1e">
<line x1="502" y1="197.4" x2="502" y2="209" stroke-width="2"/>
<polygon points="499.4,207.8 504.6,207.8 502,218.2" stroke="none"/>
<line x1="502" y1="262.5" x2="502" y2="249" stroke-width="2"/>
<polygon points="499.4,250.2 504.6,250.2 502,239.2" stroke="none"/>
</g>
<rect x="452.2" y="265.5" width="64.5" height="18" fill="#f98015"/>
<text x="485.4" y="279.2" font-size="11.5" text-anchor="middle" font-weight="bold" fill="#2f7a10">1σ ~ 0.8 μV</text>
<rect x="400" y="300.3" width="116.7" height="17.2" rx="1.5" fill="#f98015"/>
<text x="457" y="312.8" font-size="9.2" text-anchor="middle" fill="#2f7a10" letter-spacing="0.1">LOD[OH] ~ 1.6 × 10<tspan font-size="5.5" dy="-3.3">5</tspan><tspan dy="3.3"> cm</tspan><tspan font-size="5.5" dy="-3.3">-3</tspan></text>
<rect x="81.5" y="29.5" width="210.0" height="350.0" fill="none" stroke="#000" stroke-width="1.1"/>
<rect x="315.5" y="28.5" width="210.0" height="350.0" fill="none" stroke="#000" stroke-width="1.1"/>
<line x1="79.7" y1="375.5" x2="81.5" y2="375.5" stroke="#000" stroke-width="1.0"/>
<line x1="291.5" y1="375.5" x2="289.3" y2="375.5" stroke="#000" stroke-width="1.0"/>
<line x1="79.7" y1="370.5" x2="81.5" y2="370.5" stroke="#000" stroke-width="1.0"/>
<line x1="291.5" y1="370.5" x2="289.3" y2="370.5" stroke="#000" stroke-width="1.0"/>
<line x1="77" y1="364.5" x2="81.5" y2="364.5" stroke="#000" stroke-width="1.0"/>
<line x1="291.5" y1="364.5" x2="287" y2="364.5" stroke="#000" stroke-width="1.0"/>
<text x="73.5" y="366.85" font-size="9.3" text-anchor="end" font-weight="normal" fill="#000" letter-spacing="0.2" stroke="#000" stroke-width="0.2">-0.07</text>
<line x1="79.7" y1="358.5" x2="81.5" y2="358.5" stroke="#000" stroke-width="1.0"/>
<line x1="291.5" y1="358.5" x2="289.3" y2="358.5" stroke="#000" stroke-width="1.0"/>
<line x1="79.7" y1="352.5" x2="81.5" y2="352.5" stroke="#000" stroke-width="1.0"/>
<line x1="291.5" y1="352.5" x2="289.3" y2="352.5" stroke="#000" stroke-width="1.0"/>
<line x1="79.7" y1="347.5" x2="81.5" y2="347.5" stroke="#000" stroke-width="1.0"/>
<line x1="291.5" y1="347.5" x2="289.3" y2="347.5" stroke="#000" stroke-width="1.0"/>
<line x1="79.7" y1="341.5" x2="81.5" y2="341.5" stroke="#000" stroke-width="1.0"/>
<line x1="291.5" y1="341.5" x2="289.3" y2="341.5" stroke="#000" stroke-width="1.0"/>
<line x1="77" y1="335.5" x2="81.5" y2="335.5" stroke="#000" stroke-width="1.0"/>
<line x1="291.5" y1="335.5" x2="287" y2="335.5" stroke="#000" stroke-width="1.0"/>
<text x="73.5" y="338" font-size="9.3" text-anchor="end" font-weight="normal" fill="#000" letter-spacing="0.2" stroke="#000" stroke-width="0.2">-0.06</text>
<line x1="79.7" y1="329.5" x2="81.5" y2="329.5" stroke="#000" stroke-width="1.0"/>
<line x1="291.5" y1="329.5" x2="289.3" y2="329.5" stroke="#000" stroke-width="1.0"/>
<line x1="79.7" y1="324.5" x2="81.5" y2="324.5" stroke="#000" stroke-width="1.0"/>
<line x1="291.5" y1="324.5" x2="289.3" y2="324.5" stroke="#000" stroke-width="1.0"/>
<line x1="79.7" y1="318.5" x2="81.5" y2="318.5" stroke="#000" stroke-width="1.0"/>
<line x1="291.5" y1="318.5" x2="289.3" y2="318.5" stroke="#000" stroke-width="1.0"/>
<line x1="79.7" y1="312.5" x2="81.5" y2="312.5" stroke="#000" stroke-width="1.0"/>
<line x1="291.5" y1="312.5" x2="289.3" y2="312.5" stroke="#000" stroke-width="1.0"/>
<line x1="77" y1="306.5" x2="81.5" y2="306.5" stroke="#000" stroke-width="1.0"/>
<line x1="291.5" y1="306.5" x2="287" y2="306.5" stroke="#000" stroke-width="1.0"/>
<text x="73.5" y="309.15" font-size="9.3" text-anchor="end" font-weight="normal" fill="#000" letter-spacing="0.2" stroke="#000" stroke-width="0.2">-0.05</text>
<line x1="79.7" y1="300.5" x2="81.5" y2="300.5" stroke="#000" stroke-width="1.0"/>
<line x1="291.5" y1="300.5" x2="289.3" y2="300.5" stroke="#000" stroke-width="1.0"/>
<line x1="79.7" y1="295.5" x2="81.5" y2="295.5" stroke="#000" stroke-width="1.0"/>
<line x1="291.5" y1="295.5" x2="289.3" y2="295.5" stroke="#000" stroke-width="1.0"/>
<line x1="79.7" y1="289.5" x2="81.5" y2="289.5" stroke="#000" stroke-width="1.0"/>
<line x1="291.5" y1="289.5" x2="289.3" y2="289.5" stroke="#000" stroke-width="1.0"/>
<line x1="79.7" y1="283.5" x2="81.5" y2="283.5" stroke="#000" stroke-width="1.0"/>
<line x1="291.5" y1="283.5" x2="289.3" y2="283.5" stroke="#000" stroke-width="1.0"/>
<line x1="77" y1="277.5" x2="81.5" y2="277.5" stroke="#000" stroke-width="1.0"/>
<line x1="291.5" y1="277.5" x2="287" y2="277.5" stroke="#000" stroke-width="1.0"/>
<text x="73.5" y="280.3" font-size="9.3" text-anchor="end" font-weight="normal" fill="#000" letter-spacing="0.2" stroke="#000" stroke-width="0.2">-0.04</text>
<line x1="79.7" y1="272.5" x2="81.5" y2="272.5" stroke="#000" stroke-width="1.0"/>
<line x1="291.5" y1="272.5" x2="289.3" y2="272.5" stroke="#000" stroke-width="1.0"/>
<line x1="79.7" y1="266.5" x2="81.5" y2="266.5" stroke="#000" stroke-width="1.0"/>
<line x1="291.5" y1="266.5" x2="289.3" y2="266.5" stroke="#000" stroke-width="1.0"/>
<line x1="79.7" y1="260.5" x2="81.5" y2="260.5" stroke="#000" stroke-width="1.0"/>
<line x1="291.5" y1="260.5" x2="289.3" y2="260.5" stroke="#000" stroke-width="1.0"/>
<line x1="79.7" y1="254.5" x2="81.5" y2="254.5" stroke="#000" stroke-width="1.0"/>
<line x1="291.5" y1="254.5" x2="289.3" y2="254.5" stroke="#000" stroke-width="1.0"/>
<line x1="77" y1="249.5" x2="81.5" y2="249.5" stroke="#000" stroke-width="1.0"/>
<line x1="291.5" y1="249.5" x2="287" y2="249.5" stroke="#000" stroke-width="1.0"/>
<text x="73.5" y="251.45" font-size="9.3" text-anchor="end" font-weight="normal" fill="#000" letter-spacing="0.2" stroke="#000" stroke-width="0.2">-0.03</text>
<line x1="79.7" y1="243.5" x2="81.5" y2="243.5" stroke="#000" stroke-width="1.0"/>
<line x1="291.5" y1="243.5" x2="289.3" y2="243.5" stroke="#000" stroke-width="1.0"/>
<line x1="79.7" y1="237.5" x2="81.5" y2="237.5" stroke="#000" stroke-width="1.0"/>
<line x1="291.5" y1="237.5" x2="289.3" y2="237.5" stroke="#000" stroke-width="1.0"/>
<line x1="79.7" y1="231.5" x2="81.5" y2="231.5" stroke="#000" stroke-width="1.0"/>
<line x1="291.5" y1="231.5" x2="289.3" y2="231.5" stroke="#000" stroke-width="1.0"/>
<line x1="79.7" y1="225.5" x2="81.5" y2="225.5" stroke="#000" stroke-width="1.0"/>
<line x1="291.5" y1="225.5" x2="289.3" y2="225.5" stroke="#000" stroke-width="1.0"/>
<line x1="77" y1="220.5" x2="81.5" y2="220.5" stroke="#000" stroke-width="1.0"/>
<line x1="291.5" y1="220.5" x2="287" y2="220.5" stroke="#000" stroke-width="1.0"/>
<text x="73.5" y="222.6" font-size="9.3" text-anchor="end" font-weight="normal" fill="#000" letter-spacing="0.2" stroke="#000" stroke-width="0.2">-0.02</text>
<line x1="79.7" y1="214.5" x2="81.5" y2="214.5" stroke="#000" stroke-width="1.0"/>
<line x1="291.5" y1="214.5" x2="289.3" y2="214.5" stroke="#000" stroke-width="1.0"/>
<line x1="79.7" y1="208.5" x2="81.5" y2="208.5" stroke="#000" stroke-width="1.0"/>
<line x1="291.5" y1="208.5" x2="289.3" y2="208.5" stroke="#000" stroke-width="1.0"/>
<line x1="79.7" y1="202.5" x2="81.5" y2="202.5" stroke="#000" stroke-width="1.0"/>
<line x1="291.5" y1="202.5" x2="289.3" y2="202.5" stroke="#000" stroke-width="1.0"/>
<line x1="79.7" y1="197.5" x2="81.5" y2="197.5" stroke="#000" stroke-width="1.0"/>
<line x1="291.5" y1="197.5" x2="289.3" y2="197.5" stroke="#000" stroke-width="1.0"/>
<line x1="77" y1="191.5" x2="81.5" y2="191.5" stroke="#000" stroke-width="1.0"/>
<line x1="291.5" y1="191.5" x2="287" y2="191.5" stroke="#000" stroke-width="1.0"/>
<text x="73.5" y="193.75" font-size="9.3" text-anchor="end" font-weight="normal" fill="#000" letter-spacing="0.2" stroke="#000" stroke-width="0.2">-0.01</text>
<line x1="79.7" y1="185.5" x2="81.5" y2="185.5" stroke="#000" stroke-width="1.0"/>
<line x1="291.5" y1="185.5" x2="289.3" y2="185.5" stroke="#000" stroke-width="1.0"/>
<line x1="79.7" y1="179.5" x2="81.5" y2="179.5" stroke="#000" stroke-width="1.0"/>
<line x1="291.5" y1="179.5" x2="289.3" y2="179.5" stroke="#000" stroke-width="1.0"/>
<line x1="79.7" y1="174.5" x2="81.5" y2="174.5" stroke="#000" stroke-width="1.0"/>
<line x1="291.5" y1="174.5" x2="289.3" y2="174.5" stroke="#000" stroke-width="1.0"/>
<line x1="79.7" y1="168.5" x2="81.5" y2="168.5" stroke="#000" stroke-width="1.0"/>
<line x1="291.5" y1="168.5" x2="289.3" y2="168.5" stroke="#000" stroke-width="1.0"/>
<line x1="77" y1="162.5" x2="81.5" y2="162.5" stroke="#000" stroke-width="1.0"/>
<line x1="291.5" y1="162.5" x2="287" y2="162.5" stroke="#000" stroke-width="1.0"/>
<text x="73.5" y="164.9" font-size="9.3" text-anchor="end" font-weight="normal" fill="#000" letter-spacing="0.2" stroke="#000" stroke-width="0.2">0.00</text>
<line x1="79.7" y1="156.5" x2="81.5" y2="156.5" stroke="#000" stroke-width="1.0"/>
<line x1="291.5" y1="156.5" x2="289.3" y2="156.5" stroke="#000" stroke-width="1.0"/>
<line x1="79.7" y1="150.5" x2="81.5" y2="150.5" stroke="#000" stroke-width="1.0"/>
<line x1="291.5" y1="150.5" x2="289.3" y2="150.5" stroke="#000" stroke-width="1.0"/>
<line x1="79.7" y1="145.5" x2="81.5" y2="145.5" stroke="#000" stroke-width="1.0"/>
<line x1="291.5" y1="145.5" x2="289.3" y2="145.5" stroke="#000" stroke-width="1.0"/>
<line x1="79.7" y1="139.5" x2="81.5" y2="139.5" stroke="#000" stroke-width="1.0"/>
<line x1="291.5" y1="139.5" x2="289.3" y2="139.5" stroke="#000" stroke-width="1.0"/>
<line x1="77" y1="133.5" x2="81.5" y2="133.5" stroke="#000" stroke-width="1.0"/>
<line x1="291.5" y1="133.5" x2="287" y2="133.5" stroke="#000" stroke-width="1.0"/>
<text x="73.5" y="136.05" font-size="9.3" text-anchor="end" font-weight="normal" fill="#000" letter-spacing="0.2" stroke="#000" stroke-width="0.2">0.01</text>
<line x1="79.7" y1="127.5" x2="81.5" y2="127.5" stroke="#000" stroke-width="1.0"/>
<line x1="291.5" y1="127.5" x2="289.3" y2="127.5" stroke="#000" stroke-width="1.0"/>
<line x1="79.7" y1="122.5" x2="81.5" y2="122.5" stroke="#000" stroke-width="1.0"/>
<line x1="291.5" y1="122.5" x2="289.3" y2="122.5" stroke="#000" stroke-width="1.0"/>
<line x1="79.7" y1="116.5" x2="81.5" y2="116.5" stroke="#000" stroke-width="1.0"/>
<line x1="291.5" y1="116.5" x2="289.3" y2="116.5" stroke="#000" stroke-width="1.0"/>
<line x1="79.7" y1="110.5" x2="81.5" y2="110.5" stroke="#000" stroke-width="1.0"/>
<line x1="291.5" y1="110.5" x2="289.3" y2="110.5" stroke="#000" stroke-width="1.0"/>
<line x1="77" y1="104.5" x2="81.5" y2="104.5" stroke="#000" stroke-width="1.0"/>
<line x1="291.5" y1="104.5" x2="287" y2="104.5" stroke="#000" stroke-width="1.0"/>
<text x="73.5" y="107.2" font-size="9.3" text-anchor="end" font-weight="normal" fill="#000" letter-spacing="0.2" stroke="#000" stroke-width="0.2">0.02</text>
<line x1="79.7" y1="99.5" x2="81.5" y2="99.5" stroke="#000" stroke-width="1.0"/>
<line x1="291.5" y1="99.5" x2="289.3" y2="99.5" stroke="#000" stroke-width="1.0"/>
<line x1="79.7" y1="93.5" x2="81.5" y2="93.5" stroke="#000" stroke-width="1.0"/>
<line x1="291.5" y1="93.5" x2="289.3" y2="93.5" stroke="#000" stroke-width="1.0"/>
<line x1="79.7" y1="87.5" x2="81.5" y2="87.5" stroke="#000" stroke-width="1.0"/>
<line x1="291.5" y1="87.5" x2="289.3" y2="87.5" stroke="#000" stroke-width="1.0"/>
<line x1="79.7" y1="81.5" x2="81.5" y2="81.5" stroke="#000" stroke-width="1.0"/>
<line x1="291.5" y1="81.5" x2="289.3" y2="81.5" stroke="#000" stroke-width="1.0"/>
<line x1="77" y1="75.5" x2="81.5" y2="75.5" stroke="#000" stroke-width="1.0"/>
<line x1="291.5" y1="75.5" x2="287" y2="75.5" stroke="#000" stroke-width="1.0"/>
<text x="73.5" y="78.35" font-size="9.3" text-anchor="end" font-weight="normal" fill="#000" letter-spacing="0.2" stroke="#000" stroke-width="0.2">0.03</text>
<line x1="79.7" y1="70.5" x2="81.5" y2="70.5" stroke="#000" stroke-width="1.0"/>
<line x1="291.5" y1="70.5" x2="289.3" y2="70.5" stroke="#000" stroke-width="1.0"/>
<line x1="79.7" y1="64.5" x2="81.5" y2="64.5" stroke="#000" stroke-width="1.0"/>
<line x1="291.5" y1="64.5" x2="289.3" y2="64.5" stroke="#000" stroke-width="1.0"/>
<line x1="79.7" y1="58.5" x2="81.5" y2="58.5" stroke="#000" stroke-width="1.0"/>
<line x1="291.5" y1="58.5" x2="289.3" y2="58.5" stroke="#000" stroke-width="1.0"/>
<line x1="79.7" y1="52.5" x2="81.5" y2="52.5" stroke="#000" stroke-width="1.0"/>
<line x1="291.5" y1="52.5" x2="289.3" y2="52.5" stroke="#000" stroke-width="1.0"/>
<line x1="77" y1="47.5" x2="81.5" y2="47.5" stroke="#000" stroke-width="1.0"/>
<line x1="291.5" y1="47.5" x2="287" y2="47.5" stroke="#000" stroke-width="1.0"/>
<text x="73.5" y="49.5" font-size="9.3" text-anchor="end" font-weight="normal" fill="#000" letter-spacing="0.2" stroke="#000" stroke-width="0.2">0.04</text>
<line x1="79.7" y1="41.5" x2="81.5" y2="41.5" stroke="#000" stroke-width="1.0"/>
<line x1="291.5" y1="41.5" x2="289.3" y2="41.5" stroke="#000" stroke-width="1.0"/>
<line x1="79.7" y1="35.5" x2="81.5" y2="35.5" stroke="#000" stroke-width="1.0"/>
<line x1="291.5" y1="35.5" x2="289.3" y2="35.5" stroke="#000" stroke-width="1.0"/>
<line x1="79.7" y1="29.5" x2="81.5" y2="29.5" stroke="#000" stroke-width="1.0"/>
<line x1="291.5" y1="29.5" x2="289.3" y2="29.5" stroke="#000" stroke-width="1.0"/>
<line x1="81.5" y1="379.5" x2="81.5" y2="382.9" stroke="#000" stroke-width="1.0"/>
<text x="81.3" y="393.7" font-size="9.3" text-anchor="middle" font-weight="normal" fill="#000" letter-spacing="-0.1" stroke="#000" stroke-width="0.2">0</text>
<line x1="89.5" y1="379.5" x2="89.5" y2="381.3" stroke="#000" stroke-width="1.0"/>
<line x1="98.5" y1="379.5" x2="98.5" y2="381.3" stroke="#000" stroke-width="1.0"/>
<line x1="106.5" y1="379.5" x2="106.5" y2="381.3" stroke="#000" stroke-width="1.0"/>
<line x1="115.5" y1="379.5" x2="115.5" y2="381.3" stroke="#000" stroke-width="1.0"/>
<line x1="123.5" y1="379.5" x2="123.5" y2="382.9" stroke="#000" stroke-width="1.0"/>
<text x="123.3" y="393.7" font-size="9.3" text-anchor="middle" font-weight="normal" fill="#000" letter-spacing="-0.1" stroke="#000" stroke-width="0.2">1000</text>
<line x1="131.5" y1="379.5" x2="131.5" y2="381.3" stroke="#000" stroke-width="1.0"/>
<line x1="140.5" y1="379.5" x2="140.5" y2="381.3" stroke="#000" stroke-width="1.0"/>
<line x1="148.5" y1="379.5" x2="148.5" y2="381.3" stroke="#000" stroke-width="1.0"/>
<line x1="157.5" y1="379.5" x2="157.5" y2="381.3" stroke="#000" stroke-width="1.0"/>
<line x1="165.5" y1="379.5" x2="165.5" y2="382.9" stroke="#000" stroke-width="1.0"/>
<text x="165.3" y="393.7" font-size="9.3" text-anchor="middle" font-weight="normal" fill="#000" letter-spacing="-0.1" stroke="#000" stroke-width="0.2">2000</text>
<line x1="173.5" y1="379.5" x2="173.5" y2="381.3" stroke="#000" stroke-width="1.0"/>
<line x1="182.5" y1="379.5" x2="182.5" y2="381.3" stroke="#000" stroke-width="1.0"/>
<line x1="190.5" y1="379.5" x2="190.5" y2="381.3" stroke="#000" stroke-width="1.0"/>
<line x1="199.5" y1="379.5" x2="199.5" y2="381.3" stroke="#000" stroke-width="1.0"/>
<line x1="207.5" y1="379.5" x2="207.5" y2="382.9" stroke="#000" stroke-width="1.0"/>
<text x="207.3" y="393.7" font-size="9.3" text-anchor="middle" font-weight="normal" fill="#000" letter-spacing="-0.1" stroke="#000" stroke-width="0.2">3000</text>
<line x1="215.5" y1="379.5" x2="215.5" y2="381.3" stroke="#000" stroke-width="1.0"/>
<line x1="224.5" y1="379.5" x2="224.5" y2="381.3" stroke="#000" stroke-width="1.0"/>
<line x1="232.5" y1="379.5" x2="232.5" y2="381.3" stroke="#000" stroke-width="1.0"/>
<line x1="241.5" y1="379.5" x2="241.5" y2="381.3" stroke="#000" stroke-width="1.0"/>
<line x1="249.5" y1="379.5" x2="249.5" y2="382.9" stroke="#000" stroke-width="1.0"/>
<text x="249.3" y="393.7" font-size="9.3" text-anchor="middle" font-weight="normal" fill="#000" letter-spacing="-0.1" stroke="#000" stroke-width="0.2">4000</text>
<line x1="257.5" y1="379.5" x2="257.5" y2="381.3" stroke="#000" stroke-width="1.0"/>
<line x1="266.5" y1="379.5" x2="266.5" y2="381.3" stroke="#000" stroke-width="1.0"/>
<line x1="274.5" y1="379.5" x2="274.5" y2="381.3" stroke="#000" stroke-width="1.0"/>
<line x1="283.5" y1="379.5" x2="283.5" y2="381.3" stroke="#000" stroke-width="1.0"/>
<line x1="291.5" y1="379.5" x2="291.5" y2="382.9" stroke="#000" stroke-width="1.0"/>
<text x="291.3" y="393.7" font-size="9.3" text-anchor="middle" font-weight="normal" fill="#000" letter-spacing="-0.1" stroke="#000" stroke-width="0.2">5000</text>
<line x1="311" y1="378.5" x2="315.5" y2="378.5" stroke="#000" stroke-width="1.0"/>
<line x1="525.5" y1="378.5" x2="521" y2="378.5" stroke="#000" stroke-width="1.0"/>
<text x="529.7" y="380.8" font-size="9.3" text-anchor="start" font-weight="normal" fill="#000" letter-spacing="0.3" stroke="#000" stroke-width="0.2">-0.015</text>
<line x1="313.7" y1="368.5" x2="315.5" y2="368.5" stroke="#000" stroke-width="1.0"/>
<line x1="525.5" y1="368.5" x2="523.3" y2="368.5" stroke="#000" stroke-width="1.0"/>
<line x1="313.7" y1="358.5" x2="315.5" y2="358.5" stroke="#000" stroke-width="1.0"/>
<line x1="525.5" y1="358.5" x2="523.3" y2="358.5" stroke="#000" stroke-width="1.0"/>
<line x1="313.7" y1="348.5" x2="315.5" y2="348.5" stroke="#000" stroke-width="1.0"/>
<line x1="525.5" y1="348.5" x2="523.3" y2="348.5" stroke="#000" stroke-width="1.0"/>
<line x1="313.7" y1="338.5" x2="315.5" y2="338.5" stroke="#000" stroke-width="1.0"/>
<line x1="525.5" y1="338.5" x2="523.3" y2="338.5" stroke="#000" stroke-width="1.0"/>
<line x1="311" y1="328.5" x2="315.5" y2="328.5" stroke="#000" stroke-width="1.0"/>
<line x1="525.5" y1="328.5" x2="521" y2="328.5" stroke="#000" stroke-width="1.0"/>
<text x="529.7" y="330.8" font-size="9.3" text-anchor="start" font-weight="normal" fill="#000" letter-spacing="0.3" stroke="#000" stroke-width="0.2">-0.010</text>
<line x1="313.7" y1="318.5" x2="315.5" y2="318.5" stroke="#000" stroke-width="1.0"/>
<line x1="525.5" y1="318.5" x2="523.3" y2="318.5" stroke="#000" stroke-width="1.0"/>
<line x1="313.7" y1="308.5" x2="315.5" y2="308.5" stroke="#000" stroke-width="1.0"/>
<line x1="525.5" y1="308.5" x2="523.3" y2="308.5" stroke="#000" stroke-width="1.0"/>
<line x1="313.7" y1="298.5" x2="315.5" y2="298.5" stroke="#000" stroke-width="1.0"/>
<line x1="525.5" y1="298.5" x2="523.3" y2="298.5" stroke="#000" stroke-width="1.0"/>
<line x1="313.7" y1="288.5" x2="315.5" y2="288.5" stroke="#000" stroke-width="1.0"/>
<line x1="525.5" y1="288.5" x2="523.3" y2="288.5" stroke="#000" stroke-width="1.0"/>
<line x1="311" y1="278.5" x2="315.5" y2="278.5" stroke="#000" stroke-width="1.0"/>
<line x1="525.5" y1="278.5" x2="521" y2="278.5" stroke="#000" stroke-width="1.0"/>
<text x="529.7" y="280.8" font-size="9.3" text-anchor="start" font-weight="normal" fill="#000" letter-spacing="0.3" stroke="#000" stroke-width="0.2">-0.005</text>
<line x1="313.7" y1="268.5" x2="315.5" y2="268.5" stroke="#000" stroke-width="1.0"/>
<line x1="525.5" y1="268.5" x2="523.3" y2="268.5" stroke="#000" stroke-width="1.0"/>
<line x1="313.7" y1="258.5" x2="315.5" y2="258.5" stroke="#000" stroke-width="1.0"/>
<line x1="525.5" y1="258.5" x2="523.3" y2="258.5" stroke="#000" stroke-width="1.0"/>
<line x1="313.7" y1="248.5" x2="315.5" y2="248.5" stroke="#000" stroke-width="1.0"/>
<line x1="525.5" y1="248.5" x2="523.3" y2="248.5" stroke="#000" stroke-width="1.0"/>
<line x1="313.7" y1="238.5" x2="315.5" y2="238.5" stroke="#000" stroke-width="1.0"/>
<line x1="525.5" y1="238.5" x2="523.3" y2="238.5" stroke="#000" stroke-width="1.0"/>
<line x1="311" y1="228.5" x2="315.5" y2="228.5" stroke="#000" stroke-width="1.0"/>
<line x1="525.5" y1="228.5" x2="521" y2="228.5" stroke="#000" stroke-width="1.0"/>
<text x="529.7" y="230.8" font-size="9.3" text-anchor="start" font-weight="normal" fill="#000" letter-spacing="0.3" stroke="#000" stroke-width="0.2">0.000</text>
<line x1="313.7" y1="218.5" x2="315.5" y2="218.5" stroke="#000" stroke-width="1.0"/>
<line x1="525.5" y1="218.5" x2="523.3" y2="218.5" stroke="#000" stroke-width="1.0"/>
<line x1="313.7" y1="208.5" x2="315.5" y2="208.5" stroke="#000" stroke-width="1.0"/>
<line x1="525.5" y1="208.5" x2="523.3" y2="208.5" stroke="#000" stroke-width="1.0"/>
<line x1="313.7" y1="198.5" x2="315.5" y2="198.5" stroke="#000" stroke-width="1.0"/>
<line x1="525.5" y1="198.5" x2="523.3" y2="198.5" stroke="#000" stroke-width="1.0"/>
<line x1="313.7" y1="188.5" x2="315.5" y2="188.5" stroke="#000" stroke-width="1.0"/>
<line x1="525.5" y1="188.5" x2="523.3" y2="188.5" stroke="#000" stroke-width="1.0"/>
<line x1="311" y1="178.5" x2="315.5" y2="178.5" stroke="#000" stroke-width="1.0"/>
<line x1="525.5" y1="178.5" x2="521" y2="178.5" stroke="#000" stroke-width="1.0"/>
<text x="529.7" y="180.8" font-size="9.3" text-anchor="start" font-weight="normal" fill="#000" letter-spacing="0.3" stroke="#000" stroke-width="0.2">0.005</text>
<line x1="313.7" y1="168.5" x2="315.5" y2="168.5" stroke="#000" stroke-width="1.0"/>
<line x1="525.5" y1="168.5" x2="523.3" y2="168.5" stroke="#000" stroke-width="1.0"/>
<line x1="313.7" y1="158.5" x2="315.5" y2="158.5" stroke="#000" stroke-width="1.0"/>
<line x1="525.5" y1="158.5" x2="523.3" y2="158.5" stroke="#000" stroke-width="1.0"/>
<line x1="313.7" y1="148.5" x2="315.5" y2="148.5" stroke="#000" stroke-width="1.0"/>
<line x1="525.5" y1="148.5" x2="523.3" y2="148.5" stroke="#000" stroke-width="1.0"/>
<line x1="313.7" y1="138.5" x2="315.5" y2="138.5" stroke="#000" stroke-width="1.0"/>
<line x1="525.5" y1="138.5" x2="523.3" y2="138.5" stroke="#000" stroke-width="1.0"/>
<line x1="311" y1="128.5" x2="315.5" y2="128.5" stroke="#000" stroke-width="1.0"/>
<line x1="525.5" y1="128.5" x2="521" y2="128.5" stroke="#000" stroke-width="1.0"/>
<text x="529.7" y="130.8" font-size="9.3" text-anchor="start" font-weight="normal" fill="#000" letter-spacing="0.3" stroke="#000" stroke-width="0.2">0.010</text>
<line x1="313.7" y1="118.5" x2="315.5" y2="118.5" stroke="#000" stroke-width="1.0"/>
<line x1="525.5" y1="118.5" x2="523.3" y2="118.5" stroke="#000" stroke-width="1.0"/>
<line x1="313.7" y1="108.5" x2="315.5" y2="108.5" stroke="#000" stroke-width="1.0"/>
<line x1="525.5" y1="108.5" x2="523.3" y2="108.5" stroke="#000" stroke-width="1.0"/>
<line x1="313.7" y1="98.5" x2="315.5" y2="98.5" stroke="#000" stroke-width="1.0"/>
<line x1="525.5" y1="98.5" x2="523.3" y2="98.5" stroke="#000" stroke-width="1.0"/>
<line x1="313.7" y1="88.5" x2="315.5" y2="88.5" stroke="#000" stroke-width="1.0"/>
<line x1="525.5" y1="88.5" x2="523.3" y2="88.5" stroke="#000" stroke-width="1.0"/>
<line x1="311" y1="78.5" x2="315.5" y2="78.5" stroke="#000" stroke-width="1.0"/>
<line x1="525.5" y1="78.5" x2="521" y2="78.5" stroke="#000" stroke-width="1.0"/>
<text x="529.7" y="80.8" font-size="9.3" text-anchor="start" font-weight="normal" fill="#000" letter-spacing="0.3" stroke="#000" stroke-width="0.2">0.015</text>
<line x1="313.7" y1="68.5" x2="315.5" y2="68.5" stroke="#000" stroke-width="1.0"/>
<line x1="525.5" y1="68.5" x2="523.3" y2="68.5" stroke="#000" stroke-width="1.0"/>
<line x1="313.7" y1="58.5" x2="315.5" y2="58.5" stroke="#000" stroke-width="1.0"/>
<line x1="525.5" y1="58.5" x2="523.3" y2="58.5" stroke="#000" stroke-width="1.0"/>
<line x1="313.7" y1="48.5" x2="315.5" y2="48.5" stroke="#000" stroke-width="1.0"/>
<line x1="525.5" y1="48.5" x2="523.3" y2="48.5" stroke="#000" stroke-width="1.0"/>
<line x1="313.7" y1="38.5" x2="315.5" y2="38.5" stroke="#000" stroke-width="1.0"/>
<line x1="525.5" y1="38.5" x2="523.3" y2="38.5" stroke="#000" stroke-width="1.0"/>
<line x1="311" y1="28.5" x2="315.5" y2="28.5" stroke="#000" stroke-width="1.0"/>
<line x1="525.5" y1="28.5" x2="521" y2="28.5" stroke="#000" stroke-width="1.0"/>
<text x="529.7" y="30.8" font-size="9.3" text-anchor="start" font-weight="normal" fill="#000" letter-spacing="0.3" stroke="#000" stroke-width="0.2">0.020</text>
<line x1="315.5" y1="378.5" x2="315.5" y2="381.9" stroke="#000" stroke-width="1.0"/>
<text x="315.3" y="392.7" font-size="9.3" text-anchor="middle" font-weight="normal" fill="#000" letter-spacing="-0.1" stroke="#000" stroke-width="0.2">0</text>
<line x1="323.5" y1="378.5" x2="323.5" y2="380.3" stroke="#000" stroke-width="1.0"/>
<line x1="332.5" y1="378.5" x2="332.5" y2="380.3" stroke="#000" stroke-width="1.0"/>
<line x1="340.5" y1="378.5" x2="340.5" y2="380.3" stroke="#000" stroke-width="1.0"/>
<line x1="349.5" y1="378.5" x2="349.5" y2="380.3" stroke="#000" stroke-width="1.0"/>
<line x1="357.5" y1="378.5" x2="357.5" y2="381.9" stroke="#000" stroke-width="1.0"/>
<text x="357.3" y="392.7" font-size="9.3" text-anchor="middle" font-weight="normal" fill="#000" letter-spacing="-0.1" stroke="#000" stroke-width="0.2">1000</text>
<line x1="365.5" y1="378.5" x2="365.5" y2="380.3" stroke="#000" stroke-width="1.0"/>
<line x1="374.5" y1="378.5" x2="374.5" y2="380.3" stroke="#000" stroke-width="1.0"/>
<line x1="382.5" y1="378.5" x2="382.5" y2="380.3" stroke="#000" stroke-width="1.0"/>
<line x1="391.5" y1="378.5" x2="391.5" y2="380.3" stroke="#000" stroke-width="1.0"/>
<line x1="399.5" y1="378.5" x2="399.5" y2="381.9" stroke="#000" stroke-width="1.0"/>
<text x="399.3" y="392.7" font-size="9.3" text-anchor="middle" font-weight="normal" fill="#000" letter-spacing="-0.1" stroke="#000" stroke-width="0.2">2000</text>
<line x1="407.5" y1="378.5" x2="407.5" y2="380.3" stroke="#000" stroke-width="1.0"/>
<line x1="416.5" y1="378.5" x2="416.5" y2="380.3" stroke="#000" stroke-width="1.0"/>
<line x1="424.5" y1="378.5" x2="424.5" y2="380.3" stroke="#000" stroke-width="1.0"/>
<line x1="433.5" y1="378.5" x2="433.5" y2="380.3" stroke="#000" stroke-width="1.0"/>
<line x1="441.5" y1="378.5" x2="441.5" y2="381.9" stroke="#000" stroke-width="1.0"/>
<text x="441.3" y="392.7" font-size="9.3" text-anchor="middle" font-weight="normal" fill="#000" letter-spacing="-0.1" stroke="#000" stroke-width="0.2">3000</text>
<line x1="449.5" y1="378.5" x2="449.5" y2="380.3" stroke="#000" stroke-width="1.0"/>
<line x1="458.5" y1="378.5" x2="458.5" y2="380.3" stroke="#000" stroke-width="1.0"/>
<line x1="466.5" y1="378.5" x2="466.5" y2="380.3" stroke="#000" stroke-width="1.0"/>
<line x1="475.5" y1="378.5" x2="475.5" y2="380.3" stroke="#000" stroke-width="1.0"/>
<line x1="483.5" y1="378.5" x2="483.5" y2="381.9" stroke="#000" stroke-width="1.0"/>
<text x="483.3" y="392.7" font-size="9.3" text-anchor="middle" font-weight="normal" fill="#000" letter-spacing="-0.1" stroke="#000" stroke-width="0.2">4000</text>
<line x1="491.5" y1="378.5" x2="491.5" y2="380.3" stroke="#000" stroke-width="1.0"/>
<line x1="500.5" y1="378.5" x2="500.5" y2="380.3" stroke="#000" stroke-width="1.0"/>
<line x1="508.5" y1="378.5" x2="508.5" y2="380.3" stroke="#000" stroke-width="1.0"/>
<line x1="517.5" y1="378.5" x2="517.5" y2="380.3" stroke="#000" stroke-width="1.0"/>
<line x1="525.5" y1="378.5" x2="525.5" y2="381.9" stroke="#000" stroke-width="1.0"/>
<text x="525.3" y="392.7" font-size="9.3" text-anchor="middle" font-weight="normal" fill="#000" letter-spacing="-0.1" stroke="#000" stroke-width="0.2">5000</text>
<text x="186" y="412.8" font-size="12" text-anchor="middle" font-weight="bold" fill="#000">Datapoints</text>
<text x="419.5" y="412.3" font-size="12" text-anchor="middle" font-weight="bold" fill="#000">Datapoints</text>
<text x="0" y="0" font-size="12" font-weight="bold" text-anchor="middle" transform="translate(36.3,213.9) rotate(-90)">FRS signal (mV)</text>
<text x="0" y="0" font-size="12" font-weight="bold" text-anchor="middle" transform="translate(571.4,198.5) rotate(-90)">FRS signal (mV)</text>
<text x="87.7" y="46.3" font-size="15.5" text-anchor="start" font-weight="bold" fill="#000" letter-spacing="0.9">(a)</text>
<text x="316.6" y="45.8" font-size="15.5" text-anchor="start" font-weight="bold" fill="#000" letter-spacing="0.9">(b)</text>
<line x1="83" y1="286.5" x2="110" y2="286.5" stroke="#1818c8" stroke-width="1.0"/>
<text x="112.5" y="289.8" font-size="9.4" text-anchor="start" font-weight="normal" fill="#000" letter-spacing="0.45" stroke="#000" stroke-width="0.2">Lamp on 72 s</text>
<line x1="83" y1="300.5" x2="110" y2="300.5" stroke="#e020e0" stroke-width="1.0"/>
<text x="112.5" y="304.2" font-size="9.4" text-anchor="start" font-weight="normal" fill="#000" letter-spacing="0.45" stroke="#000" stroke-width="0.2">Lamp on 80 s</text>
<line x1="83" y1="315.5" x2="110" y2="315.5" stroke="#108010" stroke-width="1.0"/>
<text x="112.5" y="318.6" font-size="9.4" text-anchor="start" font-weight="normal" fill="#000" letter-spacing="0.45" stroke="#000" stroke-width="0.2">Lamp on 88 s</text>
<line x1="83" y1="329.5" x2="110" y2="329.5" stroke="#10108a" stroke-width="1.0"/>
<text x="112.5" y="333" font-size="9.4" text-anchor="start" font-weight="normal" fill="#000" letter-spacing="0.45" stroke="#000" stroke-width="0.2">Lamp on 96 s</text>
<line x1="83" y1="344.5" x2="110" y2="344.5" stroke="#000000" stroke-width="1.0"/>
<text x="112.5" y="347.4" font-size="9.4" text-anchor="start" font-weight="normal" fill="#000" letter-spacing="0.45" stroke="#000" stroke-width="0.2">Lamp on 104 s</text>
<line x1="83" y1="358.5" x2="110" y2="358.5" stroke="#d01010" stroke-width="1.0"/>
<text x="112.5" y="361.8" font-size="9.4" text-anchor="start" font-weight="normal" fill="#000" letter-spacing="0.45" stroke="#000" stroke-width="0.2">Lamp on 112 s</text>
<line x1="348" y1="38.5" x2="374.5" y2="38.5" stroke="#d01010" stroke-width="1.0"/>
<text x="378" y="41.5" font-size="9.4" text-anchor="start" font-weight="normal" fill="#000" letter-spacing="0.45" stroke="#000" stroke-width="0.2">At the beginning, 0 s, Lamp off</text>
<line x1="348" y1="52.5" x2="374.5" y2="52.5" stroke="#1818c8" stroke-width="1.0"/>
<text x="378" y="56.2" font-size="9.4" text-anchor="start" font-weight="normal" fill="#000" letter-spacing="0.45" stroke="#000" stroke-width="0.2">Lamp on 112 s</text>
<line x1="348" y1="67.5" x2="374.5" y2="67.5" stroke="#000000" stroke-width="1.0"/>
<text x="378" y="70.9" font-size="9.4" text-anchor="start" font-weight="normal" fill="#000" letter-spacing="0.45" stroke="#000" stroke-width="0.2">Lamp on 132 s</text>
</svg></body></html>
